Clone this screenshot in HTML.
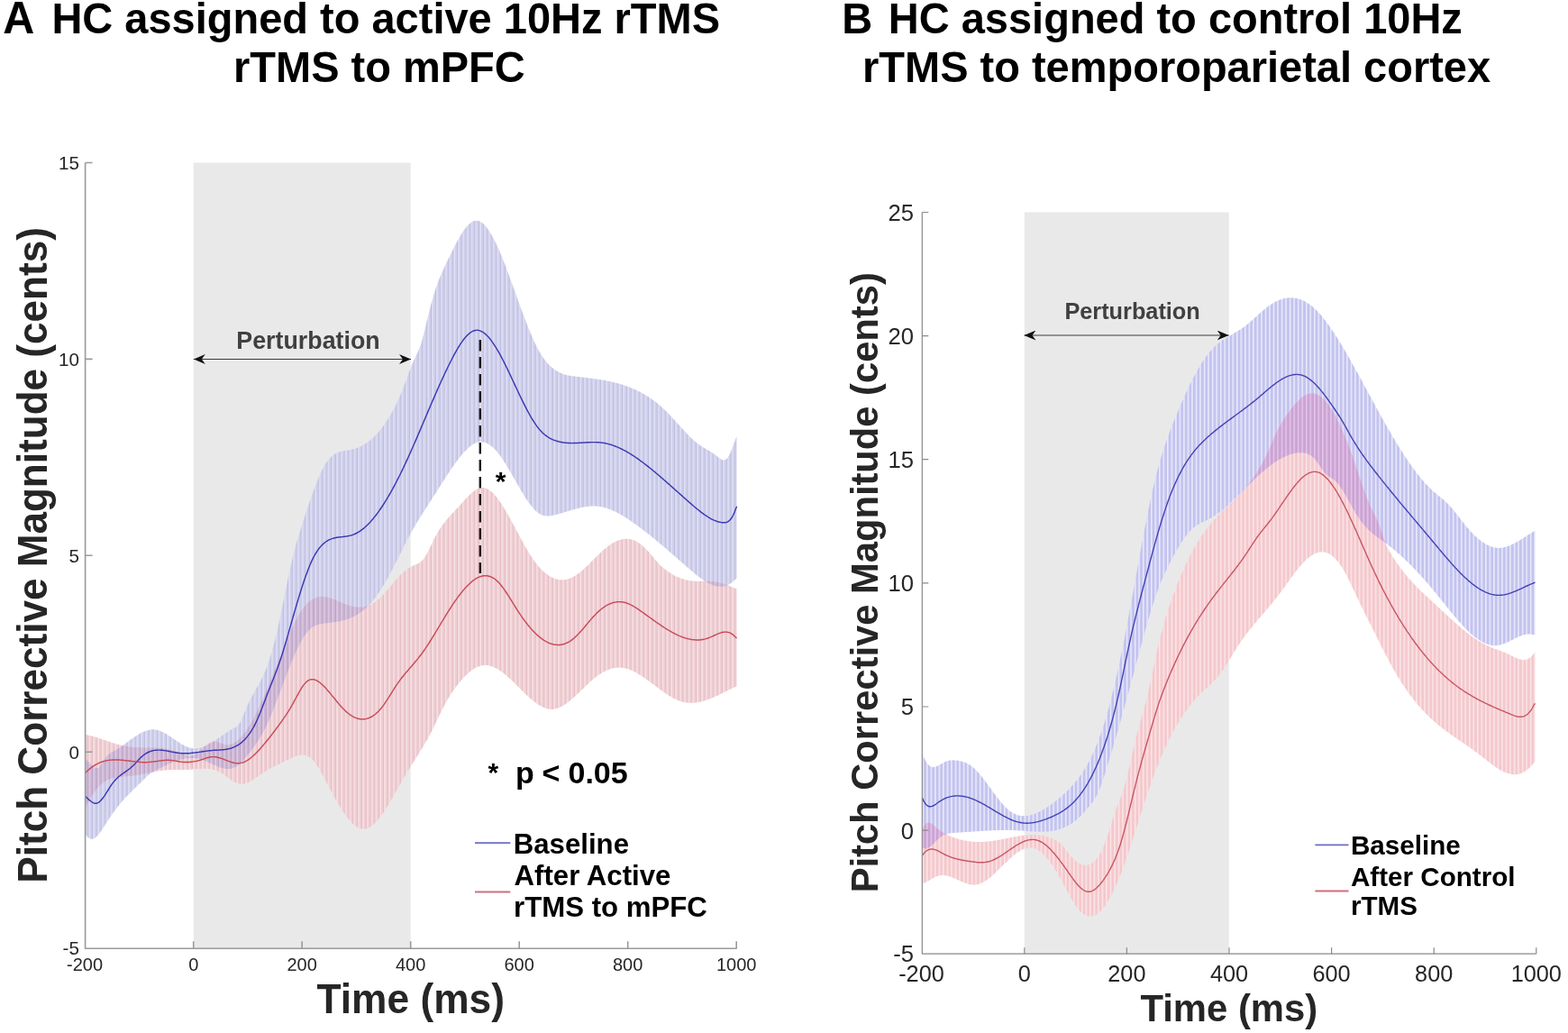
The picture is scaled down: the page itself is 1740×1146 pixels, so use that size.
<!DOCTYPE html>
<html><head><meta charset="utf-8"><style>
html,body{margin:0;padding:0;background:#ffffff;}
svg{display:block;}
text{font-family:"Liberation Sans",Arial,Helvetica,sans-serif;}
.t{font-weight:bold;fill:#000;}
.tk{fill:#262626;}
.lab{font-weight:bold;fill:#262626;}
.leg{font-weight:bold;fill:#000;}
</style></head><body>
<svg width="1740" height="1146" viewBox="0 0 1740 1146">
<rect x="0" y="0" width="1740" height="1146" fill="#ffffff"/>
<defs>
<marker id="ah" viewBox="0 0 13 11" refX="13" refY="5.5" markerWidth="13" markerHeight="11" markerUnits="userSpaceOnUse" orient="auto-start-reverse">
<path d="M0,0 L13,5.5 L0,11 L4,5.5 Z" fill="#111"/>
</marker>
</defs>
<!-- Titles -->
<text class="t" transform="translate(3.2,36.8) scale(1,1.04)" font-size="48.5">A</text>
<text class="t" transform="translate(57.4,36.8) scale(1,1.04)" font-size="47">HC assigned to active 10Hz rTMS</text>
<text class="t" transform="translate(259,90.6) scale(1,1.04)" font-size="47">rTMS to mPFC</text>
<text class="t" transform="translate(934.3,36.9) scale(1,1.04)" font-size="47">B</text>
<text class="t" transform="translate(985.8,36.9) scale(1,1.04)" font-size="47">HC assigned to control 10Hz</text>
<text class="t" transform="translate(957,90.6) scale(1,1.04)" font-size="47">rTMS to temporoparietal cortex</text>

<!-- LEFT PLOT -->
<rect x="214.7" y="180.5" width="241" height="871.7" fill="#e9e9e9"/>
<defs>
<pattern id="pbL" patternUnits="userSpaceOnUse" x="0.9" y="0" width="4.82" height="10"><rect width="4.82" height="10" fill="#cfcfeb"/><rect x="0" width="1.2" height="10" fill="#bdbddd"/><rect x="1.2" width="1.6" height="10" fill="#e0e0f6"/></pattern>
<pattern id="prL" patternUnits="userSpaceOnUse" x="0.9" y="0" width="4.82" height="10"><rect width="4.82" height="10" fill="#eecdd2"/><rect x="0" width="1.2" height="10" fill="#e3bdc3"/><rect x="1.2" width="1.6" height="10" fill="#f8e1e4"/></pattern>
<pattern id="ppL" patternUnits="userSpaceOnUse" x="0.9" y="0" width="4.82" height="10"><rect width="4.82" height="10" fill="#ccb5d4"/><rect x="0" width="1.2" height="10" fill="#bba0c5"/><rect x="1.2" width="1.6" height="10" fill="#dccbe2"/></pattern>
<pattern id="pbR" patternUnits="userSpaceOnUse" x="0.61" y="0" width="4.526" height="10"><rect width="4.526" height="10" fill="#c3c3ef"/><rect x="0" width="1.5" height="10" fill="#ebebfb"/></pattern>
<pattern id="prR" patternUnits="userSpaceOnUse" x="0.61" y="0" width="4.526" height="10"><rect width="4.526" height="10" fill="#f3c9cd"/><rect x="0" width="1.5" height="10" fill="#fde5e8"/></pattern>
<pattern id="ppR" patternUnits="userSpaceOnUse" x="0.61" y="0" width="4.526" height="10"><rect width="4.526" height="10" fill="#caa4d3"/><rect x="0" width="1.5" height="10" fill="#e6c5ea"/></pattern>
</defs>
<clipPath id="clipBL"><path d="M94.6,842.3 L95.6,842.8 L96.6,843.6 L97.6,844.5 L98.6,845.5 L99.6,846.6 L100.6,847.6 L101.6,848.7 L102.6,849.7 L103.6,850.6 L104.6,851.3 L105.6,851.9 L106.6,852.2 L107.6,852.3 L108.6,852.0 L109.6,851.4 L110.6,850.5 L111.6,849.3 L112.6,847.8 L113.6,846.3 L114.6,844.7 L115.6,843.0 L116.6,841.4 L117.6,839.9 L118.6,838.7 L119.6,837.6 L120.6,836.7 L121.6,835.9 L122.6,835.2 L123.6,834.6 L124.6,834.1 L125.6,833.6 L126.6,833.1 L127.6,832.5 L128.6,832.0 L129.6,831.4 L130.6,830.7 L131.6,830.1 L132.6,829.4 L133.6,828.8 L134.6,828.1 L135.6,827.4 L136.6,826.7 L137.6,825.9 L138.6,825.2 L139.6,824.5 L140.6,823.8 L141.6,823.0 L142.6,822.3 L143.6,821.6 L144.6,820.8 L145.6,820.1 L146.6,819.4 L147.6,818.7 L148.6,818.0 L149.6,817.3 L150.6,816.7 L151.6,816.0 L152.6,815.4 L153.6,814.8 L154.6,814.2 L155.6,813.6 L156.6,813.1 L157.6,812.6 L158.6,812.1 L159.6,811.7 L160.6,811.3 L161.6,810.9 L162.6,810.5 L163.6,810.2 L164.6,810.0 L165.6,809.7 L166.6,809.6 L167.6,809.4 L168.6,809.3 L169.6,809.3 L170.6,809.3 L171.6,809.4 L172.6,809.5 L173.6,809.7 L174.6,809.9 L175.6,810.2 L176.6,810.5 L177.6,810.9 L178.6,811.3 L179.6,811.7 L180.6,812.2 L181.6,812.7 L182.6,813.2 L183.6,813.8 L184.6,814.3 L185.6,815.0 L186.6,815.6 L187.6,816.2 L188.6,816.9 L189.6,817.5 L190.6,818.2 L191.6,818.9 L192.6,819.6 L193.6,820.3 L194.6,821.0 L195.6,821.6 L196.6,822.3 L197.6,823.0 L198.6,823.6 L199.6,824.3 L200.6,824.9 L201.6,825.5 L202.6,826.1 L203.6,826.6 L204.6,827.2 L205.6,827.6 L206.6,828.1 L207.6,828.5 L208.6,828.9 L209.6,829.3 L210.6,829.6 L211.6,829.8 L212.6,830.0 L213.6,830.2 L214.6,830.3 L215.6,830.4 L216.6,830.4 L217.6,830.3 L218.6,830.2 L219.6,830.1 L220.6,829.9 L221.6,829.7 L222.6,829.5 L223.6,829.2 L224.6,828.9 L225.6,828.5 L226.6,828.1 L227.6,827.7 L228.6,827.2 L229.6,826.7 L230.6,826.2 L231.6,825.7 L232.6,825.1 L233.6,824.6 L234.6,824.0 L235.6,823.3 L236.6,822.7 L237.6,822.1 L238.6,821.4 L239.6,820.8 L240.6,820.1 L241.6,819.4 L242.6,818.7 L243.6,818.0 L244.6,817.3 L245.6,816.6 L246.6,815.9 L247.6,815.2 L248.6,814.6 L249.6,813.9 L250.6,813.2 L251.6,812.5 L252.6,811.9 L253.6,811.3 L254.6,810.6 L255.6,810.0 L256.6,809.4 L257.6,808.9 L258.6,808.3 L259.6,807.8 L260.6,807.2 L261.6,806.7 L262.6,806.0 L263.6,805.1 L264.6,804.0 L265.6,802.7 L266.6,801.1 L267.6,799.2 L268.6,797.0 L269.6,794.6 L270.6,792.1 L271.6,789.6 L272.6,787.1 L273.6,784.8 L274.6,782.5 L275.6,780.4 L276.6,778.3 L277.6,776.3 L278.6,774.4 L279.6,772.6 L280.6,770.7 L281.6,768.9 L282.6,767.2 L283.6,765.4 L284.6,763.6 L285.6,761.9 L286.6,760.1 L287.6,758.2 L288.6,756.4 L289.6,754.4 L290.6,752.4 L291.6,750.3 L292.6,748.2 L293.6,745.9 L294.6,743.5 L295.6,741.0 L296.6,738.4 L297.6,735.6 L298.6,732.7 L299.6,729.6 L300.6,726.4 L301.6,723.0 L302.6,719.4 L303.6,715.7 L304.6,711.8 L305.6,707.8 L306.6,703.7 L307.6,699.4 L308.6,695.0 L309.6,690.5 L310.6,685.8 L311.6,681.1 L312.6,676.2 L313.6,671.4 L314.6,666.4 L315.6,661.5 L316.6,656.5 L317.6,651.6 L318.6,646.7 L319.6,641.8 L320.6,637.1 L321.6,632.4 L322.6,627.9 L323.6,623.5 L324.6,619.3 L325.6,615.2 L326.6,611.3 L327.6,607.5 L328.6,603.8 L329.6,600.3 L330.6,596.9 L331.6,593.5 L332.6,590.3 L333.6,587.1 L334.6,583.9 L335.6,580.8 L336.6,577.7 L337.6,574.6 L338.6,571.5 L339.6,568.5 L340.6,565.5 L341.6,562.4 L342.6,559.5 L343.6,556.5 L344.6,553.6 L345.6,550.7 L346.6,547.9 L347.6,545.1 L348.6,542.4 L349.6,539.8 L350.6,537.2 L351.6,534.6 L352.6,532.2 L353.6,529.8 L354.6,527.5 L355.6,525.3 L356.6,523.2 L357.6,521.2 L358.6,519.2 L359.6,517.4 L360.6,515.7 L361.6,514.1 L362.6,512.6 L363.6,511.2 L364.6,510.0 L365.6,508.8 L366.6,507.7 L367.6,506.8 L368.6,505.9 L369.6,505.1 L370.6,504.4 L371.6,503.7 L372.6,503.2 L373.6,502.7 L374.6,502.2 L375.6,501.8 L376.6,501.4 L377.6,501.1 L378.6,500.8 L379.6,500.6 L380.6,500.4 L381.6,500.2 L382.6,500.0 L383.6,499.8 L384.6,499.7 L385.6,499.5 L386.6,499.4 L387.6,499.2 L388.6,499.0 L389.6,498.8 L390.6,498.5 L391.6,498.3 L392.6,498.0 L393.6,497.7 L394.6,497.4 L395.6,497.0 L396.6,496.7 L397.6,496.3 L398.6,495.8 L399.6,495.4 L400.6,494.9 L401.6,494.4 L402.6,493.8 L403.6,493.3 L404.6,492.7 L405.6,492.0 L406.6,491.4 L407.6,490.7 L408.6,489.9 L409.6,489.2 L410.6,488.4 L411.6,487.6 L412.6,486.7 L413.6,485.8 L414.6,484.9 L415.6,483.9 L416.6,482.9 L417.6,481.9 L418.6,480.8 L419.6,479.7 L420.6,478.5 L421.6,477.3 L422.6,476.1 L423.6,474.8 L424.6,473.5 L425.6,472.2 L426.6,470.8 L427.6,469.3 L428.6,467.8 L429.6,466.3 L430.6,464.7 L431.6,463.1 L432.6,461.5 L433.6,459.7 L434.6,458.0 L435.6,456.2 L436.6,454.3 L437.6,452.4 L438.6,450.4 L439.6,448.4 L440.6,446.3 L441.6,444.1 L442.6,441.9 L443.6,439.7 L444.6,437.3 L445.6,434.9 L446.6,432.5 L447.6,430.0 L448.6,427.4 L449.6,424.7 L450.6,422.0 L451.6,419.2 L452.6,416.4 L453.6,413.6 L454.6,410.9 L455.6,408.2 L456.6,405.7 L457.6,403.2 L458.6,400.9 L459.6,398.8 L460.6,396.8 L461.6,394.8 L462.6,392.7 L463.6,390.6 L464.6,388.3 L465.6,385.8 L466.6,383.0 L467.6,379.9 L468.6,376.4 L469.6,372.8 L470.6,368.9 L471.6,364.9 L472.6,360.7 L473.6,356.5 L474.6,352.3 L475.6,348.2 L476.6,344.1 L477.6,340.2 L478.6,336.4 L479.6,332.8 L480.6,329.4 L481.6,326.1 L482.6,322.9 L483.6,319.9 L484.6,317.0 L485.6,314.3 L486.6,311.6 L487.6,309.1 L488.6,306.6 L489.6,304.2 L490.6,301.9 L491.6,299.7 L492.6,297.5 L493.6,295.3 L494.6,293.2 L495.6,291.1 L496.6,289.1 L497.6,287.0 L498.6,285.0 L499.6,282.9 L500.6,280.9 L501.6,278.9 L502.6,276.9 L503.6,274.9 L504.6,272.9 L505.6,271.0 L506.6,269.1 L507.6,267.3 L508.6,265.4 L509.6,263.7 L510.6,261.9 L511.6,260.3 L512.6,258.7 L513.6,257.1 L514.6,255.7 L515.6,254.3 L516.6,253.0 L517.6,251.7 L518.6,250.6 L519.6,249.5 L520.6,248.5 L521.6,247.7 L522.6,246.9 L523.6,246.2 L524.6,245.7 L525.6,245.2 L526.6,244.9 L527.6,244.7 L528.6,244.7 L529.6,244.7 L530.6,244.9 L531.6,245.2 L532.6,245.6 L533.6,246.2 L534.6,246.9 L535.6,247.6 L536.6,248.5 L537.6,249.5 L538.6,250.6 L539.6,251.7 L540.6,253.0 L541.6,254.4 L542.6,255.9 L543.6,257.4 L544.6,259.0 L545.6,260.7 L546.6,262.5 L547.6,264.4 L548.6,266.3 L549.6,268.3 L550.6,270.4 L551.6,272.6 L552.6,274.8 L553.6,277.0 L554.6,279.3 L555.6,281.7 L556.6,284.1 L557.6,286.5 L558.6,289.0 L559.6,291.6 L560.6,294.1 L561.6,296.8 L562.6,299.4 L563.6,302.1 L564.6,304.7 L565.6,307.5 L566.6,310.2 L567.6,312.9 L568.6,315.7 L569.6,318.5 L570.6,321.3 L571.6,324.0 L572.6,326.8 L573.6,329.6 L574.6,332.4 L575.6,335.2 L576.6,337.9 L577.6,340.7 L578.6,343.4 L579.6,346.1 L580.6,348.8 L581.6,351.5 L582.6,354.1 L583.6,356.7 L584.6,359.3 L585.6,361.8 L586.6,364.3 L587.6,366.8 L588.6,369.2 L589.6,371.5 L590.6,373.8 L591.6,376.1 L592.6,378.3 L593.6,380.4 L594.6,382.5 L595.6,384.5 L596.6,386.4 L597.6,388.3 L598.6,390.1 L599.6,391.8 L600.6,393.4 L601.6,395.0 L602.6,396.5 L603.6,397.9 L604.6,399.2 L605.6,400.5 L606.6,401.7 L607.6,402.9 L608.6,404.0 L609.6,405.0 L610.6,406.0 L611.6,406.9 L612.6,407.8 L613.6,408.6 L614.6,409.4 L615.6,410.1 L616.6,410.8 L617.6,411.4 L618.6,412.0 L619.6,412.5 L620.6,413.0 L621.6,413.5 L622.6,414.0 L623.6,414.4 L624.6,414.7 L625.6,415.1 L626.6,415.4 L627.6,415.7 L628.6,415.9 L629.6,416.2 L630.6,416.4 L631.6,416.6 L632.6,416.8 L633.6,416.9 L634.6,417.1 L635.6,417.3 L636.6,417.4 L637.6,417.5 L638.6,417.6 L639.6,417.8 L640.6,417.9 L641.6,418.0 L642.6,418.1 L643.6,418.2 L644.6,418.4 L645.6,418.5 L646.6,418.6 L647.6,418.7 L648.6,418.8 L649.6,419.0 L650.6,419.1 L651.6,419.2 L652.6,419.3 L653.6,419.4 L654.6,419.6 L655.6,419.7 L656.6,419.8 L657.6,420.0 L658.6,420.1 L659.6,420.2 L660.6,420.4 L661.6,420.5 L662.6,420.6 L663.6,420.8 L664.6,420.9 L665.6,421.1 L666.6,421.3 L667.6,421.4 L668.6,421.6 L669.6,421.8 L670.6,421.9 L671.6,422.1 L672.6,422.3 L673.6,422.5 L674.6,422.7 L675.6,422.9 L676.6,423.1 L677.6,423.3 L678.6,423.5 L679.6,423.8 L680.6,424.0 L681.6,424.2 L682.6,424.5 L683.6,424.7 L684.6,425.0 L685.6,425.3 L686.6,425.6 L687.6,425.8 L688.6,426.1 L689.6,426.4 L690.6,426.7 L691.6,427.1 L692.6,427.4 L693.6,427.7 L694.6,428.1 L695.6,428.4 L696.6,428.8 L697.6,429.2 L698.6,429.6 L699.6,429.9 L700.6,430.4 L701.6,430.8 L702.6,431.2 L703.6,431.6 L704.6,432.1 L705.6,432.5 L706.6,433.0 L707.6,433.5 L708.6,434.0 L709.6,434.5 L710.6,435.0 L711.6,435.6 L712.6,436.1 L713.6,436.7 L714.6,437.3 L715.6,437.9 L716.6,438.5 L717.6,439.1 L718.6,439.7 L719.6,440.3 L720.6,441.0 L721.6,441.7 L722.6,442.4 L723.6,443.1 L724.6,443.8 L725.6,444.5 L726.6,445.3 L727.6,446.1 L728.6,446.8 L729.6,447.6 L730.6,448.5 L731.6,449.3 L732.6,450.1 L733.6,451.0 L734.6,451.9 L735.6,452.8 L736.6,453.7 L737.6,454.7 L738.6,455.6 L739.6,456.6 L740.6,457.6 L741.6,458.6 L742.6,459.6 L743.6,460.7 L744.6,461.7 L745.6,462.8 L746.6,463.9 L747.6,465.0 L748.6,466.1 L749.6,467.2 L750.6,468.3 L751.6,469.4 L752.6,470.5 L753.6,471.6 L754.6,472.7 L755.6,473.8 L756.6,474.9 L757.6,476.0 L758.6,477.1 L759.6,478.2 L760.6,479.3 L761.6,480.3 L762.6,481.4 L763.6,482.4 L764.6,483.4 L765.6,484.4 L766.6,485.4 L767.6,486.4 L768.6,487.3 L769.6,488.2 L770.6,489.1 L771.6,489.9 L772.6,490.8 L773.6,491.6 L774.6,492.4 L775.6,493.1 L776.6,493.8 L777.6,494.5 L778.6,495.1 L779.6,495.8 L780.6,496.4 L781.6,497.0 L782.6,497.6 L783.6,498.2 L784.6,498.8 L785.6,499.3 L786.6,499.9 L787.6,500.5 L788.6,501.1 L789.6,501.8 L790.6,502.4 L791.6,503.1 L792.6,503.8 L793.6,504.5 L794.6,505.3 L795.6,506.1 L796.6,506.9 L797.6,507.7 L798.6,508.5 L799.6,509.1 L800.6,509.7 L801.6,510.1 L802.6,510.4 L803.6,510.4 L804.6,510.1 L805.6,509.6 L806.6,508.8 L807.6,507.6 L808.6,506.1 L809.6,504.2 L810.6,502.0 L811.6,499.5 L812.6,496.9 L813.6,494.3 L814.6,491.5 L815.6,488.9 L816.6,486.3 L817.6,483.9 L817.7,483.7 L817.7,641.1 L817.6,641.2 L816.6,642.3 L815.6,643.3 L814.6,644.2 L813.6,645.1 L812.6,645.9 L811.6,646.6 L810.6,647.3 L809.6,647.9 L808.6,648.4 L807.6,648.9 L806.6,649.3 L805.6,649.7 L804.6,650.0 L803.6,650.3 L802.6,650.4 L801.6,650.6 L800.6,650.7 L799.6,650.7 L798.6,650.7 L797.6,650.6 L796.6,650.5 L795.6,650.4 L794.6,650.2 L793.6,649.9 L792.6,649.7 L791.6,649.4 L790.6,649.0 L789.6,648.6 L788.6,648.2 L787.6,647.7 L786.6,647.2 L785.6,646.7 L784.6,646.1 L783.6,645.6 L782.6,645.0 L781.6,644.3 L780.6,643.7 L779.6,643.0 L778.6,642.3 L777.6,641.5 L776.6,640.8 L775.6,640.0 L774.6,639.3 L773.6,638.5 L772.6,637.7 L771.6,636.9 L770.6,636.0 L769.6,635.2 L768.6,634.3 L767.6,633.5 L766.6,632.6 L765.6,631.8 L764.6,630.9 L763.6,630.0 L762.6,629.2 L761.6,628.3 L760.6,627.4 L759.6,626.6 L758.6,625.7 L757.6,624.8 L756.6,624.0 L755.6,623.1 L754.6,622.2 L753.6,621.4 L752.6,620.5 L751.6,619.6 L750.6,618.7 L749.6,617.9 L748.6,617.0 L747.6,616.1 L746.6,615.3 L745.6,614.4 L744.6,613.5 L743.6,612.7 L742.6,611.8 L741.6,610.9 L740.6,610.1 L739.6,609.2 L738.6,608.3 L737.6,607.5 L736.6,606.6 L735.6,605.8 L734.6,604.9 L733.6,604.1 L732.6,603.2 L731.6,602.4 L730.6,601.6 L729.6,600.7 L728.6,599.9 L727.6,599.1 L726.6,598.2 L725.6,597.4 L724.6,596.6 L723.6,595.8 L722.6,595.0 L721.6,594.2 L720.6,593.4 L719.6,592.6 L718.6,591.8 L717.6,591.0 L716.6,590.2 L715.6,589.4 L714.6,588.7 L713.6,587.9 L712.6,587.1 L711.6,586.4 L710.6,585.6 L709.6,584.9 L708.6,584.1 L707.6,583.4 L706.6,582.7 L705.6,581.9 L704.6,581.2 L703.6,580.5 L702.6,579.8 L701.6,579.1 L700.6,578.4 L699.6,577.7 L698.6,577.1 L697.6,576.4 L696.6,575.7 L695.6,575.1 L694.6,574.4 L693.6,573.8 L692.6,573.2 L691.6,572.6 L690.6,572.0 L689.6,571.4 L688.6,570.8 L687.6,570.3 L686.6,569.7 L685.6,569.2 L684.6,568.6 L683.6,568.1 L682.6,567.6 L681.6,567.2 L680.6,566.7 L679.6,566.3 L678.6,565.8 L677.6,565.4 L676.6,565.0 L675.6,564.7 L674.6,564.3 L673.6,564.0 L672.6,563.6 L671.6,563.4 L670.6,563.1 L669.6,562.8 L668.6,562.6 L667.6,562.4 L666.6,562.2 L665.6,562.0 L664.6,561.9 L663.6,561.8 L662.6,561.7 L661.6,561.6 L660.6,561.5 L659.6,561.5 L658.6,561.5 L657.6,561.5 L656.6,561.6 L655.6,561.6 L654.6,561.7 L653.6,561.8 L652.6,561.9 L651.6,562.0 L650.6,562.1 L649.6,562.3 L648.6,562.4 L647.6,562.6 L646.6,562.8 L645.6,563.0 L644.6,563.2 L643.6,563.4 L642.6,563.7 L641.6,563.9 L640.6,564.2 L639.6,564.4 L638.6,564.7 L637.6,565.0 L636.6,565.3 L635.6,565.5 L634.6,565.8 L633.6,566.1 L632.6,566.4 L631.6,566.7 L630.6,567.0 L629.6,567.3 L628.6,567.6 L627.6,567.9 L626.6,568.2 L625.6,568.6 L624.6,568.9 L623.6,569.1 L622.6,569.4 L621.6,569.7 L620.6,570.0 L619.6,570.3 L618.6,570.6 L617.6,570.8 L616.6,571.1 L615.6,571.3 L614.6,571.6 L613.6,571.8 L612.6,572.0 L611.6,572.2 L610.6,572.3 L609.6,572.5 L608.6,572.5 L607.6,572.6 L606.6,572.5 L605.6,572.5 L604.6,572.3 L603.6,572.1 L602.6,571.9 L601.6,571.5 L600.6,571.1 L599.6,570.6 L598.6,570.0 L597.6,569.3 L596.6,568.6 L595.6,567.7 L594.6,566.8 L593.6,565.9 L592.6,564.8 L591.6,563.7 L590.6,562.6 L589.6,561.3 L588.6,560.1 L587.6,558.7 L586.6,557.4 L585.6,555.9 L584.6,554.5 L583.6,552.9 L582.6,551.4 L581.6,549.8 L580.6,548.2 L579.6,546.6 L578.6,544.9 L577.6,543.2 L576.6,541.5 L575.6,539.8 L574.6,538.0 L573.6,536.3 L572.6,534.5 L571.6,532.8 L570.6,531.0 L569.6,529.2 L568.6,527.5 L567.6,525.7 L566.6,524.0 L565.6,522.3 L564.6,520.6 L563.6,518.9 L562.6,517.2 L561.6,515.6 L560.6,514.0 L559.6,512.4 L558.6,510.8 L557.6,509.3 L556.6,507.9 L555.6,506.4 L554.6,505.1 L553.6,503.7 L552.6,502.5 L551.6,501.2 L550.6,500.1 L549.6,499.0 L548.6,497.9 L547.6,497.0 L546.6,496.0 L545.6,495.2 L544.6,494.4 L543.6,493.7 L542.6,493.0 L541.6,492.4 L540.6,491.9 L539.6,491.4 L538.6,491.0 L537.6,490.7 L536.6,490.5 L535.6,490.3 L534.6,490.2 L533.6,490.2 L532.6,490.2 L531.6,490.3 L530.6,490.5 L529.6,490.8 L528.6,491.2 L527.6,491.6 L526.6,492.0 L525.6,492.6 L524.6,493.2 L523.6,493.9 L522.6,494.6 L521.6,495.3 L520.6,496.2 L519.6,497.0 L518.6,498.0 L517.6,498.9 L516.6,500.0 L515.6,501.0 L514.6,502.1 L513.6,503.3 L512.6,504.4 L511.6,505.6 L510.6,506.9 L509.6,508.1 L508.6,509.4 L507.6,510.7 L506.6,512.1 L505.6,513.4 L504.6,514.8 L503.6,516.2 L502.6,517.7 L501.6,519.1 L500.6,520.6 L499.6,522.0 L498.6,523.5 L497.6,525.0 L496.6,526.6 L495.6,528.1 L494.6,529.6 L493.6,531.2 L492.6,532.7 L491.6,534.3 L490.6,535.9 L489.6,537.4 L488.6,539.0 L487.6,540.6 L486.6,542.2 L485.6,543.7 L484.6,545.3 L483.6,546.9 L482.6,548.4 L481.6,550.0 L480.6,551.6 L479.6,553.1 L478.6,554.7 L477.6,556.2 L476.6,557.7 L475.6,559.3 L474.6,560.8 L473.6,562.4 L472.6,563.9 L471.6,565.5 L470.6,567.0 L469.6,568.6 L468.6,570.2 L467.6,571.8 L466.6,573.4 L465.6,575.0 L464.6,576.6 L463.6,578.2 L462.6,579.9 L461.6,581.6 L460.6,583.3 L459.6,585.0 L458.6,586.7 L457.6,588.4 L456.6,590.2 L455.6,592.0 L454.6,593.8 L453.6,595.7 L452.6,597.5 L451.6,599.4 L450.6,601.4 L449.6,603.3 L448.6,605.3 L447.6,607.3 L446.6,609.4 L445.6,611.4 L444.6,613.4 L443.6,615.5 L442.6,617.5 L441.6,619.5 L440.6,621.5 L439.6,623.5 L438.6,625.5 L437.6,627.4 L436.6,629.4 L435.6,631.3 L434.6,633.2 L433.6,635.1 L432.6,637.0 L431.6,638.8 L430.6,640.7 L429.6,642.5 L428.6,644.2 L427.6,646.0 L426.6,647.7 L425.6,649.4 L424.6,651.0 L423.6,652.7 L422.6,654.3 L421.6,655.8 L420.6,657.3 L419.6,658.8 L418.6,660.2 L417.6,661.6 L416.6,662.9 L415.6,664.2 L414.6,665.5 L413.6,666.7 L412.6,667.9 L411.6,669.0 L410.6,670.1 L409.6,671.1 L408.6,672.2 L407.6,673.1 L406.6,674.1 L405.6,675.0 L404.6,675.9 L403.6,676.7 L402.6,677.5 L401.6,678.3 L400.6,679.0 L399.6,679.7 L398.6,680.4 L397.6,681.1 L396.6,681.7 L395.6,682.3 L394.6,682.8 L393.6,683.4 L392.6,683.9 L391.6,684.4 L390.6,684.9 L389.6,685.3 L388.6,685.7 L387.6,686.1 L386.6,686.5 L385.6,686.9 L384.6,687.2 L383.6,687.5 L382.6,687.8 L381.6,688.1 L380.6,688.4 L379.6,688.6 L378.6,688.9 L377.6,689.1 L376.6,689.3 L375.6,689.5 L374.6,689.7 L373.6,689.9 L372.6,690.0 L371.6,690.2 L370.6,690.3 L369.6,690.5 L368.6,690.6 L367.6,690.7 L366.6,690.9 L365.6,691.0 L364.6,691.1 L363.6,691.2 L362.6,691.3 L361.6,691.4 L360.6,691.5 L359.6,691.6 L358.6,691.7 L357.6,691.9 L356.6,692.0 L355.6,692.2 L354.6,692.4 L353.6,692.7 L352.6,693.0 L351.6,693.3 L350.6,693.7 L349.6,694.2 L348.6,694.7 L347.6,695.3 L346.6,695.9 L345.6,696.6 L344.6,697.5 L343.6,698.4 L342.6,699.4 L341.6,700.5 L340.6,701.7 L339.6,703.0 L338.6,704.3 L337.6,705.8 L336.6,707.4 L335.6,709.0 L334.6,710.8 L333.6,712.6 L332.6,714.5 L331.6,716.4 L330.6,718.5 L329.6,720.6 L328.6,722.7 L327.6,724.9 L326.6,727.2 L325.6,729.5 L324.6,731.9 L323.6,734.3 L322.6,736.8 L321.6,739.2 L320.6,741.8 L319.6,744.3 L318.6,746.9 L317.6,749.5 L316.6,752.2 L315.6,754.8 L314.6,757.5 L313.6,760.2 L312.6,762.9 L311.6,765.6 L310.6,768.2 L309.6,770.9 L308.6,773.6 L307.6,776.2 L306.6,778.9 L305.6,781.5 L304.6,784.0 L303.6,786.6 L302.6,789.1 L301.6,791.6 L300.6,794.0 L299.6,796.3 L298.6,798.7 L297.6,800.9 L296.6,803.1 L295.6,805.3 L294.6,807.3 L293.6,809.3 L292.6,811.2 L291.6,813.1 L290.6,814.9 L289.6,816.6 L288.6,818.3 L287.6,819.9 L286.6,821.5 L285.6,823.0 L284.6,824.5 L283.6,825.9 L282.6,827.4 L281.6,828.8 L280.6,830.2 L279.6,831.5 L278.6,832.9 L277.6,834.2 L276.6,835.5 L275.6,836.8 L274.6,838.1 L273.6,839.3 L272.6,840.6 L271.6,841.7 L270.6,842.9 L269.6,844.0 L268.6,845.0 L267.6,846.0 L266.6,847.0 L265.6,847.9 L264.6,848.7 L263.6,849.4 L262.6,850.1 L261.6,850.7 L260.6,851.2 L259.6,851.6 L258.6,852.0 L257.6,852.3 L256.6,852.5 L255.6,852.7 L254.6,852.9 L253.6,852.9 L252.6,852.9 L251.6,852.9 L250.6,852.8 L249.6,852.7 L248.6,852.5 L247.6,852.3 L246.6,852.1 L245.6,851.8 L244.6,851.5 L243.6,851.2 L242.6,850.8 L241.6,850.4 L240.6,850.0 L239.6,849.6 L238.6,849.1 L237.6,848.7 L236.6,848.2 L235.6,847.8 L234.6,847.3 L233.6,846.8 L232.6,846.3 L231.6,845.9 L230.6,845.4 L229.6,845.0 L228.6,844.5 L227.6,844.1 L226.6,843.7 L225.6,843.3 L224.6,843.0 L223.6,842.6 L222.6,842.3 L221.6,842.0 L220.6,841.8 L219.6,841.6 L218.6,841.4 L217.6,841.3 L216.6,841.1 L215.6,841.0 L214.6,841.0 L213.6,840.9 L212.6,840.9 L211.6,841.0 L210.6,841.0 L209.6,841.1 L208.6,841.2 L207.6,841.3 L206.6,841.4 L205.6,841.6 L204.6,841.8 L203.6,842.0 L202.6,842.2 L201.6,842.4 L200.6,842.7 L199.6,843.0 L198.6,843.3 L197.6,843.6 L196.6,843.9 L195.6,844.3 L194.6,844.6 L193.6,845.0 L192.6,845.4 L191.6,845.8 L190.6,846.2 L189.6,846.6 L188.6,847.1 L187.6,847.5 L186.6,848.0 L185.6,848.4 L184.6,848.9 L183.6,849.4 L182.6,849.8 L181.6,850.3 L180.6,850.8 L179.6,851.3 L178.6,851.8 L177.6,852.3 L176.6,852.8 L175.6,853.3 L174.6,853.8 L173.6,854.3 L172.6,854.8 L171.6,855.3 L170.6,855.9 L169.6,856.5 L168.6,857.1 L167.6,857.7 L166.6,858.4 L165.6,859.2 L164.6,860.0 L163.6,860.8 L162.6,861.7 L161.6,862.7 L160.6,863.7 L159.6,864.7 L158.6,865.7 L157.6,866.7 L156.6,867.7 L155.6,868.7 L154.6,869.7 L153.6,870.6 L152.6,871.6 L151.6,872.6 L150.6,873.5 L149.6,874.5 L148.6,875.4 L147.6,876.4 L146.6,877.4 L145.6,878.4 L144.6,879.4 L143.6,880.4 L142.6,881.4 L141.6,882.4 L140.6,883.5 L139.6,884.5 L138.6,885.6 L137.6,886.7 L136.6,887.9 L135.6,889.0 L134.6,890.2 L133.6,891.4 L132.6,892.6 L131.6,893.9 L130.6,895.1 L129.6,896.4 L128.6,897.8 L127.6,899.1 L126.6,900.5 L125.6,901.8 L124.6,903.3 L123.6,904.7 L122.6,906.1 L121.6,907.6 L120.6,909.1 L119.6,910.6 L118.6,912.2 L117.6,913.7 L116.6,915.3 L115.6,916.8 L114.6,918.4 L113.6,919.9 L112.6,921.4 L111.6,922.8 L110.6,924.2 L109.6,925.4 L108.6,926.6 L107.6,927.7 L106.6,928.6 L105.6,929.4 L104.6,930.0 L103.6,930.5 L102.6,930.8 L101.6,930.9 L100.6,930.8 L99.6,930.4 L98.6,929.8 L97.6,929.0 L96.6,927.9 L95.6,926.5 L94.6,924.9 Z"/></clipPath>
<path d="M94.6,842.3 L95.6,842.8 L96.6,843.6 L97.6,844.5 L98.6,845.5 L99.6,846.6 L100.6,847.6 L101.6,848.7 L102.6,849.7 L103.6,850.6 L104.6,851.3 L105.6,851.9 L106.6,852.2 L107.6,852.3 L108.6,852.0 L109.6,851.4 L110.6,850.5 L111.6,849.3 L112.6,847.8 L113.6,846.3 L114.6,844.7 L115.6,843.0 L116.6,841.4 L117.6,839.9 L118.6,838.7 L119.6,837.6 L120.6,836.7 L121.6,835.9 L122.6,835.2 L123.6,834.6 L124.6,834.1 L125.6,833.6 L126.6,833.1 L127.6,832.5 L128.6,832.0 L129.6,831.4 L130.6,830.7 L131.6,830.1 L132.6,829.4 L133.6,828.8 L134.6,828.1 L135.6,827.4 L136.6,826.7 L137.6,825.9 L138.6,825.2 L139.6,824.5 L140.6,823.8 L141.6,823.0 L142.6,822.3 L143.6,821.6 L144.6,820.8 L145.6,820.1 L146.6,819.4 L147.6,818.7 L148.6,818.0 L149.6,817.3 L150.6,816.7 L151.6,816.0 L152.6,815.4 L153.6,814.8 L154.6,814.2 L155.6,813.6 L156.6,813.1 L157.6,812.6 L158.6,812.1 L159.6,811.7 L160.6,811.3 L161.6,810.9 L162.6,810.5 L163.6,810.2 L164.6,810.0 L165.6,809.7 L166.6,809.6 L167.6,809.4 L168.6,809.3 L169.6,809.3 L170.6,809.3 L171.6,809.4 L172.6,809.5 L173.6,809.7 L174.6,809.9 L175.6,810.2 L176.6,810.5 L177.6,810.9 L178.6,811.3 L179.6,811.7 L180.6,812.2 L181.6,812.7 L182.6,813.2 L183.6,813.8 L184.6,814.3 L185.6,815.0 L186.6,815.6 L187.6,816.2 L188.6,816.9 L189.6,817.5 L190.6,818.2 L191.6,818.9 L192.6,819.6 L193.6,820.3 L194.6,821.0 L195.6,821.6 L196.6,822.3 L197.6,823.0 L198.6,823.6 L199.6,824.3 L200.6,824.9 L201.6,825.5 L202.6,826.1 L203.6,826.6 L204.6,827.2 L205.6,827.6 L206.6,828.1 L207.6,828.5 L208.6,828.9 L209.6,829.3 L210.6,829.6 L211.6,829.8 L212.6,830.0 L213.6,830.2 L214.6,830.3 L215.6,830.4 L216.6,830.4 L217.6,830.3 L218.6,830.2 L219.6,830.1 L220.6,829.9 L221.6,829.7 L222.6,829.5 L223.6,829.2 L224.6,828.9 L225.6,828.5 L226.6,828.1 L227.6,827.7 L228.6,827.2 L229.6,826.7 L230.6,826.2 L231.6,825.7 L232.6,825.1 L233.6,824.6 L234.6,824.0 L235.6,823.3 L236.6,822.7 L237.6,822.1 L238.6,821.4 L239.6,820.8 L240.6,820.1 L241.6,819.4 L242.6,818.7 L243.6,818.0 L244.6,817.3 L245.6,816.6 L246.6,815.9 L247.6,815.2 L248.6,814.6 L249.6,813.9 L250.6,813.2 L251.6,812.5 L252.6,811.9 L253.6,811.3 L254.6,810.6 L255.6,810.0 L256.6,809.4 L257.6,808.9 L258.6,808.3 L259.6,807.8 L260.6,807.2 L261.6,806.7 L262.6,806.0 L263.6,805.1 L264.6,804.0 L265.6,802.7 L266.6,801.1 L267.6,799.2 L268.6,797.0 L269.6,794.6 L270.6,792.1 L271.6,789.6 L272.6,787.1 L273.6,784.8 L274.6,782.5 L275.6,780.4 L276.6,778.3 L277.6,776.3 L278.6,774.4 L279.6,772.6 L280.6,770.7 L281.6,768.9 L282.6,767.2 L283.6,765.4 L284.6,763.6 L285.6,761.9 L286.6,760.1 L287.6,758.2 L288.6,756.4 L289.6,754.4 L290.6,752.4 L291.6,750.3 L292.6,748.2 L293.6,745.9 L294.6,743.5 L295.6,741.0 L296.6,738.4 L297.6,735.6 L298.6,732.7 L299.6,729.6 L300.6,726.4 L301.6,723.0 L302.6,719.4 L303.6,715.7 L304.6,711.8 L305.6,707.8 L306.6,703.7 L307.6,699.4 L308.6,695.0 L309.6,690.5 L310.6,685.8 L311.6,681.1 L312.6,676.2 L313.6,671.4 L314.6,666.4 L315.6,661.5 L316.6,656.5 L317.6,651.6 L318.6,646.7 L319.6,641.8 L320.6,637.1 L321.6,632.4 L322.6,627.9 L323.6,623.5 L324.6,619.3 L325.6,615.2 L326.6,611.3 L327.6,607.5 L328.6,603.8 L329.6,600.3 L330.6,596.9 L331.6,593.5 L332.6,590.3 L333.6,587.1 L334.6,583.9 L335.6,580.8 L336.6,577.7 L337.6,574.6 L338.6,571.5 L339.6,568.5 L340.6,565.5 L341.6,562.4 L342.6,559.5 L343.6,556.5 L344.6,553.6 L345.6,550.7 L346.6,547.9 L347.6,545.1 L348.6,542.4 L349.6,539.8 L350.6,537.2 L351.6,534.6 L352.6,532.2 L353.6,529.8 L354.6,527.5 L355.6,525.3 L356.6,523.2 L357.6,521.2 L358.6,519.2 L359.6,517.4 L360.6,515.7 L361.6,514.1 L362.6,512.6 L363.6,511.2 L364.6,510.0 L365.6,508.8 L366.6,507.7 L367.6,506.8 L368.6,505.9 L369.6,505.1 L370.6,504.4 L371.6,503.7 L372.6,503.2 L373.6,502.7 L374.6,502.2 L375.6,501.8 L376.6,501.4 L377.6,501.1 L378.6,500.8 L379.6,500.6 L380.6,500.4 L381.6,500.2 L382.6,500.0 L383.6,499.8 L384.6,499.7 L385.6,499.5 L386.6,499.4 L387.6,499.2 L388.6,499.0 L389.6,498.8 L390.6,498.5 L391.6,498.3 L392.6,498.0 L393.6,497.7 L394.6,497.4 L395.6,497.0 L396.6,496.7 L397.6,496.3 L398.6,495.8 L399.6,495.4 L400.6,494.9 L401.6,494.4 L402.6,493.8 L403.6,493.3 L404.6,492.7 L405.6,492.0 L406.6,491.4 L407.6,490.7 L408.6,489.9 L409.6,489.2 L410.6,488.4 L411.6,487.6 L412.6,486.7 L413.6,485.8 L414.6,484.9 L415.6,483.9 L416.6,482.9 L417.6,481.9 L418.6,480.8 L419.6,479.7 L420.6,478.5 L421.6,477.3 L422.6,476.1 L423.6,474.8 L424.6,473.5 L425.6,472.2 L426.6,470.8 L427.6,469.3 L428.6,467.8 L429.6,466.3 L430.6,464.7 L431.6,463.1 L432.6,461.5 L433.6,459.7 L434.6,458.0 L435.6,456.2 L436.6,454.3 L437.6,452.4 L438.6,450.4 L439.6,448.4 L440.6,446.3 L441.6,444.1 L442.6,441.9 L443.6,439.7 L444.6,437.3 L445.6,434.9 L446.6,432.5 L447.6,430.0 L448.6,427.4 L449.6,424.7 L450.6,422.0 L451.6,419.2 L452.6,416.4 L453.6,413.6 L454.6,410.9 L455.6,408.2 L456.6,405.7 L457.6,403.2 L458.6,400.9 L459.6,398.8 L460.6,396.8 L461.6,394.8 L462.6,392.7 L463.6,390.6 L464.6,388.3 L465.6,385.8 L466.6,383.0 L467.6,379.9 L468.6,376.4 L469.6,372.8 L470.6,368.9 L471.6,364.9 L472.6,360.7 L473.6,356.5 L474.6,352.3 L475.6,348.2 L476.6,344.1 L477.6,340.2 L478.6,336.4 L479.6,332.8 L480.6,329.4 L481.6,326.1 L482.6,322.9 L483.6,319.9 L484.6,317.0 L485.6,314.3 L486.6,311.6 L487.6,309.1 L488.6,306.6 L489.6,304.2 L490.6,301.9 L491.6,299.7 L492.6,297.5 L493.6,295.3 L494.6,293.2 L495.6,291.1 L496.6,289.1 L497.6,287.0 L498.6,285.0 L499.6,282.9 L500.6,280.9 L501.6,278.9 L502.6,276.9 L503.6,274.9 L504.6,272.9 L505.6,271.0 L506.6,269.1 L507.6,267.3 L508.6,265.4 L509.6,263.7 L510.6,261.9 L511.6,260.3 L512.6,258.7 L513.6,257.1 L514.6,255.7 L515.6,254.3 L516.6,253.0 L517.6,251.7 L518.6,250.6 L519.6,249.5 L520.6,248.5 L521.6,247.7 L522.6,246.9 L523.6,246.2 L524.6,245.7 L525.6,245.2 L526.6,244.9 L527.6,244.7 L528.6,244.7 L529.6,244.7 L530.6,244.9 L531.6,245.2 L532.6,245.6 L533.6,246.2 L534.6,246.9 L535.6,247.6 L536.6,248.5 L537.6,249.5 L538.6,250.6 L539.6,251.7 L540.6,253.0 L541.6,254.4 L542.6,255.9 L543.6,257.4 L544.6,259.0 L545.6,260.7 L546.6,262.5 L547.6,264.4 L548.6,266.3 L549.6,268.3 L550.6,270.4 L551.6,272.6 L552.6,274.8 L553.6,277.0 L554.6,279.3 L555.6,281.7 L556.6,284.1 L557.6,286.5 L558.6,289.0 L559.6,291.6 L560.6,294.1 L561.6,296.8 L562.6,299.4 L563.6,302.1 L564.6,304.7 L565.6,307.5 L566.6,310.2 L567.6,312.9 L568.6,315.7 L569.6,318.5 L570.6,321.3 L571.6,324.0 L572.6,326.8 L573.6,329.6 L574.6,332.4 L575.6,335.2 L576.6,337.9 L577.6,340.7 L578.6,343.4 L579.6,346.1 L580.6,348.8 L581.6,351.5 L582.6,354.1 L583.6,356.7 L584.6,359.3 L585.6,361.8 L586.6,364.3 L587.6,366.8 L588.6,369.2 L589.6,371.5 L590.6,373.8 L591.6,376.1 L592.6,378.3 L593.6,380.4 L594.6,382.5 L595.6,384.5 L596.6,386.4 L597.6,388.3 L598.6,390.1 L599.6,391.8 L600.6,393.4 L601.6,395.0 L602.6,396.5 L603.6,397.9 L604.6,399.2 L605.6,400.5 L606.6,401.7 L607.6,402.9 L608.6,404.0 L609.6,405.0 L610.6,406.0 L611.6,406.9 L612.6,407.8 L613.6,408.6 L614.6,409.4 L615.6,410.1 L616.6,410.8 L617.6,411.4 L618.6,412.0 L619.6,412.5 L620.6,413.0 L621.6,413.5 L622.6,414.0 L623.6,414.4 L624.6,414.7 L625.6,415.1 L626.6,415.4 L627.6,415.7 L628.6,415.9 L629.6,416.2 L630.6,416.4 L631.6,416.6 L632.6,416.8 L633.6,416.9 L634.6,417.1 L635.6,417.3 L636.6,417.4 L637.6,417.5 L638.6,417.6 L639.6,417.8 L640.6,417.9 L641.6,418.0 L642.6,418.1 L643.6,418.2 L644.6,418.4 L645.6,418.5 L646.6,418.6 L647.6,418.7 L648.6,418.8 L649.6,419.0 L650.6,419.1 L651.6,419.2 L652.6,419.3 L653.6,419.4 L654.6,419.6 L655.6,419.7 L656.6,419.8 L657.6,420.0 L658.6,420.1 L659.6,420.2 L660.6,420.4 L661.6,420.5 L662.6,420.6 L663.6,420.8 L664.6,420.9 L665.6,421.1 L666.6,421.3 L667.6,421.4 L668.6,421.6 L669.6,421.8 L670.6,421.9 L671.6,422.1 L672.6,422.3 L673.6,422.5 L674.6,422.7 L675.6,422.9 L676.6,423.1 L677.6,423.3 L678.6,423.5 L679.6,423.8 L680.6,424.0 L681.6,424.2 L682.6,424.5 L683.6,424.7 L684.6,425.0 L685.6,425.3 L686.6,425.6 L687.6,425.8 L688.6,426.1 L689.6,426.4 L690.6,426.7 L691.6,427.1 L692.6,427.4 L693.6,427.7 L694.6,428.1 L695.6,428.4 L696.6,428.8 L697.6,429.2 L698.6,429.6 L699.6,429.9 L700.6,430.4 L701.6,430.8 L702.6,431.2 L703.6,431.6 L704.6,432.1 L705.6,432.5 L706.6,433.0 L707.6,433.5 L708.6,434.0 L709.6,434.5 L710.6,435.0 L711.6,435.6 L712.6,436.1 L713.6,436.7 L714.6,437.3 L715.6,437.9 L716.6,438.5 L717.6,439.1 L718.6,439.7 L719.6,440.3 L720.6,441.0 L721.6,441.7 L722.6,442.4 L723.6,443.1 L724.6,443.8 L725.6,444.5 L726.6,445.3 L727.6,446.1 L728.6,446.8 L729.6,447.6 L730.6,448.5 L731.6,449.3 L732.6,450.1 L733.6,451.0 L734.6,451.9 L735.6,452.8 L736.6,453.7 L737.6,454.7 L738.6,455.6 L739.6,456.6 L740.6,457.6 L741.6,458.6 L742.6,459.6 L743.6,460.7 L744.6,461.7 L745.6,462.8 L746.6,463.9 L747.6,465.0 L748.6,466.1 L749.6,467.2 L750.6,468.3 L751.6,469.4 L752.6,470.5 L753.6,471.6 L754.6,472.7 L755.6,473.8 L756.6,474.9 L757.6,476.0 L758.6,477.1 L759.6,478.2 L760.6,479.3 L761.6,480.3 L762.6,481.4 L763.6,482.4 L764.6,483.4 L765.6,484.4 L766.6,485.4 L767.6,486.4 L768.6,487.3 L769.6,488.2 L770.6,489.1 L771.6,489.9 L772.6,490.8 L773.6,491.6 L774.6,492.4 L775.6,493.1 L776.6,493.8 L777.6,494.5 L778.6,495.1 L779.6,495.8 L780.6,496.4 L781.6,497.0 L782.6,497.6 L783.6,498.2 L784.6,498.8 L785.6,499.3 L786.6,499.9 L787.6,500.5 L788.6,501.1 L789.6,501.8 L790.6,502.4 L791.6,503.1 L792.6,503.8 L793.6,504.5 L794.6,505.3 L795.6,506.1 L796.6,506.9 L797.6,507.7 L798.6,508.5 L799.6,509.1 L800.6,509.7 L801.6,510.1 L802.6,510.4 L803.6,510.4 L804.6,510.1 L805.6,509.6 L806.6,508.8 L807.6,507.6 L808.6,506.1 L809.6,504.2 L810.6,502.0 L811.6,499.5 L812.6,496.9 L813.6,494.3 L814.6,491.5 L815.6,488.9 L816.6,486.3 L817.6,483.9 L817.7,483.7 L817.7,641.1 L817.6,641.2 L816.6,642.3 L815.6,643.3 L814.6,644.2 L813.6,645.1 L812.6,645.9 L811.6,646.6 L810.6,647.3 L809.6,647.9 L808.6,648.4 L807.6,648.9 L806.6,649.3 L805.6,649.7 L804.6,650.0 L803.6,650.3 L802.6,650.4 L801.6,650.6 L800.6,650.7 L799.6,650.7 L798.6,650.7 L797.6,650.6 L796.6,650.5 L795.6,650.4 L794.6,650.2 L793.6,649.9 L792.6,649.7 L791.6,649.4 L790.6,649.0 L789.6,648.6 L788.6,648.2 L787.6,647.7 L786.6,647.2 L785.6,646.7 L784.6,646.1 L783.6,645.6 L782.6,645.0 L781.6,644.3 L780.6,643.7 L779.6,643.0 L778.6,642.3 L777.6,641.5 L776.6,640.8 L775.6,640.0 L774.6,639.3 L773.6,638.5 L772.6,637.7 L771.6,636.9 L770.6,636.0 L769.6,635.2 L768.6,634.3 L767.6,633.5 L766.6,632.6 L765.6,631.8 L764.6,630.9 L763.6,630.0 L762.6,629.2 L761.6,628.3 L760.6,627.4 L759.6,626.6 L758.6,625.7 L757.6,624.8 L756.6,624.0 L755.6,623.1 L754.6,622.2 L753.6,621.4 L752.6,620.5 L751.6,619.6 L750.6,618.7 L749.6,617.9 L748.6,617.0 L747.6,616.1 L746.6,615.3 L745.6,614.4 L744.6,613.5 L743.6,612.7 L742.6,611.8 L741.6,610.9 L740.6,610.1 L739.6,609.2 L738.6,608.3 L737.6,607.5 L736.6,606.6 L735.6,605.8 L734.6,604.9 L733.6,604.1 L732.6,603.2 L731.6,602.4 L730.6,601.6 L729.6,600.7 L728.6,599.9 L727.6,599.1 L726.6,598.2 L725.6,597.4 L724.6,596.6 L723.6,595.8 L722.6,595.0 L721.6,594.2 L720.6,593.4 L719.6,592.6 L718.6,591.8 L717.6,591.0 L716.6,590.2 L715.6,589.4 L714.6,588.7 L713.6,587.9 L712.6,587.1 L711.6,586.4 L710.6,585.6 L709.6,584.9 L708.6,584.1 L707.6,583.4 L706.6,582.7 L705.6,581.9 L704.6,581.2 L703.6,580.5 L702.6,579.8 L701.6,579.1 L700.6,578.4 L699.6,577.7 L698.6,577.1 L697.6,576.4 L696.6,575.7 L695.6,575.1 L694.6,574.4 L693.6,573.8 L692.6,573.2 L691.6,572.6 L690.6,572.0 L689.6,571.4 L688.6,570.8 L687.6,570.3 L686.6,569.7 L685.6,569.2 L684.6,568.6 L683.6,568.1 L682.6,567.6 L681.6,567.2 L680.6,566.7 L679.6,566.3 L678.6,565.8 L677.6,565.4 L676.6,565.0 L675.6,564.7 L674.6,564.3 L673.6,564.0 L672.6,563.6 L671.6,563.4 L670.6,563.1 L669.6,562.8 L668.6,562.6 L667.6,562.4 L666.6,562.2 L665.6,562.0 L664.6,561.9 L663.6,561.8 L662.6,561.7 L661.6,561.6 L660.6,561.5 L659.6,561.5 L658.6,561.5 L657.6,561.5 L656.6,561.6 L655.6,561.6 L654.6,561.7 L653.6,561.8 L652.6,561.9 L651.6,562.0 L650.6,562.1 L649.6,562.3 L648.6,562.4 L647.6,562.6 L646.6,562.8 L645.6,563.0 L644.6,563.2 L643.6,563.4 L642.6,563.7 L641.6,563.9 L640.6,564.2 L639.6,564.4 L638.6,564.7 L637.6,565.0 L636.6,565.3 L635.6,565.5 L634.6,565.8 L633.6,566.1 L632.6,566.4 L631.6,566.7 L630.6,567.0 L629.6,567.3 L628.6,567.6 L627.6,567.9 L626.6,568.2 L625.6,568.6 L624.6,568.9 L623.6,569.1 L622.6,569.4 L621.6,569.7 L620.6,570.0 L619.6,570.3 L618.6,570.6 L617.6,570.8 L616.6,571.1 L615.6,571.3 L614.6,571.6 L613.6,571.8 L612.6,572.0 L611.6,572.2 L610.6,572.3 L609.6,572.5 L608.6,572.5 L607.6,572.6 L606.6,572.5 L605.6,572.5 L604.6,572.3 L603.6,572.1 L602.6,571.9 L601.6,571.5 L600.6,571.1 L599.6,570.6 L598.6,570.0 L597.6,569.3 L596.6,568.6 L595.6,567.7 L594.6,566.8 L593.6,565.9 L592.6,564.8 L591.6,563.7 L590.6,562.6 L589.6,561.3 L588.6,560.1 L587.6,558.7 L586.6,557.4 L585.6,555.9 L584.6,554.5 L583.6,552.9 L582.6,551.4 L581.6,549.8 L580.6,548.2 L579.6,546.6 L578.6,544.9 L577.6,543.2 L576.6,541.5 L575.6,539.8 L574.6,538.0 L573.6,536.3 L572.6,534.5 L571.6,532.8 L570.6,531.0 L569.6,529.2 L568.6,527.5 L567.6,525.7 L566.6,524.0 L565.6,522.3 L564.6,520.6 L563.6,518.9 L562.6,517.2 L561.6,515.6 L560.6,514.0 L559.6,512.4 L558.6,510.8 L557.6,509.3 L556.6,507.9 L555.6,506.4 L554.6,505.1 L553.6,503.7 L552.6,502.5 L551.6,501.2 L550.6,500.1 L549.6,499.0 L548.6,497.9 L547.6,497.0 L546.6,496.0 L545.6,495.2 L544.6,494.4 L543.6,493.7 L542.6,493.0 L541.6,492.4 L540.6,491.9 L539.6,491.4 L538.6,491.0 L537.6,490.7 L536.6,490.5 L535.6,490.3 L534.6,490.2 L533.6,490.2 L532.6,490.2 L531.6,490.3 L530.6,490.5 L529.6,490.8 L528.6,491.2 L527.6,491.6 L526.6,492.0 L525.6,492.6 L524.6,493.2 L523.6,493.9 L522.6,494.6 L521.6,495.3 L520.6,496.2 L519.6,497.0 L518.6,498.0 L517.6,498.9 L516.6,500.0 L515.6,501.0 L514.6,502.1 L513.6,503.3 L512.6,504.4 L511.6,505.6 L510.6,506.9 L509.6,508.1 L508.6,509.4 L507.6,510.7 L506.6,512.1 L505.6,513.4 L504.6,514.8 L503.6,516.2 L502.6,517.7 L501.6,519.1 L500.6,520.6 L499.6,522.0 L498.6,523.5 L497.6,525.0 L496.6,526.6 L495.6,528.1 L494.6,529.6 L493.6,531.2 L492.6,532.7 L491.6,534.3 L490.6,535.9 L489.6,537.4 L488.6,539.0 L487.6,540.6 L486.6,542.2 L485.6,543.7 L484.6,545.3 L483.6,546.9 L482.6,548.4 L481.6,550.0 L480.6,551.6 L479.6,553.1 L478.6,554.7 L477.6,556.2 L476.6,557.7 L475.6,559.3 L474.6,560.8 L473.6,562.4 L472.6,563.9 L471.6,565.5 L470.6,567.0 L469.6,568.6 L468.6,570.2 L467.6,571.8 L466.6,573.4 L465.6,575.0 L464.6,576.6 L463.6,578.2 L462.6,579.9 L461.6,581.6 L460.6,583.3 L459.6,585.0 L458.6,586.7 L457.6,588.4 L456.6,590.2 L455.6,592.0 L454.6,593.8 L453.6,595.7 L452.6,597.5 L451.6,599.4 L450.6,601.4 L449.6,603.3 L448.6,605.3 L447.6,607.3 L446.6,609.4 L445.6,611.4 L444.6,613.4 L443.6,615.5 L442.6,617.5 L441.6,619.5 L440.6,621.5 L439.6,623.5 L438.6,625.5 L437.6,627.4 L436.6,629.4 L435.6,631.3 L434.6,633.2 L433.6,635.1 L432.6,637.0 L431.6,638.8 L430.6,640.7 L429.6,642.5 L428.6,644.2 L427.6,646.0 L426.6,647.7 L425.6,649.4 L424.6,651.0 L423.6,652.7 L422.6,654.3 L421.6,655.8 L420.6,657.3 L419.6,658.8 L418.6,660.2 L417.6,661.6 L416.6,662.9 L415.6,664.2 L414.6,665.5 L413.6,666.7 L412.6,667.9 L411.6,669.0 L410.6,670.1 L409.6,671.1 L408.6,672.2 L407.6,673.1 L406.6,674.1 L405.6,675.0 L404.6,675.9 L403.6,676.7 L402.6,677.5 L401.6,678.3 L400.6,679.0 L399.6,679.7 L398.6,680.4 L397.6,681.1 L396.6,681.7 L395.6,682.3 L394.6,682.8 L393.6,683.4 L392.6,683.9 L391.6,684.4 L390.6,684.9 L389.6,685.3 L388.6,685.7 L387.6,686.1 L386.6,686.5 L385.6,686.9 L384.6,687.2 L383.6,687.5 L382.6,687.8 L381.6,688.1 L380.6,688.4 L379.6,688.6 L378.6,688.9 L377.6,689.1 L376.6,689.3 L375.6,689.5 L374.6,689.7 L373.6,689.9 L372.6,690.0 L371.6,690.2 L370.6,690.3 L369.6,690.5 L368.6,690.6 L367.6,690.7 L366.6,690.9 L365.6,691.0 L364.6,691.1 L363.6,691.2 L362.6,691.3 L361.6,691.4 L360.6,691.5 L359.6,691.6 L358.6,691.7 L357.6,691.9 L356.6,692.0 L355.6,692.2 L354.6,692.4 L353.6,692.7 L352.6,693.0 L351.6,693.3 L350.6,693.7 L349.6,694.2 L348.6,694.7 L347.6,695.3 L346.6,695.9 L345.6,696.6 L344.6,697.5 L343.6,698.4 L342.6,699.4 L341.6,700.5 L340.6,701.7 L339.6,703.0 L338.6,704.3 L337.6,705.8 L336.6,707.4 L335.6,709.0 L334.6,710.8 L333.6,712.6 L332.6,714.5 L331.6,716.4 L330.6,718.5 L329.6,720.6 L328.6,722.7 L327.6,724.9 L326.6,727.2 L325.6,729.5 L324.6,731.9 L323.6,734.3 L322.6,736.8 L321.6,739.2 L320.6,741.8 L319.6,744.3 L318.6,746.9 L317.6,749.5 L316.6,752.2 L315.6,754.8 L314.6,757.5 L313.6,760.2 L312.6,762.9 L311.6,765.6 L310.6,768.2 L309.6,770.9 L308.6,773.6 L307.6,776.2 L306.6,778.9 L305.6,781.5 L304.6,784.0 L303.6,786.6 L302.6,789.1 L301.6,791.6 L300.6,794.0 L299.6,796.3 L298.6,798.7 L297.6,800.9 L296.6,803.1 L295.6,805.3 L294.6,807.3 L293.6,809.3 L292.6,811.2 L291.6,813.1 L290.6,814.9 L289.6,816.6 L288.6,818.3 L287.6,819.9 L286.6,821.5 L285.6,823.0 L284.6,824.5 L283.6,825.9 L282.6,827.4 L281.6,828.8 L280.6,830.2 L279.6,831.5 L278.6,832.9 L277.6,834.2 L276.6,835.5 L275.6,836.8 L274.6,838.1 L273.6,839.3 L272.6,840.6 L271.6,841.7 L270.6,842.9 L269.6,844.0 L268.6,845.0 L267.6,846.0 L266.6,847.0 L265.6,847.9 L264.6,848.7 L263.6,849.4 L262.6,850.1 L261.6,850.7 L260.6,851.2 L259.6,851.6 L258.6,852.0 L257.6,852.3 L256.6,852.5 L255.6,852.7 L254.6,852.9 L253.6,852.9 L252.6,852.9 L251.6,852.9 L250.6,852.8 L249.6,852.7 L248.6,852.5 L247.6,852.3 L246.6,852.1 L245.6,851.8 L244.6,851.5 L243.6,851.2 L242.6,850.8 L241.6,850.4 L240.6,850.0 L239.6,849.6 L238.6,849.1 L237.6,848.7 L236.6,848.2 L235.6,847.8 L234.6,847.3 L233.6,846.8 L232.6,846.3 L231.6,845.9 L230.6,845.4 L229.6,845.0 L228.6,844.5 L227.6,844.1 L226.6,843.7 L225.6,843.3 L224.6,843.0 L223.6,842.6 L222.6,842.3 L221.6,842.0 L220.6,841.8 L219.6,841.6 L218.6,841.4 L217.6,841.3 L216.6,841.1 L215.6,841.0 L214.6,841.0 L213.6,840.9 L212.6,840.9 L211.6,841.0 L210.6,841.0 L209.6,841.1 L208.6,841.2 L207.6,841.3 L206.6,841.4 L205.6,841.6 L204.6,841.8 L203.6,842.0 L202.6,842.2 L201.6,842.4 L200.6,842.7 L199.6,843.0 L198.6,843.3 L197.6,843.6 L196.6,843.9 L195.6,844.3 L194.6,844.6 L193.6,845.0 L192.6,845.4 L191.6,845.8 L190.6,846.2 L189.6,846.6 L188.6,847.1 L187.6,847.5 L186.6,848.0 L185.6,848.4 L184.6,848.9 L183.6,849.4 L182.6,849.8 L181.6,850.3 L180.6,850.8 L179.6,851.3 L178.6,851.8 L177.6,852.3 L176.6,852.8 L175.6,853.3 L174.6,853.8 L173.6,854.3 L172.6,854.8 L171.6,855.3 L170.6,855.9 L169.6,856.5 L168.6,857.1 L167.6,857.7 L166.6,858.4 L165.6,859.2 L164.6,860.0 L163.6,860.8 L162.6,861.7 L161.6,862.7 L160.6,863.7 L159.6,864.7 L158.6,865.7 L157.6,866.7 L156.6,867.7 L155.6,868.7 L154.6,869.7 L153.6,870.6 L152.6,871.6 L151.6,872.6 L150.6,873.5 L149.6,874.5 L148.6,875.4 L147.6,876.4 L146.6,877.4 L145.6,878.4 L144.6,879.4 L143.6,880.4 L142.6,881.4 L141.6,882.4 L140.6,883.5 L139.6,884.5 L138.6,885.6 L137.6,886.7 L136.6,887.9 L135.6,889.0 L134.6,890.2 L133.6,891.4 L132.6,892.6 L131.6,893.9 L130.6,895.1 L129.6,896.4 L128.6,897.8 L127.6,899.1 L126.6,900.5 L125.6,901.8 L124.6,903.3 L123.6,904.7 L122.6,906.1 L121.6,907.6 L120.6,909.1 L119.6,910.6 L118.6,912.2 L117.6,913.7 L116.6,915.3 L115.6,916.8 L114.6,918.4 L113.6,919.9 L112.6,921.4 L111.6,922.8 L110.6,924.2 L109.6,925.4 L108.6,926.6 L107.6,927.7 L106.6,928.6 L105.6,929.4 L104.6,930.0 L103.6,930.5 L102.6,930.8 L101.6,930.9 L100.6,930.8 L99.6,930.4 L98.6,929.8 L97.6,929.0 L96.6,927.9 L95.6,926.5 L94.6,924.9 Z" fill="url(#pbL)"/>
<path d="M94.6,814.9 L95.6,815.1 L96.6,815.3 L97.6,815.5 L98.6,815.7 L99.6,816.0 L100.6,816.2 L101.6,816.5 L102.6,816.8 L103.6,817.0 L104.6,817.3 L105.6,817.6 L106.6,817.9 L107.6,818.2 L108.6,818.6 L109.6,818.9 L110.6,819.2 L111.6,819.5 L112.6,819.9 L113.6,820.2 L114.6,820.5 L115.6,820.9 L116.6,821.2 L117.6,821.6 L118.6,821.9 L119.6,822.2 L120.6,822.6 L121.6,822.9 L122.6,823.2 L123.6,823.6 L124.6,823.9 L125.6,824.2 L126.6,824.5 L127.6,824.8 L128.6,825.1 L129.6,825.4 L130.6,825.7 L131.6,826.0 L132.6,826.2 L133.6,826.5 L134.6,826.7 L135.6,827.0 L136.6,827.2 L137.6,827.4 L138.6,827.6 L139.6,827.8 L140.6,828.0 L141.6,828.1 L142.6,828.3 L143.6,828.4 L144.6,828.5 L145.6,828.6 L146.6,828.7 L147.6,828.8 L148.6,828.9 L149.6,828.9 L150.6,829.0 L151.6,829.0 L152.6,829.1 L153.6,829.1 L154.6,829.1 L155.6,829.2 L156.6,829.2 L157.6,829.2 L158.6,829.2 L159.6,829.2 L160.6,829.2 L161.6,829.2 L162.6,829.3 L163.6,829.3 L164.6,829.3 L165.6,829.3 L166.6,829.3 L167.6,829.3 L168.6,829.3 L169.6,829.4 L170.6,829.4 L171.6,829.4 L172.6,829.5 L173.6,829.5 L174.6,829.6 L175.6,829.6 L176.6,829.7 L177.6,829.8 L178.6,829.8 L179.6,829.9 L180.6,830.1 L181.6,830.2 L182.6,830.3 L183.6,830.5 L184.6,830.6 L185.6,830.8 L186.6,831.0 L187.6,831.2 L188.6,831.4 L189.6,831.7 L190.6,831.9 L191.6,832.2 L192.6,832.5 L193.6,832.8 L194.6,833.1 L195.6,833.5 L196.6,833.9 L197.6,834.3 L198.6,834.7 L199.6,835.1 L200.6,835.6 L201.6,836.1 L202.6,836.6 L203.6,837.1 L204.6,837.5 L205.6,838.0 L206.6,838.3 L207.6,838.7 L208.6,838.9 L209.6,839.1 L210.6,839.2 L211.6,839.1 L212.6,839.0 L213.6,838.7 L214.6,838.3 L215.6,837.8 L216.6,837.1 L217.6,836.4 L218.6,835.6 L219.6,834.7 L220.6,833.8 L221.6,832.9 L222.6,831.9 L223.6,831.0 L224.6,830.0 L225.6,829.0 L226.6,828.1 L227.6,827.2 L228.6,826.4 L229.6,825.6 L230.6,824.9 L231.6,824.2 L232.6,823.7 L233.6,823.2 L234.6,822.8 L235.6,822.6 L236.6,822.4 L237.6,822.4 L238.6,822.5 L239.6,822.6 L240.6,822.9 L241.6,823.2 L242.6,823.6 L243.6,823.9 L244.6,824.3 L245.6,824.7 L246.6,825.1 L247.6,825.5 L248.6,825.8 L249.6,826.0 L250.6,826.2 L251.6,826.3 L252.6,826.3 L253.6,826.2 L254.6,826.0 L255.6,825.8 L256.6,825.5 L257.6,825.1 L258.6,824.7 L259.6,824.2 L260.6,823.6 L261.6,822.9 L262.6,822.2 L263.6,821.4 L264.6,820.5 L265.6,819.5 L266.6,818.5 L267.6,817.5 L268.6,816.3 L269.6,815.2 L270.6,813.9 L271.6,812.6 L272.6,811.2 L273.6,809.8 L274.6,808.3 L275.6,806.8 L276.6,805.2 L277.6,803.5 L278.6,801.8 L279.6,800.1 L280.6,798.3 L281.6,796.4 L282.6,794.5 L283.6,792.6 L284.6,790.6 L285.6,788.5 L286.6,786.4 L287.6,784.3 L288.6,782.1 L289.6,779.9 L290.6,777.7 L291.6,775.4 L292.6,773.1 L293.6,770.7 L294.6,768.3 L295.6,765.9 L296.6,763.5 L297.6,761.0 L298.6,758.6 L299.6,756.1 L300.6,753.6 L301.6,751.0 L302.6,748.5 L303.6,746.0 L304.6,743.4 L305.6,740.9 L306.6,738.3 L307.6,735.8 L308.6,733.2 L309.6,730.7 L310.6,728.2 L311.6,725.7 L312.6,723.2 L313.6,720.7 L314.6,718.2 L315.6,715.8 L316.6,713.4 L317.6,711.0 L318.6,708.7 L319.6,706.3 L320.6,704.1 L321.6,701.8 L322.6,699.6 L323.6,697.4 L324.6,695.3 L325.6,693.3 L326.6,691.2 L327.6,689.3 L328.6,687.4 L329.6,685.5 L330.6,683.7 L331.6,682.0 L332.6,680.3 L333.6,678.7 L334.6,677.2 L335.6,675.8 L336.6,674.4 L337.6,673.1 L338.6,671.9 L339.6,670.7 L340.6,669.7 L341.6,668.7 L342.6,667.8 L343.6,667.0 L344.6,666.2 L345.6,665.5 L346.6,664.9 L347.6,664.3 L348.6,663.8 L349.6,663.4 L350.6,663.0 L351.6,662.7 L352.6,662.4 L353.6,662.2 L354.6,662.1 L355.6,662.0 L356.6,661.9 L357.6,661.9 L358.6,661.9 L359.6,662.0 L360.6,662.1 L361.6,662.2 L362.6,662.4 L363.6,662.6 L364.6,662.9 L365.6,663.1 L366.6,663.4 L367.6,663.7 L368.6,664.1 L369.6,664.4 L370.6,664.8 L371.6,665.2 L372.6,665.6 L373.6,666.1 L374.6,666.5 L375.6,666.9 L376.6,667.4 L377.6,667.8 L378.6,668.2 L379.6,668.7 L380.6,669.1 L381.6,669.5 L382.6,669.9 L383.6,670.3 L384.6,670.7 L385.6,671.0 L386.6,671.4 L387.6,671.7 L388.6,672.0 L389.6,672.3 L390.6,672.5 L391.6,672.7 L392.6,672.9 L393.6,673.1 L394.6,673.3 L395.6,673.4 L396.6,673.5 L397.6,673.6 L398.6,673.6 L399.6,673.6 L400.6,673.6 L401.6,673.5 L402.6,673.4 L403.6,673.2 L404.6,673.1 L405.6,672.9 L406.6,672.6 L407.6,672.3 L408.6,672.0 L409.6,671.6 L410.6,671.2 L411.6,670.7 L412.6,670.2 L413.6,669.7 L414.6,669.0 L415.6,668.4 L416.6,667.7 L417.6,666.9 L418.6,666.1 L419.6,665.3 L420.6,664.4 L421.6,663.4 L422.6,662.5 L423.6,661.4 L424.6,660.4 L425.6,659.3 L426.6,658.2 L427.6,657.1 L428.6,655.9 L429.6,654.8 L430.6,653.6 L431.6,652.4 L432.6,651.2 L433.6,650.0 L434.6,648.8 L435.6,647.6 L436.6,646.4 L437.6,645.3 L438.6,644.1 L439.6,643.0 L440.6,641.8 L441.6,640.8 L442.6,639.7 L443.6,638.6 L444.6,637.6 L445.6,636.7 L446.6,635.8 L447.6,634.9 L448.6,634.0 L449.6,633.2 L450.6,632.5 L451.6,631.7 L452.6,631.0 L453.6,630.4 L454.6,629.7 L455.6,629.2 L456.6,628.6 L457.6,628.1 L458.6,627.6 L459.6,627.1 L460.6,626.7 L461.6,626.2 L462.6,625.8 L463.6,625.3 L464.6,624.8 L465.6,624.2 L466.6,623.5 L467.6,622.7 L468.6,621.7 L469.6,620.6 L470.6,619.3 L471.6,617.8 L472.6,616.2 L473.6,614.4 L474.6,612.5 L475.6,610.6 L476.6,608.5 L477.6,606.5 L478.6,604.4 L479.6,602.3 L480.6,600.2 L481.6,598.2 L482.6,596.3 L483.6,594.4 L484.6,592.6 L485.6,590.9 L486.6,589.2 L487.6,587.6 L488.6,586.1 L489.6,584.6 L490.6,583.1 L491.6,581.8 L492.6,580.4 L493.6,579.1 L494.6,577.9 L495.6,576.6 L496.6,575.4 L497.6,574.3 L498.6,573.1 L499.6,572.0 L500.6,570.9 L501.6,569.8 L502.6,568.8 L503.6,567.7 L504.6,566.7 L505.6,565.6 L506.6,564.5 L507.6,563.5 L508.6,562.4 L509.6,561.3 L510.6,560.2 L511.6,559.1 L512.6,558.0 L513.6,556.9 L514.6,555.8 L515.6,554.7 L516.6,553.6 L517.6,552.5 L518.6,551.4 L519.6,550.4 L520.6,549.4 L521.6,548.4 L522.6,547.5 L523.6,546.6 L524.6,545.7 L525.6,544.9 L526.6,544.2 L527.6,543.5 L528.6,542.9 L529.6,542.4 L530.6,541.9 L531.6,541.5 L532.6,541.2 L533.6,541.0 L534.6,540.9 L535.6,540.9 L536.6,541.0 L537.6,541.2 L538.6,541.4 L539.6,541.8 L540.6,542.2 L541.6,542.8 L542.6,543.4 L543.6,544.1 L544.6,544.9 L545.6,545.7 L546.6,546.6 L547.6,547.6 L548.6,548.7 L549.6,549.8 L550.6,551.0 L551.6,552.2 L552.6,553.5 L553.6,554.9 L554.6,556.3 L555.6,557.7 L556.6,559.2 L557.6,560.8 L558.6,562.4 L559.6,564.0 L560.6,565.7 L561.6,567.3 L562.6,569.1 L563.6,570.8 L564.6,572.6 L565.6,574.4 L566.6,576.2 L567.6,578.0 L568.6,579.9 L569.6,581.7 L570.6,583.6 L571.6,585.5 L572.6,587.3 L573.6,589.2 L574.6,591.1 L575.6,593.0 L576.6,594.9 L577.6,596.7 L578.6,598.6 L579.6,600.4 L580.6,602.2 L581.6,604.0 L582.6,605.8 L583.6,607.5 L584.6,609.3 L585.6,611.0 L586.6,612.6 L587.6,614.3 L588.6,615.8 L589.6,617.4 L590.6,618.9 L591.6,620.4 L592.6,621.8 L593.6,623.1 L594.6,624.5 L595.6,625.8 L596.6,627.0 L597.6,628.2 L598.6,629.3 L599.6,630.4 L600.6,631.5 L601.6,632.5 L602.6,633.4 L603.6,634.4 L604.6,635.2 L605.6,636.1 L606.6,636.8 L607.6,637.6 L608.6,638.3 L609.6,638.9 L610.6,639.5 L611.6,640.1 L612.6,640.6 L613.6,641.1 L614.6,641.5 L615.6,641.9 L616.6,642.2 L617.6,642.5 L618.6,642.7 L619.6,642.9 L620.6,643.1 L621.6,643.2 L622.6,643.3 L623.6,643.3 L624.6,643.3 L625.6,643.2 L626.6,643.1 L627.6,643.0 L628.6,642.8 L629.6,642.6 L630.6,642.3 L631.6,642.0 L632.6,641.6 L633.6,641.2 L634.6,640.7 L635.6,640.2 L636.6,639.7 L637.6,639.1 L638.6,638.5 L639.6,637.8 L640.6,637.1 L641.6,636.4 L642.6,635.7 L643.6,634.9 L644.6,634.1 L645.6,633.2 L646.6,632.4 L647.6,631.5 L648.6,630.6 L649.6,629.6 L650.6,628.7 L651.6,627.7 L652.6,626.8 L653.6,625.8 L654.6,624.8 L655.6,623.8 L656.6,622.8 L657.6,621.8 L658.6,620.8 L659.6,619.8 L660.6,618.8 L661.6,617.8 L662.6,616.8 L663.6,615.8 L664.6,614.9 L665.6,613.9 L666.6,613.0 L667.6,612.0 L668.6,611.1 L669.6,610.2 L670.6,609.3 L671.6,608.5 L672.6,607.7 L673.6,606.9 L674.6,606.1 L675.6,605.4 L676.6,604.7 L677.6,604.0 L678.6,603.3 L679.6,602.7 L680.6,602.1 L681.6,601.6 L682.6,601.1 L683.6,600.6 L684.6,600.1 L685.6,599.7 L686.6,599.3 L687.6,599.0 L688.6,598.7 L689.6,598.4 L690.6,598.2 L691.6,598.0 L692.6,597.9 L693.6,597.8 L694.6,597.8 L695.6,597.8 L696.6,597.8 L697.6,597.9 L698.6,598.0 L699.6,598.2 L700.6,598.4 L701.6,598.7 L702.6,599.0 L703.6,599.4 L704.6,599.8 L705.6,600.3 L706.6,600.8 L707.6,601.4 L708.6,602.0 L709.6,602.7 L710.6,603.5 L711.6,604.3 L712.6,605.1 L713.6,606.0 L714.6,606.9 L715.6,607.9 L716.6,608.9 L717.6,609.9 L718.6,610.9 L719.6,612.0 L720.6,613.1 L721.6,614.3 L722.6,615.4 L723.6,616.6 L724.6,617.8 L725.6,619.0 L726.6,620.2 L727.6,621.4 L728.6,622.6 L729.6,623.8 L730.6,624.9 L731.6,625.9 L732.6,626.9 L733.6,627.9 L734.6,628.8 L735.6,629.6 L736.6,630.4 L737.6,631.2 L738.6,632.0 L739.6,632.7 L740.6,633.4 L741.6,634.1 L742.6,634.8 L743.6,635.5 L744.6,636.1 L745.6,636.7 L746.6,637.3 L747.6,637.9 L748.6,638.4 L749.6,638.9 L750.6,639.4 L751.6,639.9 L752.6,640.3 L753.6,640.8 L754.6,641.2 L755.6,641.6 L756.6,641.9 L757.6,642.3 L758.6,642.6 L759.6,642.9 L760.6,643.2 L761.6,643.4 L762.6,643.6 L763.6,643.8 L764.6,644.0 L765.6,644.2 L766.6,644.3 L767.6,644.4 L768.6,644.5 L769.6,644.6 L770.6,644.6 L771.6,644.7 L772.6,644.7 L773.6,644.7 L774.6,644.7 L775.6,644.7 L776.6,644.7 L777.6,644.7 L778.6,644.7 L779.6,644.7 L780.6,644.7 L781.6,644.7 L782.6,644.7 L783.6,644.7 L784.6,644.7 L785.6,644.8 L786.6,644.8 L787.6,644.8 L788.6,644.9 L789.6,645.0 L790.6,645.0 L791.6,645.2 L792.6,645.3 L793.6,645.4 L794.6,645.6 L795.6,645.8 L796.6,646.0 L797.6,646.2 L798.6,646.4 L799.6,646.7 L800.6,646.9 L801.6,647.2 L802.6,647.5 L803.6,647.8 L804.6,648.2 L805.6,648.5 L806.6,648.9 L807.6,649.2 L808.6,649.6 L809.6,650.0 L810.6,650.4 L811.6,650.9 L812.6,651.3 L813.6,651.8 L814.6,652.2 L815.6,652.7 L816.6,653.1 L817.6,653.1 L817.7,653.1 L817.7,761.3 L817.6,761.3 L816.6,761.8 L815.6,762.2 L814.6,762.7 L813.6,763.2 L812.6,763.7 L811.6,764.1 L810.6,764.6 L809.6,765.1 L808.6,765.6 L807.6,766.1 L806.6,766.6 L805.6,767.1 L804.6,767.6 L803.6,768.0 L802.6,768.5 L801.6,769.0 L800.6,769.5 L799.6,770.0 L798.6,770.5 L797.6,771.0 L796.6,771.4 L795.6,771.9 L794.6,772.3 L793.6,772.8 L792.6,773.2 L791.6,773.7 L790.6,774.1 L789.6,774.5 L788.6,774.9 L787.6,775.3 L786.6,775.7 L785.6,776.1 L784.6,776.4 L783.6,776.8 L782.6,777.1 L781.6,777.4 L780.6,777.7 L779.6,778.0 L778.6,778.2 L777.6,778.5 L776.6,778.7 L775.6,778.9 L774.6,779.1 L773.6,779.3 L772.6,779.4 L771.6,779.6 L770.6,779.7 L769.6,779.8 L768.6,779.8 L767.6,779.8 L766.6,779.9 L765.6,779.8 L764.6,779.8 L763.6,779.7 L762.6,779.6 L761.6,779.5 L760.6,779.4 L759.6,779.2 L758.6,779.0 L757.6,778.7 L756.6,778.5 L755.6,778.2 L754.6,777.8 L753.6,777.5 L752.6,777.1 L751.6,776.7 L750.6,776.2 L749.6,775.8 L748.6,775.3 L747.6,774.8 L746.6,774.2 L745.6,773.7 L744.6,773.1 L743.6,772.5 L742.6,771.9 L741.6,771.3 L740.6,770.6 L739.6,770.0 L738.6,769.3 L737.6,768.6 L736.6,767.9 L735.6,767.2 L734.6,766.5 L733.6,765.8 L732.6,765.1 L731.6,764.3 L730.6,763.6 L729.6,762.8 L728.6,762.1 L727.6,761.3 L726.6,760.6 L725.6,759.8 L724.6,759.1 L723.6,758.3 L722.6,757.6 L721.6,756.8 L720.6,756.1 L719.6,755.3 L718.6,754.6 L717.6,753.9 L716.6,753.2 L715.6,752.5 L714.6,751.8 L713.6,751.1 L712.6,750.4 L711.6,749.7 L710.6,749.1 L709.6,748.5 L708.6,747.9 L707.6,747.3 L706.6,746.7 L705.6,746.1 L704.6,745.6 L703.6,745.1 L702.6,744.6 L701.6,744.1 L700.6,743.7 L699.6,743.3 L698.6,742.9 L697.6,742.5 L696.6,742.2 L695.6,741.9 L694.6,741.6 L693.6,741.4 L692.6,741.2 L691.6,741.0 L690.6,740.9 L689.6,740.8 L688.6,740.7 L687.6,740.6 L686.6,740.6 L685.6,740.7 L684.6,740.7 L683.6,740.8 L682.6,741.0 L681.6,741.1 L680.6,741.3 L679.6,741.6 L678.6,741.8 L677.6,742.1 L676.6,742.4 L675.6,742.8 L674.6,743.2 L673.6,743.6 L672.6,744.0 L671.6,744.5 L670.6,745.0 L669.6,745.5 L668.6,746.1 L667.6,746.7 L666.6,747.3 L665.6,747.9 L664.6,748.6 L663.6,749.3 L662.6,750.1 L661.6,750.8 L660.6,751.6 L659.6,752.4 L658.6,753.2 L657.6,754.1 L656.6,754.9 L655.6,755.8 L654.6,756.7 L653.6,757.7 L652.6,758.6 L651.6,759.5 L650.6,760.5 L649.6,761.4 L648.6,762.4 L647.6,763.4 L646.6,764.4 L645.6,765.3 L644.6,766.3 L643.6,767.3 L642.6,768.2 L641.6,769.2 L640.6,770.1 L639.6,771.1 L638.6,772.0 L637.6,772.9 L636.6,773.8 L635.6,774.7 L634.6,775.6 L633.6,776.5 L632.6,777.3 L631.6,778.1 L630.6,778.9 L629.6,779.6 L628.6,780.4 L627.6,781.1 L626.6,781.7 L625.6,782.4 L624.6,783.0 L623.6,783.5 L622.6,784.1 L621.6,784.5 L620.6,785.0 L619.6,785.4 L618.6,785.8 L617.6,786.1 L616.6,786.3 L615.6,786.5 L614.6,786.7 L613.6,786.8 L612.6,786.9 L611.6,786.9 L610.6,786.8 L609.6,786.7 L608.6,786.5 L607.6,786.3 L606.6,786.1 L605.6,785.8 L604.6,785.4 L603.6,785.0 L602.6,784.6 L601.6,784.1 L600.6,783.6 L599.6,783.1 L598.6,782.5 L597.6,781.9 L596.6,781.2 L595.6,780.5 L594.6,779.8 L593.6,779.1 L592.6,778.3 L591.6,777.5 L590.6,776.7 L589.6,775.8 L588.6,775.0 L587.6,774.1 L586.6,773.2 L585.6,772.3 L584.6,771.4 L583.6,770.4 L582.6,769.5 L581.6,768.5 L580.6,767.5 L579.6,766.5 L578.6,765.5 L577.6,764.5 L576.6,763.5 L575.6,762.5 L574.6,761.5 L573.6,760.6 L572.6,759.6 L571.6,758.6 L570.6,757.6 L569.6,756.6 L568.6,755.6 L567.6,754.7 L566.6,753.7 L565.6,752.8 L564.6,751.9 L563.6,751.0 L562.6,750.1 L561.6,749.2 L560.6,748.4 L559.6,747.6 L558.6,746.8 L557.6,746.0 L556.6,745.3 L555.6,744.5 L554.6,743.9 L553.6,743.2 L552.6,742.6 L551.6,742.0 L550.6,741.4 L549.6,740.9 L548.6,740.5 L547.6,740.0 L546.6,739.6 L545.6,739.3 L544.6,738.9 L543.6,738.7 L542.6,738.5 L541.6,738.3 L540.6,738.1 L539.6,738.1 L538.6,738.0 L537.6,738.0 L536.6,738.1 L535.6,738.2 L534.6,738.4 L533.6,738.6 L532.6,738.9 L531.6,739.2 L530.6,739.6 L529.6,740.0 L528.6,740.5 L527.6,741.0 L526.6,741.6 L525.6,742.2 L524.6,742.9 L523.6,743.6 L522.6,744.3 L521.6,745.1 L520.6,745.9 L519.6,746.8 L518.6,747.7 L517.6,748.7 L516.6,749.6 L515.6,750.7 L514.6,751.7 L513.6,752.8 L512.6,753.9 L511.6,755.1 L510.6,756.2 L509.6,757.4 L508.6,758.7 L507.6,759.9 L506.6,761.2 L505.6,762.6 L504.6,763.9 L503.6,765.3 L502.6,766.8 L501.6,768.2 L500.6,769.7 L499.6,771.3 L498.6,772.9 L497.6,774.5 L496.6,776.2 L495.6,778.0 L494.6,779.7 L493.6,781.6 L492.6,783.5 L491.6,785.4 L490.6,787.4 L489.6,789.4 L488.6,791.5 L487.6,793.5 L486.6,795.6 L485.6,797.7 L484.6,799.8 L483.6,801.9 L482.6,804.0 L481.6,806.0 L480.6,808.1 L479.6,810.1 L478.6,812.1 L477.6,814.0 L476.6,815.9 L475.6,817.7 L474.6,819.5 L473.6,821.3 L472.6,823.1 L471.6,824.8 L470.6,826.5 L469.6,828.2 L468.6,829.9 L467.6,831.5 L466.6,833.1 L465.6,834.7 L464.6,836.3 L463.6,837.9 L462.6,839.5 L461.6,841.1 L460.6,842.7 L459.6,844.2 L458.6,845.8 L457.6,847.4 L456.6,849.0 L455.6,850.5 L454.6,852.1 L453.6,853.7 L452.6,855.4 L451.6,857.0 L450.6,858.6 L449.6,860.3 L448.6,862.0 L447.6,863.7 L446.6,865.4 L445.6,867.2 L444.6,868.9 L443.6,870.7 L442.6,872.5 L441.6,874.3 L440.6,876.0 L439.6,877.8 L438.6,879.6 L437.6,881.3 L436.6,883.1 L435.6,884.9 L434.6,886.6 L433.6,888.3 L432.6,890.0 L431.6,891.7 L430.6,893.3 L429.6,895.0 L428.6,896.6 L427.6,898.1 L426.6,899.7 L425.6,901.2 L424.6,902.6 L423.6,904.0 L422.6,905.4 L421.6,906.7 L420.6,908.0 L419.6,909.2 L418.6,910.4 L417.6,911.5 L416.6,912.6 L415.6,913.6 L414.6,914.5 L413.6,915.4 L412.6,916.2 L411.6,916.9 L410.6,917.5 L409.6,918.1 L408.6,918.6 L407.6,919.0 L406.6,919.3 L405.6,919.5 L404.6,919.7 L403.6,919.7 L402.6,919.7 L401.6,919.6 L400.6,919.3 L399.6,919.0 L398.6,918.7 L397.6,918.2 L396.6,917.7 L395.6,917.0 L394.6,916.4 L393.6,915.6 L392.6,914.8 L391.6,913.9 L390.6,912.9 L389.6,911.9 L388.6,910.8 L387.6,909.7 L386.6,908.5 L385.6,907.2 L384.6,905.9 L383.6,904.6 L382.6,903.2 L381.6,901.7 L380.6,900.3 L379.6,898.7 L378.6,897.2 L377.6,895.6 L376.6,893.9 L375.6,892.3 L374.6,890.6 L373.6,888.9 L372.6,887.1 L371.6,885.3 L370.6,883.5 L369.6,881.7 L368.6,879.9 L367.6,878.0 L366.6,876.2 L365.6,874.3 L364.6,872.4 L363.6,870.5 L362.6,868.7 L361.6,866.8 L360.6,864.9 L359.6,863.0 L358.6,861.1 L357.6,859.2 L356.6,857.4 L355.6,855.6 L354.6,853.8 L353.6,852.1 L352.6,850.5 L351.6,848.9 L350.6,847.5 L349.6,846.1 L348.6,844.8 L347.6,843.6 L346.6,842.5 L345.6,841.6 L344.6,840.8 L343.6,840.0 L342.6,839.4 L341.6,838.9 L340.6,838.5 L339.6,838.1 L338.6,837.8 L337.6,837.7 L336.6,837.6 L335.6,837.5 L334.6,837.5 L333.6,837.6 L332.6,837.8 L331.6,838.0 L330.6,838.2 L329.6,838.5 L328.6,838.8 L327.6,839.2 L326.6,839.6 L325.6,840.0 L324.6,840.5 L323.6,840.9 L322.6,841.4 L321.6,841.9 L320.6,842.4 L319.6,842.9 L318.6,843.3 L317.6,843.8 L316.6,844.3 L315.6,844.8 L314.6,845.3 L313.6,845.7 L312.6,846.2 L311.6,846.7 L310.6,847.2 L309.6,847.7 L308.6,848.2 L307.6,848.6 L306.6,849.1 L305.6,849.6 L304.6,850.2 L303.6,850.7 L302.6,851.2 L301.6,851.7 L300.6,852.3 L299.6,852.8 L298.6,853.4 L297.6,853.9 L296.6,854.5 L295.6,855.1 L294.6,855.7 L293.6,856.4 L292.6,857.0 L291.6,857.6 L290.6,858.3 L289.6,859.0 L288.6,859.7 L287.6,860.4 L286.6,861.1 L285.6,861.8 L284.6,862.5 L283.6,863.2 L282.6,863.9 L281.6,864.5 L280.6,865.2 L279.6,865.8 L278.6,866.4 L277.6,867.0 L276.6,867.5 L275.6,868.0 L274.6,868.4 L273.6,868.8 L272.6,869.1 L271.6,869.4 L270.6,869.6 L269.6,869.7 L268.6,869.8 L267.6,869.8 L266.6,869.7 L265.6,869.6 L264.6,869.3 L263.6,869.0 L262.6,868.6 L261.6,868.2 L260.6,867.7 L259.6,867.2 L258.6,866.6 L257.6,866.0 L256.6,865.3 L255.6,864.7 L254.6,864.0 L253.6,863.2 L252.6,862.5 L251.6,861.8 L250.6,861.1 L249.6,860.3 L248.6,859.6 L247.6,859.0 L246.6,858.3 L245.6,857.6 L244.6,857.0 L243.6,856.5 L242.6,856.0 L241.6,855.5 L240.6,855.1 L239.6,854.7 L238.6,854.3 L237.6,854.0 L236.6,853.7 L235.6,853.5 L234.6,853.3 L233.6,853.1 L232.6,853.0 L231.6,852.9 L230.6,852.8 L229.6,852.7 L228.6,852.7 L227.6,852.7 L226.6,852.7 L225.6,852.7 L224.6,852.7 L223.6,852.8 L222.6,852.9 L221.6,852.9 L220.6,853.0 L219.6,853.1 L218.6,853.2 L217.6,853.3 L216.6,853.3 L215.6,853.4 L214.6,853.5 L213.6,853.6 L212.6,853.7 L211.6,853.7 L210.6,853.8 L209.6,853.8 L208.6,853.9 L207.6,853.9 L206.6,853.9 L205.6,853.9 L204.6,853.9 L203.6,854.0 L202.6,854.0 L201.6,854.0 L200.6,854.0 L199.6,854.0 L198.6,853.9 L197.6,853.9 L196.6,853.9 L195.6,853.9 L194.6,853.9 L193.6,854.0 L192.6,854.0 L191.6,854.0 L190.6,854.0 L189.6,854.0 L188.6,854.1 L187.6,854.1 L186.6,854.2 L185.6,854.2 L184.6,854.3 L183.6,854.4 L182.6,854.5 L181.6,854.6 L180.6,854.7 L179.6,854.8 L178.6,855.0 L177.6,855.1 L176.6,855.3 L175.6,855.4 L174.6,855.6 L173.6,855.8 L172.6,856.0 L171.6,856.2 L170.6,856.4 L169.6,856.6 L168.6,856.8 L167.6,857.0 L166.6,857.2 L165.6,857.4 L164.6,857.6 L163.6,857.8 L162.6,858.0 L161.6,858.2 L160.6,858.4 L159.6,858.6 L158.6,858.8 L157.6,859.0 L156.6,859.2 L155.6,859.4 L154.6,859.6 L153.6,859.8 L152.6,860.0 L151.6,860.1 L150.6,860.3 L149.6,860.4 L148.6,860.6 L147.6,860.7 L146.6,860.8 L145.6,860.9 L144.6,861.0 L143.6,861.1 L142.6,861.2 L141.6,861.3 L140.6,861.3 L139.6,861.4 L138.6,861.5 L137.6,861.5 L136.6,861.6 L135.6,861.7 L134.6,861.7 L133.6,861.8 L132.6,861.9 L131.6,862.0 L130.6,862.2 L129.6,862.3 L128.6,862.5 L127.6,862.7 L126.6,862.9 L125.6,863.1 L124.6,863.4 L123.6,863.7 L122.6,864.1 L121.6,864.4 L120.6,864.9 L119.6,865.3 L118.6,865.8 L117.6,866.4 L116.6,867.0 L115.6,867.7 L114.6,868.4 L113.6,869.1 L112.6,869.9 L111.6,870.8 L110.6,871.8 L109.6,872.8 L108.6,873.9 L107.6,875.0 L106.6,876.2 L105.6,877.5 L104.6,878.9 L103.6,880.3 L102.6,881.8 L101.6,883.4 L100.6,885.1 L99.6,886.9 L98.6,888.8 L97.6,890.7 L96.6,892.8 L95.6,894.9 L94.6,897.2 Z" fill="url(#prL)"/>
<path d="M94.6,814.9 L95.6,815.1 L96.6,815.3 L97.6,815.5 L98.6,815.7 L99.6,816.0 L100.6,816.2 L101.6,816.5 L102.6,816.8 L103.6,817.0 L104.6,817.3 L105.6,817.6 L106.6,817.9 L107.6,818.2 L108.6,818.6 L109.6,818.9 L110.6,819.2 L111.6,819.5 L112.6,819.9 L113.6,820.2 L114.6,820.5 L115.6,820.9 L116.6,821.2 L117.6,821.6 L118.6,821.9 L119.6,822.2 L120.6,822.6 L121.6,822.9 L122.6,823.2 L123.6,823.6 L124.6,823.9 L125.6,824.2 L126.6,824.5 L127.6,824.8 L128.6,825.1 L129.6,825.4 L130.6,825.7 L131.6,826.0 L132.6,826.2 L133.6,826.5 L134.6,826.7 L135.6,827.0 L136.6,827.2 L137.6,827.4 L138.6,827.6 L139.6,827.8 L140.6,828.0 L141.6,828.1 L142.6,828.3 L143.6,828.4 L144.6,828.5 L145.6,828.6 L146.6,828.7 L147.6,828.8 L148.6,828.9 L149.6,828.9 L150.6,829.0 L151.6,829.0 L152.6,829.1 L153.6,829.1 L154.6,829.1 L155.6,829.2 L156.6,829.2 L157.6,829.2 L158.6,829.2 L159.6,829.2 L160.6,829.2 L161.6,829.2 L162.6,829.3 L163.6,829.3 L164.6,829.3 L165.6,829.3 L166.6,829.3 L167.6,829.3 L168.6,829.3 L169.6,829.4 L170.6,829.4 L171.6,829.4 L172.6,829.5 L173.6,829.5 L174.6,829.6 L175.6,829.6 L176.6,829.7 L177.6,829.8 L178.6,829.8 L179.6,829.9 L180.6,830.1 L181.6,830.2 L182.6,830.3 L183.6,830.5 L184.6,830.6 L185.6,830.8 L186.6,831.0 L187.6,831.2 L188.6,831.4 L189.6,831.7 L190.6,831.9 L191.6,832.2 L192.6,832.5 L193.6,832.8 L194.6,833.1 L195.6,833.5 L196.6,833.9 L197.6,834.3 L198.6,834.7 L199.6,835.1 L200.6,835.6 L201.6,836.1 L202.6,836.6 L203.6,837.1 L204.6,837.5 L205.6,838.0 L206.6,838.3 L207.6,838.7 L208.6,838.9 L209.6,839.1 L210.6,839.2 L211.6,839.1 L212.6,839.0 L213.6,838.7 L214.6,838.3 L215.6,837.8 L216.6,837.1 L217.6,836.4 L218.6,835.6 L219.6,834.7 L220.6,833.8 L221.6,832.9 L222.6,831.9 L223.6,831.0 L224.6,830.0 L225.6,829.0 L226.6,828.1 L227.6,827.2 L228.6,826.4 L229.6,825.6 L230.6,824.9 L231.6,824.2 L232.6,823.7 L233.6,823.2 L234.6,822.8 L235.6,822.6 L236.6,822.4 L237.6,822.4 L238.6,822.5 L239.6,822.6 L240.6,822.9 L241.6,823.2 L242.6,823.6 L243.6,823.9 L244.6,824.3 L245.6,824.7 L246.6,825.1 L247.6,825.5 L248.6,825.8 L249.6,826.0 L250.6,826.2 L251.6,826.3 L252.6,826.3 L253.6,826.2 L254.6,826.0 L255.6,825.8 L256.6,825.5 L257.6,825.1 L258.6,824.7 L259.6,824.2 L260.6,823.6 L261.6,822.9 L262.6,822.2 L263.6,821.4 L264.6,820.5 L265.6,819.5 L266.6,818.5 L267.6,817.5 L268.6,816.3 L269.6,815.2 L270.6,813.9 L271.6,812.6 L272.6,811.2 L273.6,809.8 L274.6,808.3 L275.6,806.8 L276.6,805.2 L277.6,803.5 L278.6,801.8 L279.6,800.1 L280.6,798.3 L281.6,796.4 L282.6,794.5 L283.6,792.6 L284.6,790.6 L285.6,788.5 L286.6,786.4 L287.6,784.3 L288.6,782.1 L289.6,779.9 L290.6,777.7 L291.6,775.4 L292.6,773.1 L293.6,770.7 L294.6,768.3 L295.6,765.9 L296.6,763.5 L297.6,761.0 L298.6,758.6 L299.6,756.1 L300.6,753.6 L301.6,751.0 L302.6,748.5 L303.6,746.0 L304.6,743.4 L305.6,740.9 L306.6,738.3 L307.6,735.8 L308.6,733.2 L309.6,730.7 L310.6,728.2 L311.6,725.7 L312.6,723.2 L313.6,720.7 L314.6,718.2 L315.6,715.8 L316.6,713.4 L317.6,711.0 L318.6,708.7 L319.6,706.3 L320.6,704.1 L321.6,701.8 L322.6,699.6 L323.6,697.4 L324.6,695.3 L325.6,693.3 L326.6,691.2 L327.6,689.3 L328.6,687.4 L329.6,685.5 L330.6,683.7 L331.6,682.0 L332.6,680.3 L333.6,678.7 L334.6,677.2 L335.6,675.8 L336.6,674.4 L337.6,673.1 L338.6,671.9 L339.6,670.7 L340.6,669.7 L341.6,668.7 L342.6,667.8 L343.6,667.0 L344.6,666.2 L345.6,665.5 L346.6,664.9 L347.6,664.3 L348.6,663.8 L349.6,663.4 L350.6,663.0 L351.6,662.7 L352.6,662.4 L353.6,662.2 L354.6,662.1 L355.6,662.0 L356.6,661.9 L357.6,661.9 L358.6,661.9 L359.6,662.0 L360.6,662.1 L361.6,662.2 L362.6,662.4 L363.6,662.6 L364.6,662.9 L365.6,663.1 L366.6,663.4 L367.6,663.7 L368.6,664.1 L369.6,664.4 L370.6,664.8 L371.6,665.2 L372.6,665.6 L373.6,666.1 L374.6,666.5 L375.6,666.9 L376.6,667.4 L377.6,667.8 L378.6,668.2 L379.6,668.7 L380.6,669.1 L381.6,669.5 L382.6,669.9 L383.6,670.3 L384.6,670.7 L385.6,671.0 L386.6,671.4 L387.6,671.7 L388.6,672.0 L389.6,672.3 L390.6,672.5 L391.6,672.7 L392.6,672.9 L393.6,673.1 L394.6,673.3 L395.6,673.4 L396.6,673.5 L397.6,673.6 L398.6,673.6 L399.6,673.6 L400.6,673.6 L401.6,673.5 L402.6,673.4 L403.6,673.2 L404.6,673.1 L405.6,672.9 L406.6,672.6 L407.6,672.3 L408.6,672.0 L409.6,671.6 L410.6,671.2 L411.6,670.7 L412.6,670.2 L413.6,669.7 L414.6,669.0 L415.6,668.4 L416.6,667.7 L417.6,666.9 L418.6,666.1 L419.6,665.3 L420.6,664.4 L421.6,663.4 L422.6,662.5 L423.6,661.4 L424.6,660.4 L425.6,659.3 L426.6,658.2 L427.6,657.1 L428.6,655.9 L429.6,654.8 L430.6,653.6 L431.6,652.4 L432.6,651.2 L433.6,650.0 L434.6,648.8 L435.6,647.6 L436.6,646.4 L437.6,645.3 L438.6,644.1 L439.6,643.0 L440.6,641.8 L441.6,640.8 L442.6,639.7 L443.6,638.6 L444.6,637.6 L445.6,636.7 L446.6,635.8 L447.6,634.9 L448.6,634.0 L449.6,633.2 L450.6,632.5 L451.6,631.7 L452.6,631.0 L453.6,630.4 L454.6,629.7 L455.6,629.2 L456.6,628.6 L457.6,628.1 L458.6,627.6 L459.6,627.1 L460.6,626.7 L461.6,626.2 L462.6,625.8 L463.6,625.3 L464.6,624.8 L465.6,624.2 L466.6,623.5 L467.6,622.7 L468.6,621.7 L469.6,620.6 L470.6,619.3 L471.6,617.8 L472.6,616.2 L473.6,614.4 L474.6,612.5 L475.6,610.6 L476.6,608.5 L477.6,606.5 L478.6,604.4 L479.6,602.3 L480.6,600.2 L481.6,598.2 L482.6,596.3 L483.6,594.4 L484.6,592.6 L485.6,590.9 L486.6,589.2 L487.6,587.6 L488.6,586.1 L489.6,584.6 L490.6,583.1 L491.6,581.8 L492.6,580.4 L493.6,579.1 L494.6,577.9 L495.6,576.6 L496.6,575.4 L497.6,574.3 L498.6,573.1 L499.6,572.0 L500.6,570.9 L501.6,569.8 L502.6,568.8 L503.6,567.7 L504.6,566.7 L505.6,565.6 L506.6,564.5 L507.6,563.5 L508.6,562.4 L509.6,561.3 L510.6,560.2 L511.6,559.1 L512.6,558.0 L513.6,556.9 L514.6,555.8 L515.6,554.7 L516.6,553.6 L517.6,552.5 L518.6,551.4 L519.6,550.4 L520.6,549.4 L521.6,548.4 L522.6,547.5 L523.6,546.6 L524.6,545.7 L525.6,544.9 L526.6,544.2 L527.6,543.5 L528.6,542.9 L529.6,542.4 L530.6,541.9 L531.6,541.5 L532.6,541.2 L533.6,541.0 L534.6,540.9 L535.6,540.9 L536.6,541.0 L537.6,541.2 L538.6,541.4 L539.6,541.8 L540.6,542.2 L541.6,542.8 L542.6,543.4 L543.6,544.1 L544.6,544.9 L545.6,545.7 L546.6,546.6 L547.6,547.6 L548.6,548.7 L549.6,549.8 L550.6,551.0 L551.6,552.2 L552.6,553.5 L553.6,554.9 L554.6,556.3 L555.6,557.7 L556.6,559.2 L557.6,560.8 L558.6,562.4 L559.6,564.0 L560.6,565.7 L561.6,567.3 L562.6,569.1 L563.6,570.8 L564.6,572.6 L565.6,574.4 L566.6,576.2 L567.6,578.0 L568.6,579.9 L569.6,581.7 L570.6,583.6 L571.6,585.5 L572.6,587.3 L573.6,589.2 L574.6,591.1 L575.6,593.0 L576.6,594.9 L577.6,596.7 L578.6,598.6 L579.6,600.4 L580.6,602.2 L581.6,604.0 L582.6,605.8 L583.6,607.5 L584.6,609.3 L585.6,611.0 L586.6,612.6 L587.6,614.3 L588.6,615.8 L589.6,617.4 L590.6,618.9 L591.6,620.4 L592.6,621.8 L593.6,623.1 L594.6,624.5 L595.6,625.8 L596.6,627.0 L597.6,628.2 L598.6,629.3 L599.6,630.4 L600.6,631.5 L601.6,632.5 L602.6,633.4 L603.6,634.4 L604.6,635.2 L605.6,636.1 L606.6,636.8 L607.6,637.6 L608.6,638.3 L609.6,638.9 L610.6,639.5 L611.6,640.1 L612.6,640.6 L613.6,641.1 L614.6,641.5 L615.6,641.9 L616.6,642.2 L617.6,642.5 L618.6,642.7 L619.6,642.9 L620.6,643.1 L621.6,643.2 L622.6,643.3 L623.6,643.3 L624.6,643.3 L625.6,643.2 L626.6,643.1 L627.6,643.0 L628.6,642.8 L629.6,642.6 L630.6,642.3 L631.6,642.0 L632.6,641.6 L633.6,641.2 L634.6,640.7 L635.6,640.2 L636.6,639.7 L637.6,639.1 L638.6,638.5 L639.6,637.8 L640.6,637.1 L641.6,636.4 L642.6,635.7 L643.6,634.9 L644.6,634.1 L645.6,633.2 L646.6,632.4 L647.6,631.5 L648.6,630.6 L649.6,629.6 L650.6,628.7 L651.6,627.7 L652.6,626.8 L653.6,625.8 L654.6,624.8 L655.6,623.8 L656.6,622.8 L657.6,621.8 L658.6,620.8 L659.6,619.8 L660.6,618.8 L661.6,617.8 L662.6,616.8 L663.6,615.8 L664.6,614.9 L665.6,613.9 L666.6,613.0 L667.6,612.0 L668.6,611.1 L669.6,610.2 L670.6,609.3 L671.6,608.5 L672.6,607.7 L673.6,606.9 L674.6,606.1 L675.6,605.4 L676.6,604.7 L677.6,604.0 L678.6,603.3 L679.6,602.7 L680.6,602.1 L681.6,601.6 L682.6,601.1 L683.6,600.6 L684.6,600.1 L685.6,599.7 L686.6,599.3 L687.6,599.0 L688.6,598.7 L689.6,598.4 L690.6,598.2 L691.6,598.0 L692.6,597.9 L693.6,597.8 L694.6,597.8 L695.6,597.8 L696.6,597.8 L697.6,597.9 L698.6,598.0 L699.6,598.2 L700.6,598.4 L701.6,598.7 L702.6,599.0 L703.6,599.4 L704.6,599.8 L705.6,600.3 L706.6,600.8 L707.6,601.4 L708.6,602.0 L709.6,602.7 L710.6,603.5 L711.6,604.3 L712.6,605.1 L713.6,606.0 L714.6,606.9 L715.6,607.9 L716.6,608.9 L717.6,609.9 L718.6,610.9 L719.6,612.0 L720.6,613.1 L721.6,614.3 L722.6,615.4 L723.6,616.6 L724.6,617.8 L725.6,619.0 L726.6,620.2 L727.6,621.4 L728.6,622.6 L729.6,623.8 L730.6,624.9 L731.6,625.9 L732.6,626.9 L733.6,627.9 L734.6,628.8 L735.6,629.6 L736.6,630.4 L737.6,631.2 L738.6,632.0 L739.6,632.7 L740.6,633.4 L741.6,634.1 L742.6,634.8 L743.6,635.5 L744.6,636.1 L745.6,636.7 L746.6,637.3 L747.6,637.9 L748.6,638.4 L749.6,638.9 L750.6,639.4 L751.6,639.9 L752.6,640.3 L753.6,640.8 L754.6,641.2 L755.6,641.6 L756.6,641.9 L757.6,642.3 L758.6,642.6 L759.6,642.9 L760.6,643.2 L761.6,643.4 L762.6,643.6 L763.6,643.8 L764.6,644.0 L765.6,644.2 L766.6,644.3 L767.6,644.4 L768.6,644.5 L769.6,644.6 L770.6,644.6 L771.6,644.7 L772.6,644.7 L773.6,644.7 L774.6,644.7 L775.6,644.7 L776.6,644.7 L777.6,644.7 L778.6,644.7 L779.6,644.7 L780.6,644.7 L781.6,644.7 L782.6,644.7 L783.6,644.7 L784.6,644.7 L785.6,644.8 L786.6,644.8 L787.6,644.8 L788.6,644.9 L789.6,645.0 L790.6,645.0 L791.6,645.2 L792.6,645.3 L793.6,645.4 L794.6,645.6 L795.6,645.8 L796.6,646.0 L797.6,646.2 L798.6,646.4 L799.6,646.7 L800.6,646.9 L801.6,647.2 L802.6,647.5 L803.6,647.8 L804.6,648.2 L805.6,648.5 L806.6,648.9 L807.6,649.2 L808.6,649.6 L809.6,650.0 L810.6,650.4 L811.6,650.9 L812.6,651.3 L813.6,651.8 L814.6,652.2 L815.6,652.7 L816.6,653.1 L817.6,653.1 L817.7,653.1 L817.7,761.3 L817.6,761.3 L816.6,761.8 L815.6,762.2 L814.6,762.7 L813.6,763.2 L812.6,763.7 L811.6,764.1 L810.6,764.6 L809.6,765.1 L808.6,765.6 L807.6,766.1 L806.6,766.6 L805.6,767.1 L804.6,767.6 L803.6,768.0 L802.6,768.5 L801.6,769.0 L800.6,769.5 L799.6,770.0 L798.6,770.5 L797.6,771.0 L796.6,771.4 L795.6,771.9 L794.6,772.3 L793.6,772.8 L792.6,773.2 L791.6,773.7 L790.6,774.1 L789.6,774.5 L788.6,774.9 L787.6,775.3 L786.6,775.7 L785.6,776.1 L784.6,776.4 L783.6,776.8 L782.6,777.1 L781.6,777.4 L780.6,777.7 L779.6,778.0 L778.6,778.2 L777.6,778.5 L776.6,778.7 L775.6,778.9 L774.6,779.1 L773.6,779.3 L772.6,779.4 L771.6,779.6 L770.6,779.7 L769.6,779.8 L768.6,779.8 L767.6,779.8 L766.6,779.9 L765.6,779.8 L764.6,779.8 L763.6,779.7 L762.6,779.6 L761.6,779.5 L760.6,779.4 L759.6,779.2 L758.6,779.0 L757.6,778.7 L756.6,778.5 L755.6,778.2 L754.6,777.8 L753.6,777.5 L752.6,777.1 L751.6,776.7 L750.6,776.2 L749.6,775.8 L748.6,775.3 L747.6,774.8 L746.6,774.2 L745.6,773.7 L744.6,773.1 L743.6,772.5 L742.6,771.9 L741.6,771.3 L740.6,770.6 L739.6,770.0 L738.6,769.3 L737.6,768.6 L736.6,767.9 L735.6,767.2 L734.6,766.5 L733.6,765.8 L732.6,765.1 L731.6,764.3 L730.6,763.6 L729.6,762.8 L728.6,762.1 L727.6,761.3 L726.6,760.6 L725.6,759.8 L724.6,759.1 L723.6,758.3 L722.6,757.6 L721.6,756.8 L720.6,756.1 L719.6,755.3 L718.6,754.6 L717.6,753.9 L716.6,753.2 L715.6,752.5 L714.6,751.8 L713.6,751.1 L712.6,750.4 L711.6,749.7 L710.6,749.1 L709.6,748.5 L708.6,747.9 L707.6,747.3 L706.6,746.7 L705.6,746.1 L704.6,745.6 L703.6,745.1 L702.6,744.6 L701.6,744.1 L700.6,743.7 L699.6,743.3 L698.6,742.9 L697.6,742.5 L696.6,742.2 L695.6,741.9 L694.6,741.6 L693.6,741.4 L692.6,741.2 L691.6,741.0 L690.6,740.9 L689.6,740.8 L688.6,740.7 L687.6,740.6 L686.6,740.6 L685.6,740.7 L684.6,740.7 L683.6,740.8 L682.6,741.0 L681.6,741.1 L680.6,741.3 L679.6,741.6 L678.6,741.8 L677.6,742.1 L676.6,742.4 L675.6,742.8 L674.6,743.2 L673.6,743.6 L672.6,744.0 L671.6,744.5 L670.6,745.0 L669.6,745.5 L668.6,746.1 L667.6,746.7 L666.6,747.3 L665.6,747.9 L664.6,748.6 L663.6,749.3 L662.6,750.1 L661.6,750.8 L660.6,751.6 L659.6,752.4 L658.6,753.2 L657.6,754.1 L656.6,754.9 L655.6,755.8 L654.6,756.7 L653.6,757.7 L652.6,758.6 L651.6,759.5 L650.6,760.5 L649.6,761.4 L648.6,762.4 L647.6,763.4 L646.6,764.4 L645.6,765.3 L644.6,766.3 L643.6,767.3 L642.6,768.2 L641.6,769.2 L640.6,770.1 L639.6,771.1 L638.6,772.0 L637.6,772.9 L636.6,773.8 L635.6,774.7 L634.6,775.6 L633.6,776.5 L632.6,777.3 L631.6,778.1 L630.6,778.9 L629.6,779.6 L628.6,780.4 L627.6,781.1 L626.6,781.7 L625.6,782.4 L624.6,783.0 L623.6,783.5 L622.6,784.1 L621.6,784.5 L620.6,785.0 L619.6,785.4 L618.6,785.8 L617.6,786.1 L616.6,786.3 L615.6,786.5 L614.6,786.7 L613.6,786.8 L612.6,786.9 L611.6,786.9 L610.6,786.8 L609.6,786.7 L608.6,786.5 L607.6,786.3 L606.6,786.1 L605.6,785.8 L604.6,785.4 L603.6,785.0 L602.6,784.6 L601.6,784.1 L600.6,783.6 L599.6,783.1 L598.6,782.5 L597.6,781.9 L596.6,781.2 L595.6,780.5 L594.6,779.8 L593.6,779.1 L592.6,778.3 L591.6,777.5 L590.6,776.7 L589.6,775.8 L588.6,775.0 L587.6,774.1 L586.6,773.2 L585.6,772.3 L584.6,771.4 L583.6,770.4 L582.6,769.5 L581.6,768.5 L580.6,767.5 L579.6,766.5 L578.6,765.5 L577.6,764.5 L576.6,763.5 L575.6,762.5 L574.6,761.5 L573.6,760.6 L572.6,759.6 L571.6,758.6 L570.6,757.6 L569.6,756.6 L568.6,755.6 L567.6,754.7 L566.6,753.7 L565.6,752.8 L564.6,751.9 L563.6,751.0 L562.6,750.1 L561.6,749.2 L560.6,748.4 L559.6,747.6 L558.6,746.8 L557.6,746.0 L556.6,745.3 L555.6,744.5 L554.6,743.9 L553.6,743.2 L552.6,742.6 L551.6,742.0 L550.6,741.4 L549.6,740.9 L548.6,740.5 L547.6,740.0 L546.6,739.6 L545.6,739.3 L544.6,738.9 L543.6,738.7 L542.6,738.5 L541.6,738.3 L540.6,738.1 L539.6,738.1 L538.6,738.0 L537.6,738.0 L536.6,738.1 L535.6,738.2 L534.6,738.4 L533.6,738.6 L532.6,738.9 L531.6,739.2 L530.6,739.6 L529.6,740.0 L528.6,740.5 L527.6,741.0 L526.6,741.6 L525.6,742.2 L524.6,742.9 L523.6,743.6 L522.6,744.3 L521.6,745.1 L520.6,745.9 L519.6,746.8 L518.6,747.7 L517.6,748.7 L516.6,749.6 L515.6,750.7 L514.6,751.7 L513.6,752.8 L512.6,753.9 L511.6,755.1 L510.6,756.2 L509.6,757.4 L508.6,758.7 L507.6,759.9 L506.6,761.2 L505.6,762.6 L504.6,763.9 L503.6,765.3 L502.6,766.8 L501.6,768.2 L500.6,769.7 L499.6,771.3 L498.6,772.9 L497.6,774.5 L496.6,776.2 L495.6,778.0 L494.6,779.7 L493.6,781.6 L492.6,783.5 L491.6,785.4 L490.6,787.4 L489.6,789.4 L488.6,791.5 L487.6,793.5 L486.6,795.6 L485.6,797.7 L484.6,799.8 L483.6,801.9 L482.6,804.0 L481.6,806.0 L480.6,808.1 L479.6,810.1 L478.6,812.1 L477.6,814.0 L476.6,815.9 L475.6,817.7 L474.6,819.5 L473.6,821.3 L472.6,823.1 L471.6,824.8 L470.6,826.5 L469.6,828.2 L468.6,829.9 L467.6,831.5 L466.6,833.1 L465.6,834.7 L464.6,836.3 L463.6,837.9 L462.6,839.5 L461.6,841.1 L460.6,842.7 L459.6,844.2 L458.6,845.8 L457.6,847.4 L456.6,849.0 L455.6,850.5 L454.6,852.1 L453.6,853.7 L452.6,855.4 L451.6,857.0 L450.6,858.6 L449.6,860.3 L448.6,862.0 L447.6,863.7 L446.6,865.4 L445.6,867.2 L444.6,868.9 L443.6,870.7 L442.6,872.5 L441.6,874.3 L440.6,876.0 L439.6,877.8 L438.6,879.6 L437.6,881.3 L436.6,883.1 L435.6,884.9 L434.6,886.6 L433.6,888.3 L432.6,890.0 L431.6,891.7 L430.6,893.3 L429.6,895.0 L428.6,896.6 L427.6,898.1 L426.6,899.7 L425.6,901.2 L424.6,902.6 L423.6,904.0 L422.6,905.4 L421.6,906.7 L420.6,908.0 L419.6,909.2 L418.6,910.4 L417.6,911.5 L416.6,912.6 L415.6,913.6 L414.6,914.5 L413.6,915.4 L412.6,916.2 L411.6,916.9 L410.6,917.5 L409.6,918.1 L408.6,918.6 L407.6,919.0 L406.6,919.3 L405.6,919.5 L404.6,919.7 L403.6,919.7 L402.6,919.7 L401.6,919.6 L400.6,919.3 L399.6,919.0 L398.6,918.7 L397.6,918.2 L396.6,917.7 L395.6,917.0 L394.6,916.4 L393.6,915.6 L392.6,914.8 L391.6,913.9 L390.6,912.9 L389.6,911.9 L388.6,910.8 L387.6,909.7 L386.6,908.5 L385.6,907.2 L384.6,905.9 L383.6,904.6 L382.6,903.2 L381.6,901.7 L380.6,900.3 L379.6,898.7 L378.6,897.2 L377.6,895.6 L376.6,893.9 L375.6,892.3 L374.6,890.6 L373.6,888.9 L372.6,887.1 L371.6,885.3 L370.6,883.5 L369.6,881.7 L368.6,879.9 L367.6,878.0 L366.6,876.2 L365.6,874.3 L364.6,872.4 L363.6,870.5 L362.6,868.7 L361.6,866.8 L360.6,864.9 L359.6,863.0 L358.6,861.1 L357.6,859.2 L356.6,857.4 L355.6,855.6 L354.6,853.8 L353.6,852.1 L352.6,850.5 L351.6,848.9 L350.6,847.5 L349.6,846.1 L348.6,844.8 L347.6,843.6 L346.6,842.5 L345.6,841.6 L344.6,840.8 L343.6,840.0 L342.6,839.4 L341.6,838.9 L340.6,838.5 L339.6,838.1 L338.6,837.8 L337.6,837.7 L336.6,837.6 L335.6,837.5 L334.6,837.5 L333.6,837.6 L332.6,837.8 L331.6,838.0 L330.6,838.2 L329.6,838.5 L328.6,838.8 L327.6,839.2 L326.6,839.6 L325.6,840.0 L324.6,840.5 L323.6,840.9 L322.6,841.4 L321.6,841.9 L320.6,842.4 L319.6,842.9 L318.6,843.3 L317.6,843.8 L316.6,844.3 L315.6,844.8 L314.6,845.3 L313.6,845.7 L312.6,846.2 L311.6,846.7 L310.6,847.2 L309.6,847.7 L308.6,848.2 L307.6,848.6 L306.6,849.1 L305.6,849.6 L304.6,850.2 L303.6,850.7 L302.6,851.2 L301.6,851.7 L300.6,852.3 L299.6,852.8 L298.6,853.4 L297.6,853.9 L296.6,854.5 L295.6,855.1 L294.6,855.7 L293.6,856.4 L292.6,857.0 L291.6,857.6 L290.6,858.3 L289.6,859.0 L288.6,859.7 L287.6,860.4 L286.6,861.1 L285.6,861.8 L284.6,862.5 L283.6,863.2 L282.6,863.9 L281.6,864.5 L280.6,865.2 L279.6,865.8 L278.6,866.4 L277.6,867.0 L276.6,867.5 L275.6,868.0 L274.6,868.4 L273.6,868.8 L272.6,869.1 L271.6,869.4 L270.6,869.6 L269.6,869.7 L268.6,869.8 L267.6,869.8 L266.6,869.7 L265.6,869.6 L264.6,869.3 L263.6,869.0 L262.6,868.6 L261.6,868.2 L260.6,867.7 L259.6,867.2 L258.6,866.6 L257.6,866.0 L256.6,865.3 L255.6,864.7 L254.6,864.0 L253.6,863.2 L252.6,862.5 L251.6,861.8 L250.6,861.1 L249.6,860.3 L248.6,859.6 L247.6,859.0 L246.6,858.3 L245.6,857.6 L244.6,857.0 L243.6,856.5 L242.6,856.0 L241.6,855.5 L240.6,855.1 L239.6,854.7 L238.6,854.3 L237.6,854.0 L236.6,853.7 L235.6,853.5 L234.6,853.3 L233.6,853.1 L232.6,853.0 L231.6,852.9 L230.6,852.8 L229.6,852.7 L228.6,852.7 L227.6,852.7 L226.6,852.7 L225.6,852.7 L224.6,852.7 L223.6,852.8 L222.6,852.9 L221.6,852.9 L220.6,853.0 L219.6,853.1 L218.6,853.2 L217.6,853.3 L216.6,853.3 L215.6,853.4 L214.6,853.5 L213.6,853.6 L212.6,853.7 L211.6,853.7 L210.6,853.8 L209.6,853.8 L208.6,853.9 L207.6,853.9 L206.6,853.9 L205.6,853.9 L204.6,853.9 L203.6,854.0 L202.6,854.0 L201.6,854.0 L200.6,854.0 L199.6,854.0 L198.6,853.9 L197.6,853.9 L196.6,853.9 L195.6,853.9 L194.6,853.9 L193.6,854.0 L192.6,854.0 L191.6,854.0 L190.6,854.0 L189.6,854.0 L188.6,854.1 L187.6,854.1 L186.6,854.2 L185.6,854.2 L184.6,854.3 L183.6,854.4 L182.6,854.5 L181.6,854.6 L180.6,854.7 L179.6,854.8 L178.6,855.0 L177.6,855.1 L176.6,855.3 L175.6,855.4 L174.6,855.6 L173.6,855.8 L172.6,856.0 L171.6,856.2 L170.6,856.4 L169.6,856.6 L168.6,856.8 L167.6,857.0 L166.6,857.2 L165.6,857.4 L164.6,857.6 L163.6,857.8 L162.6,858.0 L161.6,858.2 L160.6,858.4 L159.6,858.6 L158.6,858.8 L157.6,859.0 L156.6,859.2 L155.6,859.4 L154.6,859.6 L153.6,859.8 L152.6,860.0 L151.6,860.1 L150.6,860.3 L149.6,860.4 L148.6,860.6 L147.6,860.7 L146.6,860.8 L145.6,860.9 L144.6,861.0 L143.6,861.1 L142.6,861.2 L141.6,861.3 L140.6,861.3 L139.6,861.4 L138.6,861.5 L137.6,861.5 L136.6,861.6 L135.6,861.7 L134.6,861.7 L133.6,861.8 L132.6,861.9 L131.6,862.0 L130.6,862.2 L129.6,862.3 L128.6,862.5 L127.6,862.7 L126.6,862.9 L125.6,863.1 L124.6,863.4 L123.6,863.7 L122.6,864.1 L121.6,864.4 L120.6,864.9 L119.6,865.3 L118.6,865.8 L117.6,866.4 L116.6,867.0 L115.6,867.7 L114.6,868.4 L113.6,869.1 L112.6,869.9 L111.6,870.8 L110.6,871.8 L109.6,872.8 L108.6,873.9 L107.6,875.0 L106.6,876.2 L105.6,877.5 L104.6,878.9 L103.6,880.3 L102.6,881.8 L101.6,883.4 L100.6,885.1 L99.6,886.9 L98.6,888.8 L97.6,890.7 L96.6,892.8 L95.6,894.9 L94.6,897.2 Z" fill="url(#ppL)" clip-path="url(#clipBL)"/>
<path d="M94.6,883.5 L95.6,884.4 L96.6,885.3 L97.6,886.2 L98.6,887.1 L99.6,887.9 L100.6,888.7 L101.6,889.5 L102.6,890.1 L103.6,890.6 L104.6,891.0 L105.6,891.2 L106.6,891.2 L107.6,891.0 L108.6,890.6 L109.6,890.1 L110.6,889.3 L111.6,888.3 L112.6,887.3 L113.6,886.0 L114.6,884.7 L115.6,883.3 L116.6,881.8 L117.6,880.2 L118.6,878.7 L119.6,877.1 L120.6,875.5 L121.6,873.9 L122.6,872.3 L123.6,870.8 L124.6,869.4 L125.6,868.1 L126.6,866.9 L127.6,865.7 L128.6,864.6 L129.6,863.6 L130.6,862.7 L131.6,861.8 L132.6,861.0 L133.6,860.2 L134.6,859.4 L135.6,858.7 L136.6,858.0 L137.6,857.3 L138.6,856.6 L139.6,855.9 L140.6,855.2 L141.6,854.5 L142.6,853.7 L143.6,853.0 L144.6,852.2 L145.6,851.3 L146.6,850.4 L147.6,849.5 L148.6,848.5 L149.6,847.4 L150.6,846.4 L151.6,845.3 L152.6,844.2 L153.6,843.1 L154.6,842.1 L155.6,841.1 L156.6,840.1 L157.6,839.2 L158.6,838.3 L159.6,837.5 L160.6,836.8 L161.6,836.1 L162.6,835.5 L163.6,835.0 L164.6,834.5 L165.6,834.0 L166.6,833.7 L167.6,833.3 L168.6,833.0 L169.6,832.8 L170.6,832.6 L171.6,832.4 L172.6,832.3 L173.6,832.2 L174.6,832.1 L175.6,832.1 L176.6,832.1 L177.6,832.1 L178.6,832.2 L179.6,832.2 L180.6,832.3 L181.6,832.5 L182.6,832.6 L183.6,832.7 L184.6,832.9 L185.6,833.1 L186.6,833.3 L187.6,833.5 L188.6,833.7 L189.6,833.9 L190.6,834.1 L191.6,834.3 L192.6,834.5 L193.6,834.6 L194.6,834.8 L195.6,835.0 L196.6,835.2 L197.6,835.3 L198.6,835.4 L199.6,835.5 L200.6,835.6 L201.6,835.7 L202.6,835.8 L203.6,835.8 L204.6,835.8 L205.6,835.8 L206.6,835.8 L207.6,835.8 L208.6,835.7 L209.6,835.7 L210.6,835.6 L211.6,835.5 L212.6,835.4 L213.6,835.3 L214.6,835.2 L215.6,835.1 L216.6,835.0 L217.6,834.8 L218.6,834.7 L219.6,834.6 L220.6,834.4 L221.6,834.3 L222.6,834.1 L223.6,834.0 L224.6,833.8 L225.6,833.7 L226.6,833.5 L227.6,833.4 L228.6,833.3 L229.6,833.1 L230.6,833.0 L231.6,832.9 L232.6,832.8 L233.6,832.7 L234.6,832.6 L235.6,832.5 L236.6,832.4 L237.6,832.3 L238.6,832.3 L239.6,832.2 L240.6,832.2 L241.6,832.1 L242.6,832.1 L243.6,832.0 L244.6,832.0 L245.6,831.9 L246.6,831.8 L247.6,831.7 L248.6,831.6 L249.6,831.5 L250.6,831.3 L251.6,831.2 L252.6,831.0 L253.6,830.8 L254.6,830.5 L255.6,830.3 L256.6,830.0 L257.6,829.6 L258.6,829.3 L259.6,828.9 L260.6,828.4 L261.6,827.9 L262.6,827.4 L263.6,826.8 L264.6,826.2 L265.6,825.6 L266.6,824.8 L267.6,824.1 L268.6,823.2 L269.6,822.3 L270.6,821.4 L271.6,820.4 L272.6,819.3 L273.6,818.1 L274.6,816.9 L275.6,815.6 L276.6,814.3 L277.6,812.9 L278.6,811.3 L279.6,809.7 L280.6,808.0 L281.6,806.3 L282.6,804.4 L283.6,802.4 L284.6,800.3 L285.6,798.1 L286.6,795.8 L287.6,793.4 L288.6,791.0 L289.6,788.5 L290.6,785.9 L291.6,783.3 L292.6,780.7 L293.6,778.0 L294.6,775.4 L295.6,772.7 L296.6,770.1 L297.6,767.5 L298.6,765.0 L299.6,762.4 L300.6,759.9 L301.6,757.5 L302.6,755.0 L303.6,752.4 L304.6,749.9 L305.6,747.3 L306.6,744.7 L307.6,742.1 L308.6,739.3 L309.6,736.5 L310.6,733.6 L311.6,730.7 L312.6,727.6 L313.6,724.4 L314.6,721.2 L315.6,717.9 L316.6,714.5 L317.6,711.1 L318.6,707.6 L319.6,704.1 L320.6,700.6 L321.6,697.1 L322.6,693.6 L323.6,690.0 L324.6,686.5 L325.6,683.0 L326.6,679.6 L327.6,676.1 L328.6,672.7 L329.6,669.3 L330.6,665.9 L331.6,662.6 L332.6,659.3 L333.6,656.1 L334.6,653.0 L335.6,649.9 L336.6,646.8 L337.6,643.8 L338.6,640.9 L339.6,638.1 L340.6,635.4 L341.6,632.7 L342.6,630.2 L343.6,627.7 L344.6,625.3 L345.6,623.1 L346.6,620.9 L347.6,618.9 L348.6,617.0 L349.6,615.2 L350.6,613.5 L351.6,611.9 L352.6,610.4 L353.6,609.0 L354.6,607.8 L355.6,606.6 L356.6,605.4 L357.6,604.4 L358.6,603.5 L359.6,602.6 L360.6,601.8 L361.6,601.0 L362.6,600.4 L363.6,599.8 L364.6,599.2 L365.6,598.7 L366.6,598.3 L367.6,597.9 L368.6,597.6 L369.6,597.2 L370.6,597.0 L371.6,596.7 L372.6,596.5 L373.6,596.3 L374.6,596.2 L375.6,596.0 L376.6,595.9 L377.6,595.8 L378.6,595.7 L379.6,595.6 L380.6,595.5 L381.6,595.3 L382.6,595.2 L383.6,595.1 L384.6,595.0 L385.6,594.8 L386.6,594.6 L387.6,594.4 L388.6,594.2 L389.6,593.9 L390.6,593.6 L391.6,593.3 L392.6,592.9 L393.6,592.5 L394.6,592.0 L395.6,591.5 L396.6,591.0 L397.6,590.4 L398.6,589.8 L399.6,589.1 L400.6,588.4 L401.6,587.7 L402.6,586.9 L403.6,586.1 L404.6,585.2 L405.6,584.3 L406.6,583.4 L407.6,582.5 L408.6,581.5 L409.6,580.4 L410.6,579.4 L411.6,578.3 L412.6,577.1 L413.6,576.0 L414.6,574.8 L415.6,573.5 L416.6,572.3 L417.6,571.0 L418.6,569.7 L419.6,568.3 L420.6,566.9 L421.6,565.5 L422.6,564.0 L423.6,562.5 L424.6,561.0 L425.6,559.5 L426.6,557.9 L427.6,556.3 L428.6,554.7 L429.6,553.0 L430.6,551.4 L431.6,549.7 L432.6,547.9 L433.6,546.2 L434.6,544.4 L435.6,542.6 L436.6,540.7 L437.6,538.9 L438.6,537.0 L439.6,535.1 L440.6,533.1 L441.6,531.2 L442.6,529.2 L443.6,527.2 L444.6,525.2 L445.6,523.1 L446.6,521.1 L447.6,519.0 L448.6,516.9 L449.6,514.7 L450.6,512.6 L451.6,510.4 L452.6,508.2 L453.6,506.0 L454.6,503.8 L455.6,501.6 L456.6,499.3 L457.6,497.0 L458.6,494.8 L459.6,492.5 L460.6,490.2 L461.6,487.9 L462.6,485.6 L463.6,483.2 L464.6,480.9 L465.6,478.6 L466.6,476.2 L467.6,473.9 L468.6,471.5 L469.6,469.2 L470.6,466.8 L471.6,464.5 L472.6,462.1 L473.6,459.7 L474.6,457.4 L475.6,455.0 L476.6,452.7 L477.6,450.4 L478.6,448.0 L479.6,445.7 L480.6,443.4 L481.6,441.1 L482.6,438.8 L483.6,436.5 L484.6,434.2 L485.6,431.9 L486.6,429.7 L487.6,427.4 L488.6,425.2 L489.6,423.0 L490.6,420.8 L491.6,418.6 L492.6,416.5 L493.6,414.3 L494.6,412.2 L495.6,410.1 L496.6,408.0 L497.6,406.0 L498.6,404.0 L499.6,402.0 L500.6,400.0 L501.6,398.0 L502.6,396.1 L503.6,394.2 L504.6,392.4 L505.6,390.6 L506.6,388.8 L507.6,387.1 L508.6,385.4 L509.6,383.8 L510.6,382.2 L511.6,380.7 L512.6,379.3 L513.6,377.9 L514.6,376.5 L515.6,375.3 L516.6,374.1 L517.6,373.0 L518.6,371.9 L519.6,371.0 L520.6,370.1 L521.6,369.3 L522.6,368.6 L523.6,368.0 L524.6,367.4 L525.6,367.0 L526.6,366.7 L527.6,366.5 L528.6,366.4 L529.6,366.3 L530.6,366.4 L531.6,366.6 L532.6,366.9 L533.6,367.3 L534.6,367.8 L535.6,368.3 L536.6,369.0 L537.6,369.7 L538.6,370.6 L539.6,371.5 L540.6,372.4 L541.6,373.5 L542.6,374.6 L543.6,375.8 L544.6,377.1 L545.6,378.4 L546.6,379.8 L547.6,381.3 L548.6,382.8 L549.6,384.3 L550.6,385.9 L551.6,387.6 L552.6,389.3 L553.6,391.1 L554.6,392.9 L555.6,394.7 L556.6,396.6 L557.6,398.5 L558.6,400.5 L559.6,402.4 L560.6,404.4 L561.6,406.5 L562.6,408.5 L563.6,410.6 L564.6,412.7 L565.6,414.8 L566.6,416.9 L567.6,419.0 L568.6,421.2 L569.6,423.3 L570.6,425.4 L571.6,427.6 L572.6,429.7 L573.6,431.8 L574.6,434.0 L575.6,436.1 L576.6,438.2 L577.6,440.3 L578.6,442.4 L579.6,444.4 L580.6,446.4 L581.6,448.4 L582.6,450.4 L583.6,452.4 L584.6,454.3 L585.6,456.2 L586.6,458.0 L587.6,459.8 L588.6,461.6 L589.6,463.3 L590.6,465.0 L591.6,466.6 L592.6,468.2 L593.6,469.7 L594.6,471.2 L595.6,472.6 L596.6,473.9 L597.6,475.2 L598.6,476.4 L599.6,477.6 L600.6,478.6 L601.6,479.7 L602.6,480.6 L603.6,481.5 L604.6,482.3 L605.6,483.1 L606.6,483.9 L607.6,484.5 L608.6,485.2 L609.6,485.8 L610.6,486.3 L611.6,486.8 L612.6,487.3 L613.6,487.8 L614.6,488.2 L615.6,488.5 L616.6,488.9 L617.6,489.2 L618.6,489.5 L619.6,489.8 L620.6,490.0 L621.6,490.3 L622.6,490.5 L623.6,490.7 L624.6,490.8 L625.6,491.0 L626.6,491.1 L627.6,491.2 L628.6,491.3 L629.6,491.4 L630.6,491.4 L631.6,491.5 L632.6,491.5 L633.6,491.5 L634.6,491.6 L635.6,491.6 L636.6,491.5 L637.6,491.5 L638.6,491.5 L639.6,491.5 L640.6,491.4 L641.6,491.4 L642.6,491.3 L643.6,491.3 L644.6,491.2 L645.6,491.2 L646.6,491.1 L647.6,491.0 L648.6,491.0 L649.6,490.9 L650.6,490.9 L651.6,490.8 L652.6,490.8 L653.6,490.7 L654.6,490.7 L655.6,490.6 L656.6,490.6 L657.6,490.6 L658.6,490.6 L659.6,490.6 L660.6,490.6 L661.6,490.6 L662.6,490.7 L663.6,490.7 L664.6,490.8 L665.6,490.9 L666.6,491.0 L667.6,491.1 L668.6,491.2 L669.6,491.4 L670.6,491.5 L671.6,491.7 L672.6,491.9 L673.6,492.2 L674.6,492.4 L675.6,492.7 L676.6,492.9 L677.6,493.2 L678.6,493.5 L679.6,493.9 L680.6,494.2 L681.6,494.6 L682.6,495.0 L683.6,495.4 L684.6,495.8 L685.6,496.2 L686.6,496.6 L687.6,497.1 L688.6,497.6 L689.6,498.0 L690.6,498.5 L691.6,499.1 L692.6,499.6 L693.6,500.1 L694.6,500.7 L695.6,501.2 L696.6,501.8 L697.6,502.4 L698.6,503.0 L699.6,503.6 L700.6,504.2 L701.6,504.9 L702.6,505.5 L703.6,506.2 L704.6,506.8 L705.6,507.5 L706.6,508.2 L707.6,508.9 L708.6,509.6 L709.6,510.3 L710.6,511.1 L711.6,511.8 L712.6,512.5 L713.6,513.3 L714.6,514.0 L715.6,514.8 L716.6,515.6 L717.6,516.3 L718.6,517.1 L719.6,517.9 L720.6,518.7 L721.6,519.5 L722.6,520.3 L723.6,521.1 L724.6,522.0 L725.6,522.8 L726.6,523.6 L727.6,524.5 L728.6,525.3 L729.6,526.1 L730.6,527.0 L731.6,527.8 L732.6,528.7 L733.6,529.6 L734.6,530.4 L735.6,531.3 L736.6,532.2 L737.6,533.0 L738.6,533.9 L739.6,534.8 L740.6,535.7 L741.6,536.6 L742.6,537.4 L743.6,538.3 L744.6,539.2 L745.6,540.1 L746.6,541.0 L747.6,541.9 L748.6,542.8 L749.6,543.7 L750.6,544.6 L751.6,545.5 L752.6,546.3 L753.6,547.2 L754.6,548.1 L755.6,549.0 L756.6,549.9 L757.6,550.8 L758.6,551.7 L759.6,552.6 L760.6,553.5 L761.6,554.4 L762.6,555.2 L763.6,556.1 L764.6,557.0 L765.6,557.9 L766.6,558.7 L767.6,559.6 L768.6,560.5 L769.6,561.3 L770.6,562.2 L771.6,563.0 L772.6,563.9 L773.6,564.7 L774.6,565.5 L775.6,566.3 L776.6,567.1 L777.6,567.9 L778.6,568.7 L779.6,569.4 L780.6,570.1 L781.6,570.9 L782.6,571.5 L783.6,572.2 L784.6,572.9 L785.6,573.5 L786.6,574.1 L787.6,574.7 L788.6,575.3 L789.6,575.8 L790.6,576.3 L791.6,576.8 L792.6,577.2 L793.6,577.6 L794.6,578.0 L795.6,578.4 L796.6,578.7 L797.6,579.0 L798.6,579.2 L799.6,579.4 L800.6,579.6 L801.6,579.7 L802.6,579.8 L803.6,579.8 L804.6,579.8 L805.6,579.6 L806.6,579.3 L807.6,578.8 L808.6,578.2 L809.6,577.3 L810.6,576.3 L811.6,575.0 L812.6,573.4 L813.6,571.5 L814.6,569.4 L815.6,566.8 L816.6,564.0 L817.6,562.1 L817.7,562.1" fill="none" stroke="#3838b4" stroke-width="1.45" stroke-linejoin="round"/>
<path d="M94.6,857.7 L95.6,856.6 L96.6,855.6 L97.6,854.7 L98.6,853.8 L99.6,852.9 L100.6,852.1 L101.6,851.3 L102.6,850.6 L103.6,849.9 L104.6,849.3 L105.6,848.7 L106.6,848.1 L107.6,847.6 L108.6,847.0 L109.6,846.6 L110.6,846.1 L111.6,845.7 L112.6,845.4 L113.6,845.0 L114.6,844.7 L115.6,844.4 L116.6,844.2 L117.6,843.9 L118.6,843.7 L119.6,843.6 L120.6,843.4 L121.6,843.3 L122.6,843.2 L123.6,843.1 L124.6,843.0 L125.6,842.9 L126.6,842.9 L127.6,842.9 L128.6,842.9 L129.6,842.9 L130.6,842.9 L131.6,843.0 L132.6,843.0 L133.6,843.1 L134.6,843.2 L135.6,843.3 L136.6,843.3 L137.6,843.5 L138.6,843.6 L139.6,843.7 L140.6,843.8 L141.6,843.9 L142.6,844.0 L143.6,844.2 L144.6,844.3 L145.6,844.4 L146.6,844.6 L147.6,844.7 L148.6,844.8 L149.6,844.9 L150.6,845.0 L151.6,845.1 L152.6,845.2 L153.6,845.3 L154.6,845.4 L155.6,845.5 L156.6,845.6 L157.6,845.6 L158.6,845.7 L159.6,845.7 L160.6,845.7 L161.6,845.7 L162.6,845.7 L163.6,845.6 L164.6,845.6 L165.6,845.5 L166.6,845.4 L167.6,845.3 L168.6,845.2 L169.6,845.1 L170.6,845.0 L171.6,844.8 L172.6,844.7 L173.6,844.6 L174.6,844.4 L175.6,844.3 L176.6,844.1 L177.6,844.0 L178.6,843.9 L179.6,843.7 L180.6,843.6 L181.6,843.5 L182.6,843.5 L183.6,843.4 L184.6,843.3 L185.6,843.3 L186.6,843.3 L187.6,843.3 L188.6,843.4 L189.6,843.4 L190.6,843.5 L191.6,843.6 L192.6,843.8 L193.6,843.9 L194.6,844.1 L195.6,844.3 L196.6,844.5 L197.6,844.7 L198.6,844.8 L199.6,845.0 L200.6,845.1 L201.6,845.3 L202.6,845.4 L203.6,845.4 L204.6,845.5 L205.6,845.5 L206.6,845.5 L207.6,845.5 L208.6,845.5 L209.6,845.5 L210.6,845.4 L211.6,845.3 L212.6,845.2 L213.6,845.1 L214.6,844.9 L215.6,844.8 L216.6,844.6 L217.6,844.4 L218.6,844.2 L219.6,843.9 L220.6,843.7 L221.6,843.4 L222.6,843.1 L223.6,842.8 L224.6,842.5 L225.6,842.1 L226.6,841.8 L227.6,841.4 L228.6,841.1 L229.6,840.8 L230.6,840.5 L231.6,840.2 L232.6,840.0 L233.6,839.8 L234.6,839.7 L235.6,839.6 L236.6,839.6 L237.6,839.6 L238.6,839.7 L239.6,839.8 L240.6,840.0 L241.6,840.2 L242.6,840.5 L243.6,840.7 L244.6,841.0 L245.6,841.4 L246.6,841.7 L247.6,842.1 L248.6,842.5 L249.6,842.9 L250.6,843.3 L251.6,843.7 L252.6,844.1 L253.6,844.4 L254.6,844.8 L255.6,845.1 L256.6,845.5 L257.6,845.8 L258.6,846.0 L259.6,846.3 L260.6,846.5 L261.6,846.6 L262.6,846.7 L263.6,846.8 L264.6,846.8 L265.6,846.7 L266.6,846.6 L267.6,846.4 L268.6,846.2 L269.6,845.9 L270.6,845.5 L271.6,845.0 L272.6,844.6 L273.6,844.0 L274.6,843.4 L275.6,842.8 L276.6,842.1 L277.6,841.3 L278.6,840.5 L279.6,839.7 L280.6,838.8 L281.6,837.9 L282.6,837.0 L283.6,836.0 L284.6,835.0 L285.6,834.0 L286.6,832.9 L287.6,831.8 L288.6,830.7 L289.6,829.6 L290.6,828.4 L291.6,827.3 L292.6,826.1 L293.6,824.9 L294.6,823.7 L295.6,822.5 L296.6,821.3 L297.6,820.0 L298.6,818.8 L299.6,817.5 L300.6,816.2 L301.6,814.9 L302.6,813.6 L303.6,812.3 L304.6,811.0 L305.6,809.7 L306.6,808.3 L307.6,807.0 L308.6,805.6 L309.6,804.2 L310.6,802.9 L311.6,801.5 L312.6,800.1 L313.6,798.7 L314.6,797.3 L315.6,795.8 L316.6,794.4 L317.6,792.9 L318.6,791.4 L319.6,789.8 L320.6,788.2 L321.6,786.6 L322.6,784.9 L323.6,783.2 L324.6,781.4 L325.6,779.6 L326.6,777.7 L327.6,775.9 L328.6,774.0 L329.6,772.1 L330.6,770.3 L331.6,768.5 L332.6,766.7 L333.6,765.0 L334.6,763.4 L335.6,761.9 L336.6,760.4 L337.6,759.1 L338.6,757.9 L339.6,756.9 L340.6,756.0 L341.6,755.2 L342.6,754.6 L343.6,754.2 L344.6,753.9 L345.6,753.7 L346.6,753.7 L347.6,753.7 L348.6,753.9 L349.6,754.2 L350.6,754.6 L351.6,755.1 L352.6,755.6 L353.6,756.3 L354.6,757.0 L355.6,757.8 L356.6,758.7 L357.6,759.6 L358.6,760.5 L359.6,761.5 L360.6,762.6 L361.6,763.6 L362.6,764.8 L363.6,765.9 L364.6,767.0 L365.6,768.2 L366.6,769.4 L367.6,770.6 L368.6,771.9 L369.6,773.1 L370.6,774.3 L371.6,775.5 L372.6,776.8 L373.6,778.0 L374.6,779.2 L375.6,780.4 L376.6,781.6 L377.6,782.7 L378.6,783.8 L379.6,784.9 L380.6,786.0 L381.6,787.0 L382.6,788.0 L383.6,789.0 L384.6,789.9 L385.6,790.7 L386.6,791.5 L387.6,792.3 L388.6,793.0 L389.6,793.7 L390.6,794.3 L391.6,794.9 L392.6,795.4 L393.6,795.9 L394.6,796.3 L395.6,796.7 L396.6,797.0 L397.6,797.3 L398.6,797.5 L399.6,797.7 L400.6,797.8 L401.6,797.9 L402.6,797.9 L403.6,797.8 L404.6,797.7 L405.6,797.6 L406.6,797.4 L407.6,797.1 L408.6,796.8 L409.6,796.4 L410.6,796.0 L411.6,795.5 L412.6,795.0 L413.6,794.4 L414.6,793.7 L415.6,793.0 L416.6,792.2 L417.6,791.3 L418.6,790.4 L419.6,789.4 L420.6,788.4 L421.6,787.3 L422.6,786.2 L423.6,784.9 L424.6,783.7 L425.6,782.3 L426.6,780.9 L427.6,779.4 L428.6,777.9 L429.6,776.4 L430.6,774.8 L431.6,773.3 L432.6,771.7 L433.6,770.1 L434.6,768.5 L435.6,766.8 L436.6,765.3 L437.6,763.7 L438.6,762.1 L439.6,760.6 L440.6,759.1 L441.6,757.7 L442.6,756.3 L443.6,754.9 L444.6,753.6 L445.6,752.3 L446.6,751.0 L447.6,749.8 L448.6,748.5 L449.6,747.3 L450.6,746.1 L451.6,745.0 L452.6,743.8 L453.6,742.6 L454.6,741.5 L455.6,740.3 L456.6,739.2 L457.6,738.0 L458.6,736.8 L459.6,735.7 L460.6,734.5 L461.6,733.3 L462.6,732.1 L463.6,730.9 L464.6,729.6 L465.6,728.3 L466.6,727.0 L467.6,725.7 L468.6,724.4 L469.6,723.0 L470.6,721.5 L471.6,720.1 L472.6,718.6 L473.6,717.1 L474.6,715.6 L475.6,714.1 L476.6,712.5 L477.6,710.9 L478.6,709.3 L479.6,707.7 L480.6,706.1 L481.6,704.5 L482.6,702.8 L483.6,701.2 L484.6,699.5 L485.6,697.8 L486.6,696.2 L487.6,694.5 L488.6,692.8 L489.6,691.2 L490.6,689.5 L491.6,687.8 L492.6,686.2 L493.6,684.6 L494.6,682.9 L495.6,681.3 L496.6,679.7 L497.6,678.1 L498.6,676.5 L499.6,675.0 L500.6,673.4 L501.6,671.9 L502.6,670.4 L503.6,668.9 L504.6,667.4 L505.6,666.0 L506.6,664.6 L507.6,663.2 L508.6,661.8 L509.6,660.5 L510.6,659.2 L511.6,657.9 L512.6,656.7 L513.6,655.4 L514.6,654.3 L515.6,653.1 L516.6,652.0 L517.6,650.9 L518.6,649.9 L519.6,648.9 L520.6,647.9 L521.6,647.0 L522.6,646.1 L523.6,645.2 L524.6,644.4 L525.6,643.7 L526.6,643.0 L527.6,642.3 L528.6,641.7 L529.6,641.2 L530.6,640.7 L531.6,640.2 L532.6,639.8 L533.6,639.5 L534.6,639.2 L535.6,639.0 L536.6,638.8 L537.6,638.7 L538.6,638.7 L539.6,638.7 L540.6,638.8 L541.6,639.0 L542.6,639.2 L543.6,639.5 L544.6,639.8 L545.6,640.3 L546.6,640.8 L547.6,641.4 L548.6,642.0 L549.6,642.8 L550.6,643.6 L551.6,644.5 L552.6,645.4 L553.6,646.5 L554.6,647.6 L555.6,648.8 L556.6,650.0 L557.6,651.3 L558.6,652.7 L559.6,654.1 L560.6,655.5 L561.6,657.0 L562.6,658.5 L563.6,660.1 L564.6,661.6 L565.6,663.2 L566.6,664.8 L567.6,666.4 L568.6,668.1 L569.6,669.7 L570.6,671.3 L571.6,672.9 L572.6,674.5 L573.6,676.1 L574.6,677.6 L575.6,679.2 L576.6,680.7 L577.6,682.2 L578.6,683.6 L579.6,685.1 L580.6,686.5 L581.6,687.8 L582.6,689.2 L583.6,690.5 L584.6,691.8 L585.6,693.1 L586.6,694.3 L587.6,695.5 L588.6,696.7 L589.6,697.8 L590.6,698.9 L591.6,700.0 L592.6,701.0 L593.6,702.1 L594.6,703.0 L595.6,704.0 L596.6,704.9 L597.6,705.8 L598.6,706.6 L599.6,707.4 L600.6,708.2 L601.6,708.9 L602.6,709.6 L603.6,710.3 L604.6,710.9 L605.6,711.5 L606.6,712.1 L607.6,712.6 L608.6,713.0 L609.6,713.5 L610.6,713.9 L611.6,714.2 L612.6,714.5 L613.6,714.8 L614.6,715.0 L615.6,715.2 L616.6,715.3 L617.6,715.4 L618.6,715.5 L619.6,715.5 L620.6,715.4 L621.6,715.4 L622.6,715.2 L623.6,715.0 L624.6,714.8 L625.6,714.5 L626.6,714.2 L627.6,713.9 L628.6,713.4 L629.6,713.0 L630.6,712.5 L631.6,711.9 L632.6,711.3 L633.6,710.6 L634.6,709.9 L635.6,709.1 L636.6,708.3 L637.6,707.4 L638.6,706.5 L639.6,705.6 L640.6,704.6 L641.6,703.6 L642.6,702.5 L643.6,701.4 L644.6,700.3 L645.6,699.2 L646.6,698.0 L647.6,696.9 L648.6,695.7 L649.6,694.5 L650.6,693.3 L651.6,692.1 L652.6,690.9 L653.6,689.7 L654.6,688.6 L655.6,687.4 L656.6,686.2 L657.6,685.1 L658.6,684.0 L659.6,682.9 L660.6,681.9 L661.6,680.8 L662.6,679.8 L663.6,678.9 L664.6,678.0 L665.6,677.1 L666.6,676.3 L667.6,675.5 L668.6,674.7 L669.6,674.0 L670.6,673.3 L671.6,672.6 L672.6,672.0 L673.6,671.4 L674.6,670.9 L675.6,670.4 L676.6,670.0 L677.6,669.5 L678.6,669.2 L679.6,668.8 L680.6,668.5 L681.6,668.3 L682.6,668.1 L683.6,667.9 L684.6,667.8 L685.6,667.7 L686.6,667.6 L687.6,667.6 L688.6,667.7 L689.6,667.7 L690.6,667.9 L691.6,668.0 L692.6,668.2 L693.6,668.5 L694.6,668.8 L695.6,669.1 L696.6,669.5 L697.6,669.9 L698.6,670.3 L699.6,670.8 L700.6,671.3 L701.6,671.8 L702.6,672.4 L703.6,673.0 L704.6,673.6 L705.6,674.2 L706.6,674.8 L707.6,675.5 L708.6,676.2 L709.6,676.9 L710.6,677.6 L711.6,678.3 L712.6,679.0 L713.6,679.7 L714.6,680.4 L715.6,681.1 L716.6,681.9 L717.6,682.6 L718.6,683.3 L719.6,684.0 L720.6,684.7 L721.6,685.5 L722.6,686.2 L723.6,686.9 L724.6,687.6 L725.6,688.3 L726.6,689.0 L727.6,689.8 L728.6,690.5 L729.6,691.2 L730.6,691.8 L731.6,692.5 L732.6,693.2 L733.6,693.9 L734.6,694.6 L735.6,695.2 L736.6,695.9 L737.6,696.5 L738.6,697.1 L739.6,697.8 L740.6,698.4 L741.6,699.0 L742.6,699.6 L743.6,700.2 L744.6,700.7 L745.6,701.3 L746.6,701.8 L747.6,702.4 L748.6,702.9 L749.6,703.4 L750.6,703.9 L751.6,704.4 L752.6,704.8 L753.6,705.3 L754.6,705.7 L755.6,706.1 L756.6,706.5 L757.6,706.9 L758.6,707.2 L759.6,707.5 L760.6,707.9 L761.6,708.2 L762.6,708.4 L763.6,708.7 L764.6,708.9 L765.6,709.1 L766.6,709.3 L767.6,709.5 L768.6,709.6 L769.6,709.7 L770.6,709.8 L771.6,709.9 L772.6,709.9 L773.6,710.0 L774.6,710.0 L775.6,709.9 L776.6,709.9 L777.6,709.8 L778.6,709.7 L779.6,709.5 L780.6,709.3 L781.6,709.1 L782.6,708.9 L783.6,708.6 L784.6,708.3 L785.6,708.0 L786.6,707.6 L787.6,707.2 L788.6,706.8 L789.6,706.4 L790.6,705.9 L791.6,705.5 L792.6,705.0 L793.6,704.5 L794.6,704.1 L795.6,703.6 L796.6,703.2 L797.6,702.8 L798.6,702.4 L799.6,702.1 L800.6,701.8 L801.6,701.5 L802.6,701.3 L803.6,701.2 L804.6,701.1 L805.6,701.1 L806.6,701.2 L807.6,701.4 L808.6,701.6 L809.6,701.9 L810.6,702.4 L811.6,702.9 L812.6,703.6 L813.6,704.3 L814.6,705.2 L815.6,706.2 L816.6,707.4 L817.6,707.4 L817.7,707.4" fill="none" stroke="#c84a58" stroke-width="1.45" stroke-linejoin="round"/>

<line x1="532.8" y1="377" x2="532.8" y2="636" stroke="#1e1414" stroke-width="2.4" stroke-dasharray="12.5 6.5"/>
<g stroke="#9a9a9a" stroke-width="1.6" fill="none">
<path d="M94.6,180.5 V1052.2 H817.7"/>
<path d="M94.6,180.5 h8 M94.6,398.4 h8 M94.6,616.3 h8 M94.6,834.2 h8"/>
<path d="M214.7,1052.2 v-8 M335.2,1052.2 v-8 M455.7,1052.2 v-8 M576.2,1052.2 v-8 M696.7,1052.2 v-8 M817.2,1052.2 v-8"/>
</g>
<g class="tk" font-size="20.6" text-anchor="end">
<text x="87.9" y="188.3">15</text>
<text x="87.9" y="406.2">10</text>
<text x="87.9" y="624.1">5</text>
<text x="87.9" y="842">0</text>
<text x="87.9" y="1059.4">-5</text>
</g>
<g class="tk" font-size="20" text-anchor="middle">
<text x="94" y="1077">-200</text>
<text x="214.7" y="1077">0</text>
<text x="335.2" y="1077">200</text>
<text x="455.7" y="1077">400</text>
<text x="576.2" y="1077">600</text>
<text x="696.7" y="1077">800</text>
<text x="817.2" y="1077">1000</text>
</g>
<text class="lab" transform="translate(455.7,1124) scale(1,1.03)" font-size="44.3" text-anchor="middle">Time (ms)</text>
<text class="lab" transform="translate(51.6,615.9) rotate(-90) scale(1,1.03)" font-size="44.1" text-anchor="middle">Pitch Corrective Magnitude (cents)</text>
<line x1="214.8" y1="398.5" x2="456" y2="398.5" stroke="#3a3a3a" stroke-width="1.2" marker-start="url(#ah)" marker-end="url(#ah)"/>
<text x="342" y="386.6" font-size="26.8" font-weight="bold" fill="#404040" text-anchor="middle">Perturbation</text>
<text x="555.6" y="544" font-size="30" font-weight="bold" fill="#000" text-anchor="middle">*</text>
<text x="547.3" y="866.5" font-size="30" font-weight="bold" fill="#000" text-anchor="middle">*</text>
<text class="leg" x="572" y="868.7" font-size="34">p</text><text class="leg" x="601.5" y="868.7" font-size="34">&lt;</text><text class="leg" x="630.5" y="868.7" font-size="34">0.05</text>
<line x1="527" y1="935.2" x2="566.3" y2="935.2" stroke="#6c6cc8" stroke-width="1.8"/>
<line x1="527" y1="989.5" x2="566.3" y2="989.5" stroke="#c87080" stroke-width="1.8"/>
<text class="leg" x="569.7" y="946.8" font-size="31.2">Baseline</text>
<text class="leg" x="570.5" y="981.7" font-size="31.2">After Active</text>
<text class="leg" x="570" y="1017.4" font-size="31.2">rTMS to mPFC</text>

<!-- RIGHT PLOT -->
<rect x="1136.8" y="235.5" width="226.9" height="822.7" fill="#e9e9e9"/>
<clipPath id="clipBR"><path d="M1023.4,835.0 L1024.4,837.9 L1025.4,840.4 L1026.4,842.6 L1027.4,844.5 L1028.4,846.1 L1029.4,847.5 L1030.4,848.6 L1031.4,849.5 L1032.4,850.1 L1033.4,850.6 L1034.4,850.9 L1035.4,851.0 L1036.4,851.0 L1037.4,850.8 L1038.4,850.5 L1039.4,850.1 L1040.4,849.7 L1041.4,849.2 L1042.4,848.6 L1043.4,848.1 L1044.4,847.5 L1045.4,846.9 L1046.4,846.3 L1047.4,845.8 L1048.4,845.3 L1049.4,844.9 L1050.4,844.6 L1051.4,844.3 L1052.4,844.0 L1053.4,843.8 L1054.4,843.6 L1055.4,843.5 L1056.4,843.4 L1057.4,843.3 L1058.4,843.3 L1059.4,843.4 L1060.4,843.4 L1061.4,843.5 L1062.4,843.7 L1063.4,843.8 L1064.4,844.0 L1065.4,844.2 L1066.4,844.5 L1067.4,844.7 L1068.4,845.0 L1069.4,845.4 L1070.4,845.7 L1071.4,846.1 L1072.4,846.6 L1073.4,847.1 L1074.4,847.6 L1075.4,848.2 L1076.4,848.8 L1077.4,849.5 L1078.4,850.2 L1079.4,851.0 L1080.4,851.8 L1081.4,852.7 L1082.4,853.7 L1083.4,854.7 L1084.4,855.7 L1085.4,856.8 L1086.4,857.9 L1087.4,859.1 L1088.4,860.3 L1089.4,861.5 L1090.4,862.8 L1091.4,864.0 L1092.4,865.3 L1093.4,866.7 L1094.4,868.0 L1095.4,869.3 L1096.4,870.7 L1097.4,872.1 L1098.4,873.5 L1099.4,874.8 L1100.4,876.2 L1101.4,877.6 L1102.4,879.0 L1103.4,880.3 L1104.4,881.7 L1105.4,883.0 L1106.4,884.3 L1107.4,885.6 L1108.4,886.9 L1109.4,888.2 L1110.4,889.4 L1111.4,890.6 L1112.4,891.7 L1113.4,892.9 L1114.4,894.0 L1115.4,895.0 L1116.4,896.0 L1117.4,896.9 L1118.4,897.8 L1119.4,898.7 L1120.4,899.5 L1121.4,900.2 L1122.4,900.9 L1123.4,901.5 L1124.4,902.1 L1125.4,902.6 L1126.4,903.1 L1127.4,903.5 L1128.4,903.9 L1129.4,904.2 L1130.4,904.5 L1131.4,904.7 L1132.4,904.9 L1133.4,905.0 L1134.4,905.1 L1135.4,905.2 L1136.4,905.2 L1137.4,905.2 L1138.4,905.2 L1139.4,905.1 L1140.4,905.0 L1141.4,904.8 L1142.4,904.6 L1143.4,904.4 L1144.4,904.1 L1145.4,903.8 L1146.4,903.5 L1147.4,903.2 L1148.4,902.8 L1149.4,902.4 L1150.4,902.0 L1151.4,901.5 L1152.4,901.1 L1153.4,900.6 L1154.4,900.1 L1155.4,899.5 L1156.4,899.0 L1157.4,898.4 L1158.4,897.8 L1159.4,897.2 L1160.4,896.6 L1161.4,896.0 L1162.4,895.3 L1163.4,894.6 L1164.4,894.0 L1165.4,893.3 L1166.4,892.6 L1167.4,891.8 L1168.4,891.1 L1169.4,890.3 L1170.4,889.6 L1171.4,888.8 L1172.4,888.0 L1173.4,887.2 L1174.4,886.3 L1175.4,885.5 L1176.4,884.6 L1177.4,883.7 L1178.4,882.9 L1179.4,881.9 L1180.4,881.0 L1181.4,880.1 L1182.4,879.1 L1183.4,878.2 L1184.4,877.2 L1185.4,876.2 L1186.4,875.2 L1187.4,874.1 L1188.4,873.1 L1189.4,872.0 L1190.4,870.9 L1191.4,869.8 L1192.4,868.6 L1193.4,867.5 L1194.4,866.3 L1195.4,865.0 L1196.4,863.7 L1197.4,862.4 L1198.4,861.1 L1199.4,859.7 L1200.4,858.2 L1201.4,856.7 L1202.4,855.2 L1203.4,853.6 L1204.4,852.0 L1205.4,850.3 L1206.4,848.5 L1207.4,846.7 L1208.4,844.9 L1209.4,843.0 L1210.4,841.0 L1211.4,838.9 L1212.4,836.8 L1213.4,834.7 L1214.4,832.4 L1215.4,830.1 L1216.4,827.7 L1217.4,825.2 L1218.4,822.7 L1219.4,820.0 L1220.4,817.3 L1221.4,814.5 L1222.4,811.6 L1223.4,808.6 L1224.4,805.6 L1225.4,802.4 L1226.4,799.2 L1227.4,795.8 L1228.4,792.4 L1229.4,788.8 L1230.4,785.2 L1231.4,781.4 L1232.4,777.6 L1233.4,773.7 L1234.4,769.6 L1235.4,765.5 L1236.4,761.3 L1237.4,757.0 L1238.4,752.7 L1239.4,748.2 L1240.4,743.7 L1241.4,739.1 L1242.4,734.4 L1243.4,729.6 L1244.4,724.8 L1245.4,719.9 L1246.4,715.0 L1247.4,710.0 L1248.4,704.9 L1249.4,699.7 L1250.4,694.5 L1251.4,689.3 L1252.4,684.0 L1253.4,678.6 L1254.4,673.2 L1255.4,667.8 L1256.4,662.3 L1257.4,656.8 L1258.4,651.3 L1259.4,645.8 L1260.4,640.2 L1261.4,634.7 L1262.4,629.1 L1263.4,623.6 L1264.4,618.1 L1265.4,612.6 L1266.4,607.1 L1267.4,601.7 L1268.4,596.3 L1269.4,591.0 L1270.4,585.7 L1271.4,580.5 L1272.4,575.4 L1273.4,570.4 L1274.4,565.4 L1275.4,560.5 L1276.4,555.8 L1277.4,551.1 L1278.4,546.5 L1279.4,542.1 L1280.4,537.8 L1281.4,533.6 L1282.4,529.5 L1283.4,525.6 L1284.4,521.8 L1285.4,518.1 L1286.4,514.5 L1287.4,511.0 L1288.4,507.6 L1289.4,504.3 L1290.4,501.1 L1291.4,497.9 L1292.4,494.9 L1293.4,491.9 L1294.4,489.0 L1295.4,486.2 L1296.4,483.4 L1297.4,480.7 L1298.4,478.0 L1299.4,475.4 L1300.4,472.8 L1301.4,470.3 L1302.4,467.8 L1303.4,465.3 L1304.4,462.8 L1305.4,460.4 L1306.4,458.0 L1307.4,455.6 L1308.4,453.2 L1309.4,450.8 L1310.4,448.5 L1311.4,446.2 L1312.4,443.9 L1313.4,441.7 L1314.4,439.4 L1315.4,437.2 L1316.4,435.1 L1317.4,432.9 L1318.4,430.8 L1319.4,428.7 L1320.4,426.7 L1321.4,424.6 L1322.4,422.7 L1323.4,420.7 L1324.4,418.8 L1325.4,416.9 L1326.4,415.0 L1327.4,413.2 L1328.4,411.4 L1329.4,409.6 L1330.4,407.9 L1331.4,406.3 L1332.4,404.6 L1333.4,403.0 L1334.4,401.5 L1335.4,399.9 L1336.4,398.5 L1337.4,397.0 L1338.4,395.6 L1339.4,394.3 L1340.4,393.0 L1341.4,391.7 L1342.4,390.5 L1343.4,389.3 L1344.4,388.2 L1345.4,387.1 L1346.4,386.0 L1347.4,385.0 L1348.4,384.1 L1349.4,383.2 L1350.4,382.3 L1351.4,381.4 L1352.4,380.6 L1353.4,379.8 L1354.4,379.1 L1355.4,378.3 L1356.4,377.6 L1357.4,376.9 L1358.4,376.3 L1359.4,375.6 L1360.4,375.0 L1361.4,374.4 L1362.4,373.8 L1363.4,373.2 L1364.4,372.6 L1365.4,372.0 L1366.4,371.4 L1367.4,370.9 L1368.4,370.3 L1369.4,369.7 L1370.4,369.1 L1371.4,368.5 L1372.4,367.9 L1373.4,367.3 L1374.4,366.7 L1375.4,366.1 L1376.4,365.4 L1377.4,364.8 L1378.4,364.1 L1379.4,363.4 L1380.4,362.7 L1381.4,361.9 L1382.4,361.2 L1383.4,360.4 L1384.4,359.5 L1385.4,358.7 L1386.4,357.9 L1387.4,357.0 L1388.4,356.2 L1389.4,355.3 L1390.4,354.4 L1391.4,353.5 L1392.4,352.6 L1393.4,351.7 L1394.4,350.8 L1395.4,349.9 L1396.4,349.0 L1397.4,348.1 L1398.4,347.2 L1399.4,346.3 L1400.4,345.5 L1401.4,344.6 L1402.4,343.8 L1403.4,342.9 L1404.4,342.1 L1405.4,341.3 L1406.4,340.6 L1407.4,339.8 L1408.4,339.1 L1409.4,338.4 L1410.4,337.7 L1411.4,337.1 L1412.4,336.4 L1413.4,335.8 L1414.4,335.3 L1415.4,334.7 L1416.4,334.2 L1417.4,333.8 L1418.4,333.3 L1419.4,332.9 L1420.4,332.5 L1421.4,332.2 L1422.4,331.8 L1423.4,331.5 L1424.4,331.3 L1425.4,331.0 L1426.4,330.8 L1427.4,330.7 L1428.4,330.5 L1429.4,330.4 L1430.4,330.3 L1431.4,330.3 L1432.4,330.3 L1433.4,330.3 L1434.4,330.4 L1435.4,330.4 L1436.4,330.6 L1437.4,330.7 L1438.4,330.9 L1439.4,331.1 L1440.4,331.4 L1441.4,331.7 L1442.4,332.0 L1443.4,332.3 L1444.4,332.7 L1445.4,333.1 L1446.4,333.6 L1447.4,334.1 L1448.4,334.6 L1449.4,335.2 L1450.4,335.8 L1451.4,336.4 L1452.4,337.1 L1453.4,337.8 L1454.4,338.5 L1455.4,339.3 L1456.4,340.1 L1457.4,341.0 L1458.4,341.9 L1459.4,342.8 L1460.4,343.8 L1461.4,344.8 L1462.4,345.8 L1463.4,346.9 L1464.4,348.0 L1465.4,349.1 L1466.4,350.3 L1467.4,351.5 L1468.4,352.7 L1469.4,353.9 L1470.4,355.2 L1471.4,356.5 L1472.4,357.9 L1473.4,359.2 L1474.4,360.6 L1475.4,362.0 L1476.4,363.4 L1477.4,364.9 L1478.4,366.4 L1479.4,367.9 L1480.4,369.4 L1481.4,370.9 L1482.4,372.5 L1483.4,374.0 L1484.4,375.6 L1485.4,377.2 L1486.4,378.9 L1487.4,380.5 L1488.4,382.2 L1489.4,383.8 L1490.4,385.5 L1491.4,387.2 L1492.4,388.9 L1493.4,390.6 L1494.4,392.4 L1495.4,394.1 L1496.4,395.8 L1497.4,397.6 L1498.4,399.3 L1499.4,401.1 L1500.4,402.9 L1501.4,404.7 L1502.4,406.5 L1503.4,408.3 L1504.4,410.1 L1505.4,411.9 L1506.4,413.7 L1507.4,415.5 L1508.4,417.3 L1509.4,419.2 L1510.4,421.0 L1511.4,422.8 L1512.4,424.7 L1513.4,426.5 L1514.4,428.4 L1515.4,430.2 L1516.4,432.0 L1517.4,433.9 L1518.4,435.7 L1519.4,437.6 L1520.4,439.4 L1521.4,441.3 L1522.4,443.1 L1523.4,445.0 L1524.4,446.8 L1525.4,448.6 L1526.4,450.5 L1527.4,452.3 L1528.4,454.1 L1529.4,455.9 L1530.4,457.8 L1531.4,459.6 L1532.4,461.4 L1533.4,463.2 L1534.4,465.0 L1535.4,466.8 L1536.4,468.6 L1537.4,470.3 L1538.4,472.1 L1539.4,473.9 L1540.4,475.6 L1541.4,477.3 L1542.4,479.1 L1543.4,480.8 L1544.4,482.5 L1545.4,484.2 L1546.4,485.9 L1547.4,487.6 L1548.4,489.2 L1549.4,490.9 L1550.4,492.5 L1551.4,494.2 L1552.4,495.8 L1553.4,497.4 L1554.4,499.0 L1555.4,500.6 L1556.4,502.1 L1557.4,503.7 L1558.4,505.2 L1559.4,506.7 L1560.4,508.2 L1561.4,509.7 L1562.4,511.2 L1563.4,512.6 L1564.4,514.1 L1565.4,515.5 L1566.4,516.9 L1567.4,518.3 L1568.4,519.7 L1569.4,521.0 L1570.4,522.4 L1571.4,523.7 L1572.4,525.0 L1573.4,526.3 L1574.4,527.5 L1575.4,528.8 L1576.4,530.0 L1577.4,531.2 L1578.4,532.4 L1579.4,533.5 L1580.4,534.7 L1581.4,535.8 L1582.4,536.9 L1583.4,537.9 L1584.4,539.0 L1585.4,540.0 L1586.4,541.0 L1587.4,542.0 L1588.4,543.0 L1589.4,543.9 L1590.4,544.8 L1591.4,545.7 L1592.4,546.6 L1593.4,547.4 L1594.4,548.2 L1595.4,549.1 L1596.4,549.9 L1597.4,550.7 L1598.4,551.5 L1599.4,552.4 L1600.4,553.2 L1601.4,554.1 L1602.4,554.9 L1603.4,555.8 L1604.4,556.7 L1605.4,557.7 L1606.4,558.6 L1607.4,559.6 L1608.4,560.7 L1609.4,561.8 L1610.4,562.9 L1611.4,564.0 L1612.4,565.2 L1613.4,566.4 L1614.4,567.7 L1615.4,568.9 L1616.4,570.2 L1617.4,571.5 L1618.4,572.8 L1619.4,574.1 L1620.4,575.4 L1621.4,576.6 L1622.4,577.9 L1623.4,579.2 L1624.4,580.5 L1625.4,581.7 L1626.4,583.0 L1627.4,584.2 L1628.4,585.4 L1629.4,586.6 L1630.4,587.7 L1631.4,588.8 L1632.4,589.9 L1633.4,591.0 L1634.4,592.0 L1635.4,593.0 L1636.4,594.0 L1637.4,594.9 L1638.4,595.9 L1639.4,596.8 L1640.4,597.6 L1641.4,598.4 L1642.4,599.2 L1643.4,600.0 L1644.4,600.8 L1645.4,601.5 L1646.4,602.1 L1647.4,602.8 L1648.4,603.4 L1649.4,603.9 L1650.4,604.5 L1651.4,605.0 L1652.4,605.4 L1653.4,605.8 L1654.4,606.2 L1655.4,606.6 L1656.4,606.9 L1657.4,607.1 L1658.4,607.4 L1659.4,607.5 L1660.4,607.7 L1661.4,607.8 L1662.4,607.9 L1663.4,607.9 L1664.4,607.8 L1665.4,607.8 L1666.4,607.7 L1667.4,607.5 L1668.4,607.4 L1669.4,607.1 L1670.4,606.9 L1671.4,606.6 L1672.4,606.3 L1673.4,605.9 L1674.4,605.6 L1675.4,605.2 L1676.4,604.7 L1677.4,604.3 L1678.4,603.8 L1679.4,603.3 L1680.4,602.8 L1681.4,602.3 L1682.4,601.7 L1683.4,601.1 L1684.4,600.6 L1685.4,600.0 L1686.4,599.4 L1687.4,598.8 L1688.4,598.1 L1689.4,597.5 L1690.4,596.9 L1691.4,596.2 L1692.4,595.6 L1693.4,594.9 L1694.4,594.3 L1695.4,593.6 L1696.4,593.0 L1697.4,592.4 L1698.4,591.7 L1699.4,591.1 L1700.4,590.5 L1701.4,589.9 L1702.4,589.3 L1703.4,588.7 L1703.5,588.6 L1703.5,704.8 L1703.4,704.7 L1702.4,704.4 L1701.4,704.1 L1700.4,703.9 L1699.4,703.7 L1698.4,703.6 L1697.4,703.5 L1696.4,703.6 L1695.4,703.6 L1694.4,703.7 L1693.4,703.9 L1692.4,704.1 L1691.4,704.3 L1690.4,704.6 L1689.4,704.9 L1688.4,705.2 L1687.4,705.6 L1686.4,706.0 L1685.4,706.4 L1684.4,706.8 L1683.4,707.3 L1682.4,707.8 L1681.4,708.2 L1680.4,708.7 L1679.4,709.2 L1678.4,709.7 L1677.4,710.2 L1676.4,710.7 L1675.4,711.2 L1674.4,711.7 L1673.4,712.2 L1672.4,712.7 L1671.4,713.1 L1670.4,713.5 L1669.4,713.9 L1668.4,714.3 L1667.4,714.7 L1666.4,715.0 L1665.4,715.3 L1664.4,715.5 L1663.4,715.8 L1662.4,715.9 L1661.4,716.1 L1660.4,716.1 L1659.4,716.2 L1658.4,716.2 L1657.4,716.1 L1656.4,716.0 L1655.4,715.9 L1654.4,715.7 L1653.4,715.5 L1652.4,715.3 L1651.4,715.0 L1650.4,714.7 L1649.4,714.3 L1648.4,713.9 L1647.4,713.5 L1646.4,713.0 L1645.4,712.5 L1644.4,711.9 L1643.4,711.4 L1642.4,710.8 L1641.4,710.1 L1640.4,709.5 L1639.4,708.8 L1638.4,708.1 L1637.4,707.3 L1636.4,706.5 L1635.4,705.7 L1634.4,704.9 L1633.4,704.0 L1632.4,703.2 L1631.4,702.3 L1630.4,701.3 L1629.4,700.4 L1628.4,699.4 L1627.4,698.4 L1626.4,697.4 L1625.4,696.4 L1624.4,695.4 L1623.4,694.3 L1622.4,693.2 L1621.4,692.1 L1620.4,691.0 L1619.4,689.9 L1618.4,688.8 L1617.4,687.6 L1616.4,686.4 L1615.4,685.3 L1614.4,684.1 L1613.4,682.9 L1612.4,681.7 L1611.4,680.5 L1610.4,679.3 L1609.4,678.1 L1608.4,676.8 L1607.4,675.6 L1606.4,674.4 L1605.4,673.1 L1604.4,671.9 L1603.4,670.6 L1602.4,669.4 L1601.4,668.1 L1600.4,666.9 L1599.4,665.6 L1598.4,664.4 L1597.4,663.1 L1596.4,661.9 L1595.4,660.7 L1594.4,659.4 L1593.4,658.2 L1592.4,657.0 L1591.4,655.8 L1590.4,654.6 L1589.4,653.4 L1588.4,652.2 L1587.4,651.0 L1586.4,649.8 L1585.4,648.6 L1584.4,647.5 L1583.4,646.3 L1582.4,645.2 L1581.4,644.0 L1580.4,642.9 L1579.4,641.8 L1578.4,640.6 L1577.4,639.5 L1576.4,638.4 L1575.4,637.3 L1574.4,636.2 L1573.4,635.2 L1572.4,634.1 L1571.4,633.0 L1570.4,632.0 L1569.4,630.9 L1568.4,629.9 L1567.4,628.9 L1566.4,627.9 L1565.4,626.8 L1564.4,625.8 L1563.4,624.8 L1562.4,623.9 L1561.4,622.9 L1560.4,621.9 L1559.4,621.0 L1558.4,620.0 L1557.4,619.1 L1556.4,618.2 L1555.4,617.2 L1554.4,616.3 L1553.4,615.4 L1552.4,614.5 L1551.4,613.7 L1550.4,612.8 L1549.4,611.9 L1548.4,611.1 L1547.4,610.2 L1546.4,609.4 L1545.4,608.6 L1544.4,607.8 L1543.4,607.0 L1542.4,606.2 L1541.4,605.4 L1540.4,604.6 L1539.4,603.9 L1538.4,603.1 L1537.4,602.4 L1536.4,601.7 L1535.4,601.0 L1534.4,600.2 L1533.4,599.5 L1532.4,598.8 L1531.4,598.1 L1530.4,597.4 L1529.4,596.6 L1528.4,595.9 L1527.4,595.2 L1526.4,594.4 L1525.4,593.6 L1524.4,592.8 L1523.4,592.0 L1522.4,591.1 L1521.4,590.3 L1520.4,589.4 L1519.4,588.4 L1518.4,587.5 L1517.4,586.5 L1516.4,585.5 L1515.4,584.4 L1514.4,583.3 L1513.4,582.1 L1512.4,580.9 L1511.4,579.7 L1510.4,578.4 L1509.4,577.0 L1508.4,575.6 L1507.4,574.1 L1506.4,572.6 L1505.4,571.0 L1504.4,569.4 L1503.4,567.7 L1502.4,565.9 L1501.4,564.2 L1500.4,562.4 L1499.4,560.6 L1498.4,558.8 L1497.4,557.0 L1496.4,555.2 L1495.4,553.4 L1494.4,551.6 L1493.4,549.8 L1492.4,548.1 L1491.4,546.4 L1490.4,544.8 L1489.4,543.2 L1488.4,541.7 L1487.4,540.2 L1486.4,538.9 L1485.4,537.6 L1484.4,536.3 L1483.4,535.2 L1482.4,534.2 L1481.4,533.3 L1480.4,532.5 L1479.4,531.8 L1478.4,531.1 L1477.4,530.5 L1476.4,529.8 L1475.4,529.2 L1474.4,528.5 L1473.4,527.8 L1472.4,527.0 L1471.4,526.1 L1470.4,525.1 L1469.4,523.9 L1468.4,522.6 L1467.4,521.3 L1466.4,519.8 L1465.4,518.3 L1464.4,516.8 L1463.4,515.3 L1462.4,513.8 L1461.4,512.4 L1460.4,511.1 L1459.4,509.9 L1458.4,508.7 L1457.4,507.7 L1456.4,506.8 L1455.4,506.0 L1454.4,505.3 L1453.4,504.7 L1452.4,504.2 L1451.4,503.7 L1450.4,503.3 L1449.4,503.0 L1448.4,502.7 L1447.4,502.5 L1446.4,502.4 L1445.4,502.3 L1444.4,502.2 L1443.4,502.2 L1442.4,502.2 L1441.4,502.3 L1440.4,502.4 L1439.4,502.5 L1438.4,502.6 L1437.4,502.8 L1436.4,503.0 L1435.4,503.2 L1434.4,503.4 L1433.4,503.7 L1432.4,504.0 L1431.4,504.3 L1430.4,504.7 L1429.4,505.0 L1428.4,505.4 L1427.4,505.8 L1426.4,506.3 L1425.4,506.7 L1424.4,507.2 L1423.4,507.7 L1422.4,508.2 L1421.4,508.8 L1420.4,509.3 L1419.4,509.9 L1418.4,510.5 L1417.4,511.1 L1416.4,511.8 L1415.4,512.4 L1414.4,513.1 L1413.4,513.8 L1412.4,514.5 L1411.4,515.2 L1410.4,516.0 L1409.4,516.7 L1408.4,517.5 L1407.4,518.3 L1406.4,519.1 L1405.4,519.9 L1404.4,520.7 L1403.4,521.5 L1402.4,522.4 L1401.4,523.2 L1400.4,524.1 L1399.4,525.0 L1398.4,525.9 L1397.4,526.8 L1396.4,527.7 L1395.4,528.6 L1394.4,529.6 L1393.4,530.5 L1392.4,531.5 L1391.4,532.4 L1390.4,533.4 L1389.4,534.4 L1388.4,535.4 L1387.4,536.4 L1386.4,537.3 L1385.4,538.3 L1384.4,539.3 L1383.4,540.3 L1382.4,541.3 L1381.4,542.4 L1380.4,543.4 L1379.4,544.4 L1378.4,545.4 L1377.4,546.4 L1376.4,547.4 L1375.4,548.4 L1374.4,549.4 L1373.4,550.4 L1372.4,551.4 L1371.4,552.4 L1370.4,553.3 L1369.4,554.3 L1368.4,555.3 L1367.4,556.2 L1366.4,557.2 L1365.4,558.1 L1364.4,559.0 L1363.4,559.9 L1362.4,560.8 L1361.4,561.7 L1360.4,562.6 L1359.4,563.5 L1358.4,564.3 L1357.4,565.2 L1356.4,566.0 L1355.4,566.8 L1354.4,567.6 L1353.4,568.4 L1352.4,569.1 L1351.4,569.8 L1350.4,570.5 L1349.4,571.2 L1348.4,571.9 L1347.4,572.6 L1346.4,573.2 L1345.4,573.8 L1344.4,574.4 L1343.4,574.9 L1342.4,575.5 L1341.4,576.0 L1340.4,576.5 L1339.4,576.9 L1338.4,577.4 L1337.4,577.9 L1336.4,578.4 L1335.4,578.8 L1334.4,579.3 L1333.4,579.8 L1332.4,580.3 L1331.4,580.9 L1330.4,581.4 L1329.4,582.0 L1328.4,582.6 L1327.4,583.3 L1326.4,584.0 L1325.4,584.8 L1324.4,585.6 L1323.4,586.4 L1322.4,587.3 L1321.4,588.3 L1320.4,589.4 L1319.4,590.5 L1318.4,591.6 L1317.4,592.8 L1316.4,594.1 L1315.4,595.4 L1314.4,596.8 L1313.4,598.3 L1312.4,599.7 L1311.4,601.3 L1310.4,602.8 L1309.4,604.4 L1308.4,606.1 L1307.4,607.7 L1306.4,609.5 L1305.4,611.2 L1304.4,613.0 L1303.4,614.8 L1302.4,616.6 L1301.4,618.5 L1300.4,620.3 L1299.4,622.2 L1298.4,624.1 L1297.4,626.1 L1296.4,628.1 L1295.4,630.1 L1294.4,632.1 L1293.4,634.2 L1292.4,636.4 L1291.4,638.6 L1290.4,640.8 L1289.4,643.2 L1288.4,645.6 L1287.4,648.0 L1286.4,650.6 L1285.4,653.2 L1284.4,656.0 L1283.4,658.8 L1282.4,661.7 L1281.4,664.6 L1280.4,667.7 L1279.4,670.8 L1278.4,673.9 L1277.4,677.2 L1276.4,680.5 L1275.4,683.8 L1274.4,687.2 L1273.4,690.6 L1272.4,694.1 L1271.4,697.6 L1270.4,701.2 L1269.4,704.8 L1268.4,708.4 L1267.4,712.0 L1266.4,715.7 L1265.4,719.4 L1264.4,723.1 L1263.4,726.8 L1262.4,730.5 L1261.4,734.2 L1260.4,738.0 L1259.4,741.7 L1258.4,745.4 L1257.4,749.2 L1256.4,752.9 L1255.4,756.6 L1254.4,760.3 L1253.4,764.0 L1252.4,767.7 L1251.4,771.3 L1250.4,775.0 L1249.4,778.6 L1248.4,782.3 L1247.4,785.9 L1246.4,789.5 L1245.4,793.1 L1244.4,796.6 L1243.4,800.2 L1242.4,803.7 L1241.4,807.3 L1240.4,810.8 L1239.4,814.2 L1238.4,817.7 L1237.4,821.2 L1236.4,824.6 L1235.4,828.0 L1234.4,831.4 L1233.4,834.7 L1232.4,838.1 L1231.4,841.4 L1230.4,844.7 L1229.4,848.0 L1228.4,851.2 L1227.4,854.4 L1226.4,857.6 L1225.4,860.8 L1224.4,863.8 L1223.4,866.9 L1222.4,869.7 L1221.4,872.5 L1220.4,875.1 L1219.4,877.5 L1218.4,879.8 L1217.4,881.8 L1216.4,883.7 L1215.4,885.4 L1214.4,887.0 L1213.4,888.5 L1212.4,889.9 L1211.4,891.2 L1210.4,892.5 L1209.4,893.7 L1208.4,894.9 L1207.4,896.1 L1206.4,897.3 L1205.4,898.5 L1204.4,899.7 L1203.4,900.9 L1202.4,902.0 L1201.4,903.1 L1200.4,904.1 L1199.4,905.1 L1198.4,906.1 L1197.4,907.0 L1196.4,907.9 L1195.4,908.8 L1194.4,909.7 L1193.4,910.5 L1192.4,911.2 L1191.4,912.0 L1190.4,912.7 L1189.4,913.4 L1188.4,914.0 L1187.4,914.7 L1186.4,915.3 L1185.4,915.8 L1184.4,916.4 L1183.4,916.9 L1182.4,917.4 L1181.4,917.8 L1180.4,918.3 L1179.4,918.7 L1178.4,919.1 L1177.4,919.4 L1176.4,919.8 L1175.4,920.1 L1174.4,920.4 L1173.4,920.7 L1172.4,920.9 L1171.4,921.2 L1170.4,921.4 L1169.4,921.6 L1168.4,921.8 L1167.4,922.0 L1166.4,922.1 L1165.4,922.2 L1164.4,922.4 L1163.4,922.5 L1162.4,922.6 L1161.4,922.6 L1160.4,922.7 L1159.4,922.7 L1158.4,922.8 L1157.4,922.8 L1156.4,922.8 L1155.4,922.8 L1154.4,922.8 L1153.4,922.8 L1152.4,922.8 L1151.4,922.8 L1150.4,922.7 L1149.4,922.7 L1148.4,922.6 L1147.4,922.6 L1146.4,922.5 L1145.4,922.5 L1144.4,922.4 L1143.4,922.3 L1142.4,922.2 L1141.4,922.2 L1140.4,922.1 L1139.4,922.0 L1138.4,921.9 L1137.4,921.8 L1136.4,921.8 L1135.4,921.7 L1134.4,921.6 L1133.4,921.6 L1132.4,921.5 L1131.4,921.4 L1130.4,921.4 L1129.4,921.3 L1128.4,921.3 L1127.4,921.2 L1126.4,921.2 L1125.4,921.1 L1124.4,921.1 L1123.4,921.1 L1122.4,921.0 L1121.4,921.0 L1120.4,921.0 L1119.4,921.0 L1118.4,921.0 L1117.4,921.0 L1116.4,921.0 L1115.4,921.0 L1114.4,921.0 L1113.4,921.0 L1112.4,921.0 L1111.4,921.0 L1110.4,921.0 L1109.4,921.1 L1108.4,921.1 L1107.4,921.1 L1106.4,921.2 L1105.4,921.2 L1104.4,921.2 L1103.4,921.3 L1102.4,921.3 L1101.4,921.3 L1100.4,921.4 L1099.4,921.4 L1098.4,921.5 L1097.4,921.5 L1096.4,921.6 L1095.4,921.6 L1094.4,921.7 L1093.4,921.7 L1092.4,921.8 L1091.4,921.8 L1090.4,921.9 L1089.4,922.0 L1088.4,922.0 L1087.4,922.1 L1086.4,922.2 L1085.4,922.2 L1084.4,922.3 L1083.4,922.3 L1082.4,922.4 L1081.4,922.5 L1080.4,922.5 L1079.4,922.6 L1078.4,922.7 L1077.4,922.7 L1076.4,922.8 L1075.4,922.9 L1074.4,922.9 L1073.4,923.0 L1072.4,923.1 L1071.4,923.1 L1070.4,923.2 L1069.4,923.3 L1068.4,923.3 L1067.4,923.4 L1066.4,923.4 L1065.4,923.5 L1064.4,923.5 L1063.4,923.6 L1062.4,923.7 L1061.4,923.7 L1060.4,923.8 L1059.4,923.8 L1058.4,923.9 L1057.4,924.0 L1056.4,924.1 L1055.4,924.2 L1054.4,924.4 L1053.4,924.6 L1052.4,924.8 L1051.4,925.1 L1050.4,925.4 L1049.4,925.7 L1048.4,926.1 L1047.4,926.6 L1046.4,927.1 L1045.4,927.6 L1044.4,928.3 L1043.4,929.0 L1042.4,929.8 L1041.4,930.6 L1040.4,931.5 L1039.4,932.5 L1038.4,933.5 L1037.4,934.5 L1036.4,935.5 L1035.4,936.5 L1034.4,937.4 L1033.4,938.3 L1032.4,939.1 L1031.4,939.8 L1030.4,940.4 L1029.4,940.9 L1028.4,941.2 L1027.4,941.4 L1026.4,941.4 L1025.4,941.2 L1024.4,940.7 L1023.4,940.1 Z"/></clipPath>
<path d="M1023.4,835.0 L1024.4,837.9 L1025.4,840.4 L1026.4,842.6 L1027.4,844.5 L1028.4,846.1 L1029.4,847.5 L1030.4,848.6 L1031.4,849.5 L1032.4,850.1 L1033.4,850.6 L1034.4,850.9 L1035.4,851.0 L1036.4,851.0 L1037.4,850.8 L1038.4,850.5 L1039.4,850.1 L1040.4,849.7 L1041.4,849.2 L1042.4,848.6 L1043.4,848.1 L1044.4,847.5 L1045.4,846.9 L1046.4,846.3 L1047.4,845.8 L1048.4,845.3 L1049.4,844.9 L1050.4,844.6 L1051.4,844.3 L1052.4,844.0 L1053.4,843.8 L1054.4,843.6 L1055.4,843.5 L1056.4,843.4 L1057.4,843.3 L1058.4,843.3 L1059.4,843.4 L1060.4,843.4 L1061.4,843.5 L1062.4,843.7 L1063.4,843.8 L1064.4,844.0 L1065.4,844.2 L1066.4,844.5 L1067.4,844.7 L1068.4,845.0 L1069.4,845.4 L1070.4,845.7 L1071.4,846.1 L1072.4,846.6 L1073.4,847.1 L1074.4,847.6 L1075.4,848.2 L1076.4,848.8 L1077.4,849.5 L1078.4,850.2 L1079.4,851.0 L1080.4,851.8 L1081.4,852.7 L1082.4,853.7 L1083.4,854.7 L1084.4,855.7 L1085.4,856.8 L1086.4,857.9 L1087.4,859.1 L1088.4,860.3 L1089.4,861.5 L1090.4,862.8 L1091.4,864.0 L1092.4,865.3 L1093.4,866.7 L1094.4,868.0 L1095.4,869.3 L1096.4,870.7 L1097.4,872.1 L1098.4,873.5 L1099.4,874.8 L1100.4,876.2 L1101.4,877.6 L1102.4,879.0 L1103.4,880.3 L1104.4,881.7 L1105.4,883.0 L1106.4,884.3 L1107.4,885.6 L1108.4,886.9 L1109.4,888.2 L1110.4,889.4 L1111.4,890.6 L1112.4,891.7 L1113.4,892.9 L1114.4,894.0 L1115.4,895.0 L1116.4,896.0 L1117.4,896.9 L1118.4,897.8 L1119.4,898.7 L1120.4,899.5 L1121.4,900.2 L1122.4,900.9 L1123.4,901.5 L1124.4,902.1 L1125.4,902.6 L1126.4,903.1 L1127.4,903.5 L1128.4,903.9 L1129.4,904.2 L1130.4,904.5 L1131.4,904.7 L1132.4,904.9 L1133.4,905.0 L1134.4,905.1 L1135.4,905.2 L1136.4,905.2 L1137.4,905.2 L1138.4,905.2 L1139.4,905.1 L1140.4,905.0 L1141.4,904.8 L1142.4,904.6 L1143.4,904.4 L1144.4,904.1 L1145.4,903.8 L1146.4,903.5 L1147.4,903.2 L1148.4,902.8 L1149.4,902.4 L1150.4,902.0 L1151.4,901.5 L1152.4,901.1 L1153.4,900.6 L1154.4,900.1 L1155.4,899.5 L1156.4,899.0 L1157.4,898.4 L1158.4,897.8 L1159.4,897.2 L1160.4,896.6 L1161.4,896.0 L1162.4,895.3 L1163.4,894.6 L1164.4,894.0 L1165.4,893.3 L1166.4,892.6 L1167.4,891.8 L1168.4,891.1 L1169.4,890.3 L1170.4,889.6 L1171.4,888.8 L1172.4,888.0 L1173.4,887.2 L1174.4,886.3 L1175.4,885.5 L1176.4,884.6 L1177.4,883.7 L1178.4,882.9 L1179.4,881.9 L1180.4,881.0 L1181.4,880.1 L1182.4,879.1 L1183.4,878.2 L1184.4,877.2 L1185.4,876.2 L1186.4,875.2 L1187.4,874.1 L1188.4,873.1 L1189.4,872.0 L1190.4,870.9 L1191.4,869.8 L1192.4,868.6 L1193.4,867.5 L1194.4,866.3 L1195.4,865.0 L1196.4,863.7 L1197.4,862.4 L1198.4,861.1 L1199.4,859.7 L1200.4,858.2 L1201.4,856.7 L1202.4,855.2 L1203.4,853.6 L1204.4,852.0 L1205.4,850.3 L1206.4,848.5 L1207.4,846.7 L1208.4,844.9 L1209.4,843.0 L1210.4,841.0 L1211.4,838.9 L1212.4,836.8 L1213.4,834.7 L1214.4,832.4 L1215.4,830.1 L1216.4,827.7 L1217.4,825.2 L1218.4,822.7 L1219.4,820.0 L1220.4,817.3 L1221.4,814.5 L1222.4,811.6 L1223.4,808.6 L1224.4,805.6 L1225.4,802.4 L1226.4,799.2 L1227.4,795.8 L1228.4,792.4 L1229.4,788.8 L1230.4,785.2 L1231.4,781.4 L1232.4,777.6 L1233.4,773.7 L1234.4,769.6 L1235.4,765.5 L1236.4,761.3 L1237.4,757.0 L1238.4,752.7 L1239.4,748.2 L1240.4,743.7 L1241.4,739.1 L1242.4,734.4 L1243.4,729.6 L1244.4,724.8 L1245.4,719.9 L1246.4,715.0 L1247.4,710.0 L1248.4,704.9 L1249.4,699.7 L1250.4,694.5 L1251.4,689.3 L1252.4,684.0 L1253.4,678.6 L1254.4,673.2 L1255.4,667.8 L1256.4,662.3 L1257.4,656.8 L1258.4,651.3 L1259.4,645.8 L1260.4,640.2 L1261.4,634.7 L1262.4,629.1 L1263.4,623.6 L1264.4,618.1 L1265.4,612.6 L1266.4,607.1 L1267.4,601.7 L1268.4,596.3 L1269.4,591.0 L1270.4,585.7 L1271.4,580.5 L1272.4,575.4 L1273.4,570.4 L1274.4,565.4 L1275.4,560.5 L1276.4,555.8 L1277.4,551.1 L1278.4,546.5 L1279.4,542.1 L1280.4,537.8 L1281.4,533.6 L1282.4,529.5 L1283.4,525.6 L1284.4,521.8 L1285.4,518.1 L1286.4,514.5 L1287.4,511.0 L1288.4,507.6 L1289.4,504.3 L1290.4,501.1 L1291.4,497.9 L1292.4,494.9 L1293.4,491.9 L1294.4,489.0 L1295.4,486.2 L1296.4,483.4 L1297.4,480.7 L1298.4,478.0 L1299.4,475.4 L1300.4,472.8 L1301.4,470.3 L1302.4,467.8 L1303.4,465.3 L1304.4,462.8 L1305.4,460.4 L1306.4,458.0 L1307.4,455.6 L1308.4,453.2 L1309.4,450.8 L1310.4,448.5 L1311.4,446.2 L1312.4,443.9 L1313.4,441.7 L1314.4,439.4 L1315.4,437.2 L1316.4,435.1 L1317.4,432.9 L1318.4,430.8 L1319.4,428.7 L1320.4,426.7 L1321.4,424.6 L1322.4,422.7 L1323.4,420.7 L1324.4,418.8 L1325.4,416.9 L1326.4,415.0 L1327.4,413.2 L1328.4,411.4 L1329.4,409.6 L1330.4,407.9 L1331.4,406.3 L1332.4,404.6 L1333.4,403.0 L1334.4,401.5 L1335.4,399.9 L1336.4,398.5 L1337.4,397.0 L1338.4,395.6 L1339.4,394.3 L1340.4,393.0 L1341.4,391.7 L1342.4,390.5 L1343.4,389.3 L1344.4,388.2 L1345.4,387.1 L1346.4,386.0 L1347.4,385.0 L1348.4,384.1 L1349.4,383.2 L1350.4,382.3 L1351.4,381.4 L1352.4,380.6 L1353.4,379.8 L1354.4,379.1 L1355.4,378.3 L1356.4,377.6 L1357.4,376.9 L1358.4,376.3 L1359.4,375.6 L1360.4,375.0 L1361.4,374.4 L1362.4,373.8 L1363.4,373.2 L1364.4,372.6 L1365.4,372.0 L1366.4,371.4 L1367.4,370.9 L1368.4,370.3 L1369.4,369.7 L1370.4,369.1 L1371.4,368.5 L1372.4,367.9 L1373.4,367.3 L1374.4,366.7 L1375.4,366.1 L1376.4,365.4 L1377.4,364.8 L1378.4,364.1 L1379.4,363.4 L1380.4,362.7 L1381.4,361.9 L1382.4,361.2 L1383.4,360.4 L1384.4,359.5 L1385.4,358.7 L1386.4,357.9 L1387.4,357.0 L1388.4,356.2 L1389.4,355.3 L1390.4,354.4 L1391.4,353.5 L1392.4,352.6 L1393.4,351.7 L1394.4,350.8 L1395.4,349.9 L1396.4,349.0 L1397.4,348.1 L1398.4,347.2 L1399.4,346.3 L1400.4,345.5 L1401.4,344.6 L1402.4,343.8 L1403.4,342.9 L1404.4,342.1 L1405.4,341.3 L1406.4,340.6 L1407.4,339.8 L1408.4,339.1 L1409.4,338.4 L1410.4,337.7 L1411.4,337.1 L1412.4,336.4 L1413.4,335.8 L1414.4,335.3 L1415.4,334.7 L1416.4,334.2 L1417.4,333.8 L1418.4,333.3 L1419.4,332.9 L1420.4,332.5 L1421.4,332.2 L1422.4,331.8 L1423.4,331.5 L1424.4,331.3 L1425.4,331.0 L1426.4,330.8 L1427.4,330.7 L1428.4,330.5 L1429.4,330.4 L1430.4,330.3 L1431.4,330.3 L1432.4,330.3 L1433.4,330.3 L1434.4,330.4 L1435.4,330.4 L1436.4,330.6 L1437.4,330.7 L1438.4,330.9 L1439.4,331.1 L1440.4,331.4 L1441.4,331.7 L1442.4,332.0 L1443.4,332.3 L1444.4,332.7 L1445.4,333.1 L1446.4,333.6 L1447.4,334.1 L1448.4,334.6 L1449.4,335.2 L1450.4,335.8 L1451.4,336.4 L1452.4,337.1 L1453.4,337.8 L1454.4,338.5 L1455.4,339.3 L1456.4,340.1 L1457.4,341.0 L1458.4,341.9 L1459.4,342.8 L1460.4,343.8 L1461.4,344.8 L1462.4,345.8 L1463.4,346.9 L1464.4,348.0 L1465.4,349.1 L1466.4,350.3 L1467.4,351.5 L1468.4,352.7 L1469.4,353.9 L1470.4,355.2 L1471.4,356.5 L1472.4,357.9 L1473.4,359.2 L1474.4,360.6 L1475.4,362.0 L1476.4,363.4 L1477.4,364.9 L1478.4,366.4 L1479.4,367.9 L1480.4,369.4 L1481.4,370.9 L1482.4,372.5 L1483.4,374.0 L1484.4,375.6 L1485.4,377.2 L1486.4,378.9 L1487.4,380.5 L1488.4,382.2 L1489.4,383.8 L1490.4,385.5 L1491.4,387.2 L1492.4,388.9 L1493.4,390.6 L1494.4,392.4 L1495.4,394.1 L1496.4,395.8 L1497.4,397.6 L1498.4,399.3 L1499.4,401.1 L1500.4,402.9 L1501.4,404.7 L1502.4,406.5 L1503.4,408.3 L1504.4,410.1 L1505.4,411.9 L1506.4,413.7 L1507.4,415.5 L1508.4,417.3 L1509.4,419.2 L1510.4,421.0 L1511.4,422.8 L1512.4,424.7 L1513.4,426.5 L1514.4,428.4 L1515.4,430.2 L1516.4,432.0 L1517.4,433.9 L1518.4,435.7 L1519.4,437.6 L1520.4,439.4 L1521.4,441.3 L1522.4,443.1 L1523.4,445.0 L1524.4,446.8 L1525.4,448.6 L1526.4,450.5 L1527.4,452.3 L1528.4,454.1 L1529.4,455.9 L1530.4,457.8 L1531.4,459.6 L1532.4,461.4 L1533.4,463.2 L1534.4,465.0 L1535.4,466.8 L1536.4,468.6 L1537.4,470.3 L1538.4,472.1 L1539.4,473.9 L1540.4,475.6 L1541.4,477.3 L1542.4,479.1 L1543.4,480.8 L1544.4,482.5 L1545.4,484.2 L1546.4,485.9 L1547.4,487.6 L1548.4,489.2 L1549.4,490.9 L1550.4,492.5 L1551.4,494.2 L1552.4,495.8 L1553.4,497.4 L1554.4,499.0 L1555.4,500.6 L1556.4,502.1 L1557.4,503.7 L1558.4,505.2 L1559.4,506.7 L1560.4,508.2 L1561.4,509.7 L1562.4,511.2 L1563.4,512.6 L1564.4,514.1 L1565.4,515.5 L1566.4,516.9 L1567.4,518.3 L1568.4,519.7 L1569.4,521.0 L1570.4,522.4 L1571.4,523.7 L1572.4,525.0 L1573.4,526.3 L1574.4,527.5 L1575.4,528.8 L1576.4,530.0 L1577.4,531.2 L1578.4,532.4 L1579.4,533.5 L1580.4,534.7 L1581.4,535.8 L1582.4,536.9 L1583.4,537.9 L1584.4,539.0 L1585.4,540.0 L1586.4,541.0 L1587.4,542.0 L1588.4,543.0 L1589.4,543.9 L1590.4,544.8 L1591.4,545.7 L1592.4,546.6 L1593.4,547.4 L1594.4,548.2 L1595.4,549.1 L1596.4,549.9 L1597.4,550.7 L1598.4,551.5 L1599.4,552.4 L1600.4,553.2 L1601.4,554.1 L1602.4,554.9 L1603.4,555.8 L1604.4,556.7 L1605.4,557.7 L1606.4,558.6 L1607.4,559.6 L1608.4,560.7 L1609.4,561.8 L1610.4,562.9 L1611.4,564.0 L1612.4,565.2 L1613.4,566.4 L1614.4,567.7 L1615.4,568.9 L1616.4,570.2 L1617.4,571.5 L1618.4,572.8 L1619.4,574.1 L1620.4,575.4 L1621.4,576.6 L1622.4,577.9 L1623.4,579.2 L1624.4,580.5 L1625.4,581.7 L1626.4,583.0 L1627.4,584.2 L1628.4,585.4 L1629.4,586.6 L1630.4,587.7 L1631.4,588.8 L1632.4,589.9 L1633.4,591.0 L1634.4,592.0 L1635.4,593.0 L1636.4,594.0 L1637.4,594.9 L1638.4,595.9 L1639.4,596.8 L1640.4,597.6 L1641.4,598.4 L1642.4,599.2 L1643.4,600.0 L1644.4,600.8 L1645.4,601.5 L1646.4,602.1 L1647.4,602.8 L1648.4,603.4 L1649.4,603.9 L1650.4,604.5 L1651.4,605.0 L1652.4,605.4 L1653.4,605.8 L1654.4,606.2 L1655.4,606.6 L1656.4,606.9 L1657.4,607.1 L1658.4,607.4 L1659.4,607.5 L1660.4,607.7 L1661.4,607.8 L1662.4,607.9 L1663.4,607.9 L1664.4,607.8 L1665.4,607.8 L1666.4,607.7 L1667.4,607.5 L1668.4,607.4 L1669.4,607.1 L1670.4,606.9 L1671.4,606.6 L1672.4,606.3 L1673.4,605.9 L1674.4,605.6 L1675.4,605.2 L1676.4,604.7 L1677.4,604.3 L1678.4,603.8 L1679.4,603.3 L1680.4,602.8 L1681.4,602.3 L1682.4,601.7 L1683.4,601.1 L1684.4,600.6 L1685.4,600.0 L1686.4,599.4 L1687.4,598.8 L1688.4,598.1 L1689.4,597.5 L1690.4,596.9 L1691.4,596.2 L1692.4,595.6 L1693.4,594.9 L1694.4,594.3 L1695.4,593.6 L1696.4,593.0 L1697.4,592.4 L1698.4,591.7 L1699.4,591.1 L1700.4,590.5 L1701.4,589.9 L1702.4,589.3 L1703.4,588.7 L1703.5,588.6 L1703.5,704.8 L1703.4,704.7 L1702.4,704.4 L1701.4,704.1 L1700.4,703.9 L1699.4,703.7 L1698.4,703.6 L1697.4,703.5 L1696.4,703.6 L1695.4,703.6 L1694.4,703.7 L1693.4,703.9 L1692.4,704.1 L1691.4,704.3 L1690.4,704.6 L1689.4,704.9 L1688.4,705.2 L1687.4,705.6 L1686.4,706.0 L1685.4,706.4 L1684.4,706.8 L1683.4,707.3 L1682.4,707.8 L1681.4,708.2 L1680.4,708.7 L1679.4,709.2 L1678.4,709.7 L1677.4,710.2 L1676.4,710.7 L1675.4,711.2 L1674.4,711.7 L1673.4,712.2 L1672.4,712.7 L1671.4,713.1 L1670.4,713.5 L1669.4,713.9 L1668.4,714.3 L1667.4,714.7 L1666.4,715.0 L1665.4,715.3 L1664.4,715.5 L1663.4,715.8 L1662.4,715.9 L1661.4,716.1 L1660.4,716.1 L1659.4,716.2 L1658.4,716.2 L1657.4,716.1 L1656.4,716.0 L1655.4,715.9 L1654.4,715.7 L1653.4,715.5 L1652.4,715.3 L1651.4,715.0 L1650.4,714.7 L1649.4,714.3 L1648.4,713.9 L1647.4,713.5 L1646.4,713.0 L1645.4,712.5 L1644.4,711.9 L1643.4,711.4 L1642.4,710.8 L1641.4,710.1 L1640.4,709.5 L1639.4,708.8 L1638.4,708.1 L1637.4,707.3 L1636.4,706.5 L1635.4,705.7 L1634.4,704.9 L1633.4,704.0 L1632.4,703.2 L1631.4,702.3 L1630.4,701.3 L1629.4,700.4 L1628.4,699.4 L1627.4,698.4 L1626.4,697.4 L1625.4,696.4 L1624.4,695.4 L1623.4,694.3 L1622.4,693.2 L1621.4,692.1 L1620.4,691.0 L1619.4,689.9 L1618.4,688.8 L1617.4,687.6 L1616.4,686.4 L1615.4,685.3 L1614.4,684.1 L1613.4,682.9 L1612.4,681.7 L1611.4,680.5 L1610.4,679.3 L1609.4,678.1 L1608.4,676.8 L1607.4,675.6 L1606.4,674.4 L1605.4,673.1 L1604.4,671.9 L1603.4,670.6 L1602.4,669.4 L1601.4,668.1 L1600.4,666.9 L1599.4,665.6 L1598.4,664.4 L1597.4,663.1 L1596.4,661.9 L1595.4,660.7 L1594.4,659.4 L1593.4,658.2 L1592.4,657.0 L1591.4,655.8 L1590.4,654.6 L1589.4,653.4 L1588.4,652.2 L1587.4,651.0 L1586.4,649.8 L1585.4,648.6 L1584.4,647.5 L1583.4,646.3 L1582.4,645.2 L1581.4,644.0 L1580.4,642.9 L1579.4,641.8 L1578.4,640.6 L1577.4,639.5 L1576.4,638.4 L1575.4,637.3 L1574.4,636.2 L1573.4,635.2 L1572.4,634.1 L1571.4,633.0 L1570.4,632.0 L1569.4,630.9 L1568.4,629.9 L1567.4,628.9 L1566.4,627.9 L1565.4,626.8 L1564.4,625.8 L1563.4,624.8 L1562.4,623.9 L1561.4,622.9 L1560.4,621.9 L1559.4,621.0 L1558.4,620.0 L1557.4,619.1 L1556.4,618.2 L1555.4,617.2 L1554.4,616.3 L1553.4,615.4 L1552.4,614.5 L1551.4,613.7 L1550.4,612.8 L1549.4,611.9 L1548.4,611.1 L1547.4,610.2 L1546.4,609.4 L1545.4,608.6 L1544.4,607.8 L1543.4,607.0 L1542.4,606.2 L1541.4,605.4 L1540.4,604.6 L1539.4,603.9 L1538.4,603.1 L1537.4,602.4 L1536.4,601.7 L1535.4,601.0 L1534.4,600.2 L1533.4,599.5 L1532.4,598.8 L1531.4,598.1 L1530.4,597.4 L1529.4,596.6 L1528.4,595.9 L1527.4,595.2 L1526.4,594.4 L1525.4,593.6 L1524.4,592.8 L1523.4,592.0 L1522.4,591.1 L1521.4,590.3 L1520.4,589.4 L1519.4,588.4 L1518.4,587.5 L1517.4,586.5 L1516.4,585.5 L1515.4,584.4 L1514.4,583.3 L1513.4,582.1 L1512.4,580.9 L1511.4,579.7 L1510.4,578.4 L1509.4,577.0 L1508.4,575.6 L1507.4,574.1 L1506.4,572.6 L1505.4,571.0 L1504.4,569.4 L1503.4,567.7 L1502.4,565.9 L1501.4,564.2 L1500.4,562.4 L1499.4,560.6 L1498.4,558.8 L1497.4,557.0 L1496.4,555.2 L1495.4,553.4 L1494.4,551.6 L1493.4,549.8 L1492.4,548.1 L1491.4,546.4 L1490.4,544.8 L1489.4,543.2 L1488.4,541.7 L1487.4,540.2 L1486.4,538.9 L1485.4,537.6 L1484.4,536.3 L1483.4,535.2 L1482.4,534.2 L1481.4,533.3 L1480.4,532.5 L1479.4,531.8 L1478.4,531.1 L1477.4,530.5 L1476.4,529.8 L1475.4,529.2 L1474.4,528.5 L1473.4,527.8 L1472.4,527.0 L1471.4,526.1 L1470.4,525.1 L1469.4,523.9 L1468.4,522.6 L1467.4,521.3 L1466.4,519.8 L1465.4,518.3 L1464.4,516.8 L1463.4,515.3 L1462.4,513.8 L1461.4,512.4 L1460.4,511.1 L1459.4,509.9 L1458.4,508.7 L1457.4,507.7 L1456.4,506.8 L1455.4,506.0 L1454.4,505.3 L1453.4,504.7 L1452.4,504.2 L1451.4,503.7 L1450.4,503.3 L1449.4,503.0 L1448.4,502.7 L1447.4,502.5 L1446.4,502.4 L1445.4,502.3 L1444.4,502.2 L1443.4,502.2 L1442.4,502.2 L1441.4,502.3 L1440.4,502.4 L1439.4,502.5 L1438.4,502.6 L1437.4,502.8 L1436.4,503.0 L1435.4,503.2 L1434.4,503.4 L1433.4,503.7 L1432.4,504.0 L1431.4,504.3 L1430.4,504.7 L1429.4,505.0 L1428.4,505.4 L1427.4,505.8 L1426.4,506.3 L1425.4,506.7 L1424.4,507.2 L1423.4,507.7 L1422.4,508.2 L1421.4,508.8 L1420.4,509.3 L1419.4,509.9 L1418.4,510.5 L1417.4,511.1 L1416.4,511.8 L1415.4,512.4 L1414.4,513.1 L1413.4,513.8 L1412.4,514.5 L1411.4,515.2 L1410.4,516.0 L1409.4,516.7 L1408.4,517.5 L1407.4,518.3 L1406.4,519.1 L1405.4,519.9 L1404.4,520.7 L1403.4,521.5 L1402.4,522.4 L1401.4,523.2 L1400.4,524.1 L1399.4,525.0 L1398.4,525.9 L1397.4,526.8 L1396.4,527.7 L1395.4,528.6 L1394.4,529.6 L1393.4,530.5 L1392.4,531.5 L1391.4,532.4 L1390.4,533.4 L1389.4,534.4 L1388.4,535.4 L1387.4,536.4 L1386.4,537.3 L1385.4,538.3 L1384.4,539.3 L1383.4,540.3 L1382.4,541.3 L1381.4,542.4 L1380.4,543.4 L1379.4,544.4 L1378.4,545.4 L1377.4,546.4 L1376.4,547.4 L1375.4,548.4 L1374.4,549.4 L1373.4,550.4 L1372.4,551.4 L1371.4,552.4 L1370.4,553.3 L1369.4,554.3 L1368.4,555.3 L1367.4,556.2 L1366.4,557.2 L1365.4,558.1 L1364.4,559.0 L1363.4,559.9 L1362.4,560.8 L1361.4,561.7 L1360.4,562.6 L1359.4,563.5 L1358.4,564.3 L1357.4,565.2 L1356.4,566.0 L1355.4,566.8 L1354.4,567.6 L1353.4,568.4 L1352.4,569.1 L1351.4,569.8 L1350.4,570.5 L1349.4,571.2 L1348.4,571.9 L1347.4,572.6 L1346.4,573.2 L1345.4,573.8 L1344.4,574.4 L1343.4,574.9 L1342.4,575.5 L1341.4,576.0 L1340.4,576.5 L1339.4,576.9 L1338.4,577.4 L1337.4,577.9 L1336.4,578.4 L1335.4,578.8 L1334.4,579.3 L1333.4,579.8 L1332.4,580.3 L1331.4,580.9 L1330.4,581.4 L1329.4,582.0 L1328.4,582.6 L1327.4,583.3 L1326.4,584.0 L1325.4,584.8 L1324.4,585.6 L1323.4,586.4 L1322.4,587.3 L1321.4,588.3 L1320.4,589.4 L1319.4,590.5 L1318.4,591.6 L1317.4,592.8 L1316.4,594.1 L1315.4,595.4 L1314.4,596.8 L1313.4,598.3 L1312.4,599.7 L1311.4,601.3 L1310.4,602.8 L1309.4,604.4 L1308.4,606.1 L1307.4,607.7 L1306.4,609.5 L1305.4,611.2 L1304.4,613.0 L1303.4,614.8 L1302.4,616.6 L1301.4,618.5 L1300.4,620.3 L1299.4,622.2 L1298.4,624.1 L1297.4,626.1 L1296.4,628.1 L1295.4,630.1 L1294.4,632.1 L1293.4,634.2 L1292.4,636.4 L1291.4,638.6 L1290.4,640.8 L1289.4,643.2 L1288.4,645.6 L1287.4,648.0 L1286.4,650.6 L1285.4,653.2 L1284.4,656.0 L1283.4,658.8 L1282.4,661.7 L1281.4,664.6 L1280.4,667.7 L1279.4,670.8 L1278.4,673.9 L1277.4,677.2 L1276.4,680.5 L1275.4,683.8 L1274.4,687.2 L1273.4,690.6 L1272.4,694.1 L1271.4,697.6 L1270.4,701.2 L1269.4,704.8 L1268.4,708.4 L1267.4,712.0 L1266.4,715.7 L1265.4,719.4 L1264.4,723.1 L1263.4,726.8 L1262.4,730.5 L1261.4,734.2 L1260.4,738.0 L1259.4,741.7 L1258.4,745.4 L1257.4,749.2 L1256.4,752.9 L1255.4,756.6 L1254.4,760.3 L1253.4,764.0 L1252.4,767.7 L1251.4,771.3 L1250.4,775.0 L1249.4,778.6 L1248.4,782.3 L1247.4,785.9 L1246.4,789.5 L1245.4,793.1 L1244.4,796.6 L1243.4,800.2 L1242.4,803.7 L1241.4,807.3 L1240.4,810.8 L1239.4,814.2 L1238.4,817.7 L1237.4,821.2 L1236.4,824.6 L1235.4,828.0 L1234.4,831.4 L1233.4,834.7 L1232.4,838.1 L1231.4,841.4 L1230.4,844.7 L1229.4,848.0 L1228.4,851.2 L1227.4,854.4 L1226.4,857.6 L1225.4,860.8 L1224.4,863.8 L1223.4,866.9 L1222.4,869.7 L1221.4,872.5 L1220.4,875.1 L1219.4,877.5 L1218.4,879.8 L1217.4,881.8 L1216.4,883.7 L1215.4,885.4 L1214.4,887.0 L1213.4,888.5 L1212.4,889.9 L1211.4,891.2 L1210.4,892.5 L1209.4,893.7 L1208.4,894.9 L1207.4,896.1 L1206.4,897.3 L1205.4,898.5 L1204.4,899.7 L1203.4,900.9 L1202.4,902.0 L1201.4,903.1 L1200.4,904.1 L1199.4,905.1 L1198.4,906.1 L1197.4,907.0 L1196.4,907.9 L1195.4,908.8 L1194.4,909.7 L1193.4,910.5 L1192.4,911.2 L1191.4,912.0 L1190.4,912.7 L1189.4,913.4 L1188.4,914.0 L1187.4,914.7 L1186.4,915.3 L1185.4,915.8 L1184.4,916.4 L1183.4,916.9 L1182.4,917.4 L1181.4,917.8 L1180.4,918.3 L1179.4,918.7 L1178.4,919.1 L1177.4,919.4 L1176.4,919.8 L1175.4,920.1 L1174.4,920.4 L1173.4,920.7 L1172.4,920.9 L1171.4,921.2 L1170.4,921.4 L1169.4,921.6 L1168.4,921.8 L1167.4,922.0 L1166.4,922.1 L1165.4,922.2 L1164.4,922.4 L1163.4,922.5 L1162.4,922.6 L1161.4,922.6 L1160.4,922.7 L1159.4,922.7 L1158.4,922.8 L1157.4,922.8 L1156.4,922.8 L1155.4,922.8 L1154.4,922.8 L1153.4,922.8 L1152.4,922.8 L1151.4,922.8 L1150.4,922.7 L1149.4,922.7 L1148.4,922.6 L1147.4,922.6 L1146.4,922.5 L1145.4,922.5 L1144.4,922.4 L1143.4,922.3 L1142.4,922.2 L1141.4,922.2 L1140.4,922.1 L1139.4,922.0 L1138.4,921.9 L1137.4,921.8 L1136.4,921.8 L1135.4,921.7 L1134.4,921.6 L1133.4,921.6 L1132.4,921.5 L1131.4,921.4 L1130.4,921.4 L1129.4,921.3 L1128.4,921.3 L1127.4,921.2 L1126.4,921.2 L1125.4,921.1 L1124.4,921.1 L1123.4,921.1 L1122.4,921.0 L1121.4,921.0 L1120.4,921.0 L1119.4,921.0 L1118.4,921.0 L1117.4,921.0 L1116.4,921.0 L1115.4,921.0 L1114.4,921.0 L1113.4,921.0 L1112.4,921.0 L1111.4,921.0 L1110.4,921.0 L1109.4,921.1 L1108.4,921.1 L1107.4,921.1 L1106.4,921.2 L1105.4,921.2 L1104.4,921.2 L1103.4,921.3 L1102.4,921.3 L1101.4,921.3 L1100.4,921.4 L1099.4,921.4 L1098.4,921.5 L1097.4,921.5 L1096.4,921.6 L1095.4,921.6 L1094.4,921.7 L1093.4,921.7 L1092.4,921.8 L1091.4,921.8 L1090.4,921.9 L1089.4,922.0 L1088.4,922.0 L1087.4,922.1 L1086.4,922.2 L1085.4,922.2 L1084.4,922.3 L1083.4,922.3 L1082.4,922.4 L1081.4,922.5 L1080.4,922.5 L1079.4,922.6 L1078.4,922.7 L1077.4,922.7 L1076.4,922.8 L1075.4,922.9 L1074.4,922.9 L1073.4,923.0 L1072.4,923.1 L1071.4,923.1 L1070.4,923.2 L1069.4,923.3 L1068.4,923.3 L1067.4,923.4 L1066.4,923.4 L1065.4,923.5 L1064.4,923.5 L1063.4,923.6 L1062.4,923.7 L1061.4,923.7 L1060.4,923.8 L1059.4,923.8 L1058.4,923.9 L1057.4,924.0 L1056.4,924.1 L1055.4,924.2 L1054.4,924.4 L1053.4,924.6 L1052.4,924.8 L1051.4,925.1 L1050.4,925.4 L1049.4,925.7 L1048.4,926.1 L1047.4,926.6 L1046.4,927.1 L1045.4,927.6 L1044.4,928.3 L1043.4,929.0 L1042.4,929.8 L1041.4,930.6 L1040.4,931.5 L1039.4,932.5 L1038.4,933.5 L1037.4,934.5 L1036.4,935.5 L1035.4,936.5 L1034.4,937.4 L1033.4,938.3 L1032.4,939.1 L1031.4,939.8 L1030.4,940.4 L1029.4,940.9 L1028.4,941.2 L1027.4,941.4 L1026.4,941.4 L1025.4,941.2 L1024.4,940.7 L1023.4,940.1 Z" fill="url(#pbR)"/>
<path d="M1023.4,920.5 L1024.4,918.2 L1025.4,916.3 L1026.4,914.9 L1027.4,913.8 L1028.4,913.1 L1029.4,912.7 L1030.4,912.6 L1031.4,912.7 L1032.4,913.0 L1033.4,913.5 L1034.4,914.1 L1035.4,914.9 L1036.4,915.7 L1037.4,916.6 L1038.4,917.5 L1039.4,918.4 L1040.4,919.2 L1041.4,920.0 L1042.4,920.8 L1043.4,921.5 L1044.4,922.1 L1045.4,922.8 L1046.4,923.4 L1047.4,924.0 L1048.4,924.6 L1049.4,925.1 L1050.4,925.6 L1051.4,926.1 L1052.4,926.6 L1053.4,927.0 L1054.4,927.5 L1055.4,927.9 L1056.4,928.3 L1057.4,928.7 L1058.4,929.1 L1059.4,929.5 L1060.4,929.8 L1061.4,930.1 L1062.4,930.5 L1063.4,930.8 L1064.4,931.0 L1065.4,931.3 L1066.4,931.6 L1067.4,931.8 L1068.4,932.0 L1069.4,932.3 L1070.4,932.5 L1071.4,932.6 L1072.4,932.8 L1073.4,933.0 L1074.4,933.1 L1075.4,933.3 L1076.4,933.4 L1077.4,933.5 L1078.4,933.6 L1079.4,933.7 L1080.4,933.8 L1081.4,933.8 L1082.4,933.9 L1083.4,933.9 L1084.4,933.9 L1085.4,934.0 L1086.4,934.0 L1087.4,934.0 L1088.4,934.0 L1089.4,933.9 L1090.4,933.9 L1091.4,933.9 L1092.4,933.8 L1093.4,933.7 L1094.4,933.7 L1095.4,933.6 L1096.4,933.5 L1097.4,933.4 L1098.4,933.3 L1099.4,933.2 L1100.4,933.0 L1101.4,932.9 L1102.4,932.8 L1103.4,932.6 L1104.4,932.5 L1105.4,932.3 L1106.4,932.1 L1107.4,932.0 L1108.4,931.8 L1109.4,931.6 L1110.4,931.4 L1111.4,931.2 L1112.4,931.0 L1113.4,930.8 L1114.4,930.6 L1115.4,930.4 L1116.4,930.2 L1117.4,930.0 L1118.4,929.8 L1119.4,929.6 L1120.4,929.4 L1121.4,929.2 L1122.4,929.0 L1123.4,928.8 L1124.4,928.6 L1125.4,928.4 L1126.4,928.2 L1127.4,928.0 L1128.4,927.9 L1129.4,927.7 L1130.4,927.5 L1131.4,927.4 L1132.4,927.2 L1133.4,927.1 L1134.4,926.9 L1135.4,926.8 L1136.4,926.7 L1137.4,926.6 L1138.4,926.5 L1139.4,926.4 L1140.4,926.3 L1141.4,926.2 L1142.4,926.2 L1143.4,926.1 L1144.4,926.1 L1145.4,926.1 L1146.4,926.1 L1147.4,926.1 L1148.4,926.1 L1149.4,926.2 L1150.4,926.2 L1151.4,926.3 L1152.4,926.4 L1153.4,926.5 L1154.4,926.6 L1155.4,926.8 L1156.4,927.0 L1157.4,927.1 L1158.4,927.3 L1159.4,927.6 L1160.4,927.8 L1161.4,928.1 L1162.4,928.4 L1163.4,928.7 L1164.4,929.0 L1165.4,929.4 L1166.4,929.8 L1167.4,930.2 L1168.4,930.6 L1169.4,931.1 L1170.4,931.5 L1171.4,932.1 L1172.4,932.6 L1173.4,933.2 L1174.4,933.8 L1175.4,934.6 L1176.4,935.3 L1177.4,936.2 L1178.4,937.2 L1179.4,938.2 L1180.4,939.4 L1181.4,940.7 L1182.4,942.0 L1183.4,943.4 L1184.4,944.8 L1185.4,946.2 L1186.4,947.5 L1187.4,948.8 L1188.4,949.9 L1189.4,951.1 L1190.4,952.1 L1191.4,953.1 L1192.4,954.1 L1193.4,955.0 L1194.4,955.8 L1195.4,956.5 L1196.4,957.1 L1197.4,957.7 L1198.4,958.3 L1199.4,958.7 L1200.4,959.1 L1201.4,959.4 L1202.4,959.6 L1203.4,959.7 L1204.4,959.8 L1205.4,959.7 L1206.4,959.6 L1207.4,959.5 L1208.4,959.2 L1209.4,958.8 L1210.4,958.3 L1211.4,957.8 L1212.4,957.1 L1213.4,956.3 L1214.4,955.5 L1215.4,954.5 L1216.4,953.3 L1217.4,952.1 L1218.4,950.7 L1219.4,949.2 L1220.4,947.6 L1221.4,945.8 L1222.4,943.9 L1223.4,941.8 L1224.4,939.6 L1225.4,937.3 L1226.4,934.7 L1227.4,932.1 L1228.4,929.2 L1229.4,926.2 L1230.4,923.1 L1231.4,919.8 L1232.4,916.5 L1233.4,913.2 L1234.4,910.0 L1235.4,906.7 L1236.4,903.6 L1237.4,900.7 L1238.4,897.9 L1239.4,895.3 L1240.4,892.7 L1241.4,890.2 L1242.4,887.7 L1243.4,885.2 L1244.4,882.6 L1245.4,879.9 L1246.4,876.9 L1247.4,873.7 L1248.4,870.3 L1249.4,866.6 L1250.4,862.7 L1251.4,858.6 L1252.4,854.4 L1253.4,850.0 L1254.4,845.6 L1255.4,841.2 L1256.4,836.7 L1257.4,832.3 L1258.4,827.9 L1259.4,823.7 L1260.4,819.6 L1261.4,815.6 L1262.4,811.8 L1263.4,808.1 L1264.4,804.4 L1265.4,800.8 L1266.4,797.3 L1267.4,793.7 L1268.4,790.1 L1269.4,786.5 L1270.4,782.8 L1271.4,779.0 L1272.4,775.1 L1273.4,771.1 L1274.4,766.9 L1275.4,762.5 L1276.4,758.0 L1277.4,753.3 L1278.4,748.6 L1279.4,743.9 L1280.4,739.1 L1281.4,734.4 L1282.4,729.6 L1283.4,725.0 L1284.4,720.5 L1285.4,716.1 L1286.4,711.8 L1287.4,707.7 L1288.4,703.8 L1289.4,700.0 L1290.4,696.2 L1291.4,692.7 L1292.4,689.2 L1293.4,685.8 L1294.4,682.5 L1295.4,679.3 L1296.4,676.2 L1297.4,673.2 L1298.4,670.2 L1299.4,667.3 L1300.4,664.5 L1301.4,661.7 L1302.4,658.9 L1303.4,656.2 L1304.4,653.5 L1305.4,650.9 L1306.4,648.3 L1307.4,645.8 L1308.4,643.3 L1309.4,640.9 L1310.4,638.5 L1311.4,636.1 L1312.4,633.8 L1313.4,631.6 L1314.4,629.4 L1315.4,627.2 L1316.4,625.0 L1317.4,622.9 L1318.4,620.9 L1319.4,618.9 L1320.4,616.9 L1321.4,615.0 L1322.4,613.1 L1323.4,611.2 L1324.4,609.4 L1325.4,607.6 L1326.4,605.8 L1327.4,604.1 L1328.4,602.4 L1329.4,600.8 L1330.4,599.2 L1331.4,597.6 L1332.4,596.1 L1333.4,594.6 L1334.4,593.1 L1335.4,591.6 L1336.4,590.2 L1337.4,588.8 L1338.4,587.5 L1339.4,586.2 L1340.4,584.9 L1341.4,583.6 L1342.4,582.4 L1343.4,581.2 L1344.4,580.0 L1345.4,578.8 L1346.4,577.7 L1347.4,576.6 L1348.4,575.5 L1349.4,574.4 L1350.4,573.3 L1351.4,572.3 L1352.4,571.3 L1353.4,570.2 L1354.4,569.2 L1355.4,568.2 L1356.4,567.3 L1357.4,566.3 L1358.4,565.3 L1359.4,564.3 L1360.4,563.4 L1361.4,562.4 L1362.4,561.5 L1363.4,560.5 L1364.4,559.6 L1365.4,558.6 L1366.4,557.7 L1367.4,556.7 L1368.4,555.7 L1369.4,554.7 L1370.4,553.8 L1371.4,552.8 L1372.4,551.8 L1373.4,550.7 L1374.4,549.7 L1375.4,548.7 L1376.4,547.6 L1377.4,546.5 L1378.4,545.4 L1379.4,544.3 L1380.4,543.2 L1381.4,542.0 L1382.4,540.9 L1383.4,539.7 L1384.4,538.4 L1385.4,537.2 L1386.4,535.9 L1387.4,534.6 L1388.4,533.2 L1389.4,531.8 L1390.4,530.4 L1391.4,529.0 L1392.4,527.5 L1393.4,526.0 L1394.4,524.4 L1395.4,522.8 L1396.4,521.2 L1397.4,519.5 L1398.4,517.8 L1399.4,516.0 L1400.4,514.2 L1401.4,512.4 L1402.4,510.5 L1403.4,508.5 L1404.4,506.5 L1405.4,504.4 L1406.4,502.3 L1407.4,500.2 L1408.4,497.9 L1409.4,495.7 L1410.4,493.3 L1411.4,491.0 L1412.4,488.6 L1413.4,486.3 L1414.4,484.0 L1415.4,481.7 L1416.4,479.6 L1417.4,477.6 L1418.4,475.6 L1419.4,473.7 L1420.4,471.9 L1421.4,470.2 L1422.4,468.5 L1423.4,466.9 L1424.4,465.4 L1425.4,463.8 L1426.4,462.4 L1427.4,460.9 L1428.4,459.5 L1429.4,458.1 L1430.4,456.8 L1431.4,455.4 L1432.4,454.1 L1433.4,452.8 L1434.4,451.5 L1435.4,450.3 L1436.4,449.1 L1437.4,448.0 L1438.4,446.8 L1439.4,445.8 L1440.4,444.7 L1441.4,443.8 L1442.4,442.8 L1443.4,441.9 L1444.4,441.1 L1445.4,440.3 L1446.4,439.6 L1447.4,439.0 L1448.4,438.4 L1449.4,437.8 L1450.4,437.4 L1451.4,437.0 L1452.4,436.7 L1453.4,436.5 L1454.4,436.3 L1455.4,436.2 L1456.4,436.2 L1457.4,436.3 L1458.4,436.5 L1459.4,436.7 L1460.4,437.0 L1461.4,437.4 L1462.4,437.9 L1463.4,438.5 L1464.4,439.1 L1465.4,439.8 L1466.4,440.6 L1467.4,441.5 L1468.4,442.4 L1469.4,443.4 L1470.4,444.5 L1471.4,445.6 L1472.4,446.8 L1473.4,448.1 L1474.4,449.4 L1475.4,450.8 L1476.4,452.3 L1477.4,453.8 L1478.4,455.4 L1479.4,457.1 L1480.4,458.8 L1481.4,460.6 L1482.4,462.4 L1483.4,464.3 L1484.4,466.3 L1485.4,468.3 L1486.4,470.4 L1487.4,472.5 L1488.4,474.7 L1489.4,476.9 L1490.4,479.2 L1491.4,481.5 L1492.4,483.9 L1493.4,486.3 L1494.4,488.8 L1495.4,491.3 L1496.4,493.8 L1497.4,496.5 L1498.4,499.1 L1499.4,501.8 L1500.4,504.6 L1501.4,507.3 L1502.4,510.2 L1503.4,513.0 L1504.4,515.9 L1505.4,518.9 L1506.4,521.8 L1507.4,524.8 L1508.4,527.9 L1509.4,530.9 L1510.4,533.9 L1511.4,536.8 L1512.4,539.8 L1513.4,542.7 L1514.4,545.5 L1515.4,548.2 L1516.4,550.9 L1517.4,553.5 L1518.4,555.9 L1519.4,558.3 L1520.4,560.5 L1521.4,562.6 L1522.4,564.7 L1523.4,566.7 L1524.4,568.7 L1525.4,570.7 L1526.4,572.8 L1527.4,575.0 L1528.4,577.2 L1529.4,579.6 L1530.4,582.1 L1531.4,584.8 L1532.4,587.7 L1533.4,590.6 L1534.4,593.6 L1535.4,596.6 L1536.4,599.5 L1537.4,602.2 L1538.4,604.7 L1539.4,606.9 L1540.4,608.9 L1541.4,610.7 L1542.4,612.5 L1543.4,614.1 L1544.4,615.8 L1545.4,617.4 L1546.4,618.9 L1547.4,620.5 L1548.4,622.0 L1549.4,623.4 L1550.4,624.9 L1551.4,626.3 L1552.4,627.7 L1553.4,629.1 L1554.4,630.4 L1555.4,631.8 L1556.4,633.1 L1557.4,634.3 L1558.4,635.6 L1559.4,636.8 L1560.4,638.0 L1561.4,639.2 L1562.4,640.4 L1563.4,641.6 L1564.4,642.7 L1565.4,643.8 L1566.4,644.9 L1567.4,646.0 L1568.4,647.1 L1569.4,648.1 L1570.4,649.2 L1571.4,650.2 L1572.4,651.2 L1573.4,652.2 L1574.4,653.2 L1575.4,654.2 L1576.4,655.2 L1577.4,656.2 L1578.4,657.1 L1579.4,658.1 L1580.4,659.0 L1581.4,660.0 L1582.4,660.9 L1583.4,661.8 L1584.4,662.8 L1585.4,663.7 L1586.4,664.6 L1587.4,665.5 L1588.4,666.4 L1589.4,667.4 L1590.4,668.3 L1591.4,669.2 L1592.4,670.1 L1593.4,671.0 L1594.4,672.0 L1595.4,672.9 L1596.4,673.8 L1597.4,674.8 L1598.4,675.7 L1599.4,676.6 L1600.4,677.5 L1601.4,678.5 L1602.4,679.4 L1603.4,680.3 L1604.4,681.3 L1605.4,682.2 L1606.4,683.1 L1607.4,684.1 L1608.4,685.0 L1609.4,685.9 L1610.4,686.8 L1611.4,687.7 L1612.4,688.6 L1613.4,689.5 L1614.4,690.4 L1615.4,691.3 L1616.4,692.2 L1617.4,693.1 L1618.4,693.9 L1619.4,694.8 L1620.4,695.7 L1621.4,696.5 L1622.4,697.4 L1623.4,698.2 L1624.4,699.0 L1625.4,699.8 L1626.4,700.6 L1627.4,701.4 L1628.4,702.2 L1629.4,703.0 L1630.4,703.8 L1631.4,704.5 L1632.4,705.3 L1633.4,706.0 L1634.4,706.7 L1635.4,707.4 L1636.4,708.1 L1637.4,708.8 L1638.4,709.4 L1639.4,710.1 L1640.4,710.7 L1641.4,711.3 L1642.4,711.9 L1643.4,712.5 L1644.4,713.1 L1645.4,713.7 L1646.4,714.2 L1647.4,714.7 L1648.4,715.2 L1649.4,715.7 L1650.4,716.2 L1651.4,716.6 L1652.4,717.1 L1653.4,717.5 L1654.4,717.9 L1655.4,718.4 L1656.4,718.8 L1657.4,719.2 L1658.4,719.5 L1659.4,719.9 L1660.4,720.3 L1661.4,720.7 L1662.4,721.1 L1663.4,721.4 L1664.4,721.8 L1665.4,722.2 L1666.4,722.6 L1667.4,723.0 L1668.4,723.4 L1669.4,723.8 L1670.4,724.2 L1671.4,724.6 L1672.4,725.0 L1673.4,725.5 L1674.4,725.9 L1675.4,726.4 L1676.4,726.9 L1677.4,727.4 L1678.4,727.9 L1679.4,728.4 L1680.4,728.9 L1681.4,729.4 L1682.4,729.8 L1683.4,730.3 L1684.4,730.7 L1685.4,731.0 L1686.4,731.3 L1687.4,731.6 L1688.4,731.8 L1689.4,731.9 L1690.4,732.0 L1691.4,732.0 L1692.4,731.9 L1693.4,731.7 L1694.4,731.4 L1695.4,731.0 L1696.4,730.5 L1697.4,729.9 L1698.4,729.1 L1699.4,728.2 L1700.4,727.2 L1701.4,726.0 L1702.4,724.7 L1703.4,723.2 L1703.5,723.0 L1703.5,845.2 L1703.4,845.2 L1702.4,846.0 L1701.4,847.3 L1700.4,848.5 L1699.4,849.6 L1698.4,850.7 L1697.4,851.7 L1696.4,852.6 L1695.4,853.5 L1694.4,854.3 L1693.4,855.0 L1692.4,855.7 L1691.4,856.3 L1690.4,856.9 L1689.4,857.3 L1688.4,857.8 L1687.4,858.1 L1686.4,858.5 L1685.4,858.7 L1684.4,858.9 L1683.4,859.1 L1682.4,859.2 L1681.4,859.2 L1680.4,859.2 L1679.4,859.2 L1678.4,859.1 L1677.4,859.0 L1676.4,858.8 L1675.4,858.6 L1674.4,858.3 L1673.4,858.1 L1672.4,857.7 L1671.4,857.4 L1670.4,857.0 L1669.4,856.6 L1668.4,856.1 L1667.4,855.6 L1666.4,855.1 L1665.4,854.5 L1664.4,854.0 L1663.4,853.4 L1662.4,852.8 L1661.4,852.1 L1660.4,851.5 L1659.4,850.8 L1658.4,850.1 L1657.4,849.4 L1656.4,848.7 L1655.4,847.9 L1654.4,847.2 L1653.4,846.4 L1652.4,845.6 L1651.4,844.9 L1650.4,844.1 L1649.4,843.3 L1648.4,842.5 L1647.4,841.7 L1646.4,840.9 L1645.4,840.1 L1644.4,839.3 L1643.4,838.5 L1642.4,837.7 L1641.4,837.0 L1640.4,836.2 L1639.4,835.4 L1638.4,834.7 L1637.4,833.9 L1636.4,833.2 L1635.4,832.4 L1634.4,831.7 L1633.4,831.0 L1632.4,830.3 L1631.4,829.6 L1630.4,828.9 L1629.4,828.2 L1628.4,827.5 L1627.4,826.8 L1626.4,826.1 L1625.4,825.4 L1624.4,824.8 L1623.4,824.1 L1622.4,823.4 L1621.4,822.7 L1620.4,822.0 L1619.4,821.4 L1618.4,820.7 L1617.4,820.0 L1616.4,819.3 L1615.4,818.6 L1614.4,817.9 L1613.4,817.3 L1612.4,816.6 L1611.4,815.9 L1610.4,815.2 L1609.4,814.5 L1608.4,813.7 L1607.4,813.0 L1606.4,812.3 L1605.4,811.6 L1604.4,810.8 L1603.4,810.1 L1602.4,809.3 L1601.4,808.6 L1600.4,807.8 L1599.4,807.0 L1598.4,806.2 L1597.4,805.4 L1596.4,804.6 L1595.4,803.8 L1594.4,802.9 L1593.4,802.1 L1592.4,801.2 L1591.4,800.3 L1590.4,799.4 L1589.4,798.5 L1588.4,797.6 L1587.4,796.7 L1586.4,795.7 L1585.4,794.7 L1584.4,793.8 L1583.4,792.8 L1582.4,791.8 L1581.4,790.7 L1580.4,789.7 L1579.4,788.6 L1578.4,787.5 L1577.4,786.4 L1576.4,785.3 L1575.4,784.2 L1574.4,783.0 L1573.4,781.9 L1572.4,780.7 L1571.4,779.5 L1570.4,778.3 L1569.4,777.0 L1568.4,775.8 L1567.4,774.5 L1566.4,773.2 L1565.4,771.9 L1564.4,770.5 L1563.4,769.2 L1562.4,767.8 L1561.4,766.4 L1560.4,765.0 L1559.4,763.5 L1558.4,762.0 L1557.4,760.6 L1556.4,759.0 L1555.4,757.5 L1554.4,755.9 L1553.4,754.4 L1552.4,752.8 L1551.4,751.1 L1550.4,749.5 L1549.4,747.8 L1548.4,746.1 L1547.4,744.4 L1546.4,742.6 L1545.4,740.9 L1544.4,739.1 L1543.4,737.3 L1542.4,735.4 L1541.4,733.5 L1540.4,731.6 L1539.4,729.7 L1538.4,727.8 L1537.4,725.8 L1536.4,723.9 L1535.4,721.9 L1534.4,719.9 L1533.4,717.9 L1532.4,715.9 L1531.4,713.9 L1530.4,711.9 L1529.4,709.9 L1528.4,708.0 L1527.4,706.0 L1526.4,704.0 L1525.4,702.0 L1524.4,700.0 L1523.4,698.1 L1522.4,696.1 L1521.4,694.1 L1520.4,692.1 L1519.4,690.1 L1518.4,688.2 L1517.4,686.2 L1516.4,684.2 L1515.4,682.2 L1514.4,680.2 L1513.4,678.1 L1512.4,676.1 L1511.4,674.1 L1510.4,672.0 L1509.4,670.0 L1508.4,667.9 L1507.4,665.8 L1506.4,663.8 L1505.4,661.6 L1504.4,659.5 L1503.4,657.4 L1502.4,655.2 L1501.4,653.1 L1500.4,650.9 L1499.4,648.8 L1498.4,646.6 L1497.4,644.5 L1496.4,642.5 L1495.4,640.5 L1494.4,638.5 L1493.4,636.6 L1492.4,634.8 L1491.4,633.1 L1490.4,631.4 L1489.4,629.8 L1488.4,628.3 L1487.4,626.8 L1486.4,625.4 L1485.4,624.1 L1484.4,622.8 L1483.4,621.7 L1482.4,620.5 L1481.4,619.5 L1480.4,618.5 L1479.4,617.6 L1478.4,616.8 L1477.4,616.0 L1476.4,615.3 L1475.4,614.7 L1474.4,614.2 L1473.4,613.7 L1472.4,613.3 L1471.4,613.0 L1470.4,612.7 L1469.4,612.5 L1468.4,612.4 L1467.4,612.3 L1466.4,612.3 L1465.4,612.4 L1464.4,612.5 L1463.4,612.7 L1462.4,613.0 L1461.4,613.3 L1460.4,613.7 L1459.4,614.1 L1458.4,614.6 L1457.4,615.1 L1456.4,615.7 L1455.4,616.4 L1454.4,617.1 L1453.4,617.8 L1452.4,618.6 L1451.4,619.4 L1450.4,620.3 L1449.4,621.2 L1448.4,622.1 L1447.4,623.1 L1446.4,624.2 L1445.4,625.2 L1444.4,626.3 L1443.4,627.5 L1442.4,628.6 L1441.4,629.8 L1440.4,631.0 L1439.4,632.3 L1438.4,633.5 L1437.4,634.8 L1436.4,636.1 L1435.4,637.5 L1434.4,638.8 L1433.4,640.2 L1432.4,641.5 L1431.4,642.9 L1430.4,644.3 L1429.4,645.7 L1428.4,647.1 L1427.4,648.5 L1426.4,649.9 L1425.4,651.3 L1424.4,652.6 L1423.4,654.0 L1422.4,655.4 L1421.4,656.7 L1420.4,658.1 L1419.4,659.4 L1418.4,660.7 L1417.4,662.0 L1416.4,663.3 L1415.4,664.5 L1414.4,665.8 L1413.4,667.0 L1412.4,668.2 L1411.4,669.5 L1410.4,670.7 L1409.4,671.9 L1408.4,673.1 L1407.4,674.2 L1406.4,675.4 L1405.4,676.6 L1404.4,677.8 L1403.4,678.9 L1402.4,680.1 L1401.4,681.3 L1400.4,682.4 L1399.4,683.6 L1398.4,684.7 L1397.4,685.9 L1396.4,687.1 L1395.4,688.3 L1394.4,689.5 L1393.4,690.6 L1392.4,691.8 L1391.4,693.0 L1390.4,694.3 L1389.4,695.5 L1388.4,696.7 L1387.4,698.0 L1386.4,699.2 L1385.4,700.5 L1384.4,701.8 L1383.4,703.1 L1382.4,704.4 L1381.4,705.8 L1380.4,707.1 L1379.4,708.5 L1378.4,709.9 L1377.4,711.3 L1376.4,712.8 L1375.4,714.3 L1374.4,715.7 L1373.4,717.3 L1372.4,718.8 L1371.4,720.4 L1370.4,722.0 L1369.4,723.6 L1368.4,725.2 L1367.4,726.9 L1366.4,728.5 L1365.4,730.2 L1364.4,731.8 L1363.4,733.4 L1362.4,735.1 L1361.4,736.7 L1360.4,738.3 L1359.4,739.8 L1358.4,741.4 L1357.4,742.9 L1356.4,744.3 L1355.4,745.7 L1354.4,747.1 L1353.4,748.4 L1352.4,749.7 L1351.4,750.9 L1350.4,752.0 L1349.4,753.2 L1348.4,754.3 L1347.4,755.3 L1346.4,756.3 L1345.4,757.3 L1344.4,758.3 L1343.4,759.3 L1342.4,760.2 L1341.4,761.2 L1340.4,762.1 L1339.4,763.0 L1338.4,763.9 L1337.4,764.9 L1336.4,765.8 L1335.4,766.7 L1334.4,767.6 L1333.4,768.6 L1332.4,769.6 L1331.4,770.6 L1330.4,771.6 L1329.4,772.6 L1328.4,773.7 L1327.4,774.8 L1326.4,775.9 L1325.4,777.0 L1324.4,778.2 L1323.4,779.4 L1322.4,780.6 L1321.4,781.8 L1320.4,783.1 L1319.4,784.3 L1318.4,785.7 L1317.4,787.0 L1316.4,788.4 L1315.4,789.8 L1314.4,791.2 L1313.4,792.6 L1312.4,794.1 L1311.4,795.6 L1310.4,797.2 L1309.4,798.8 L1308.4,800.4 L1307.4,802.0 L1306.4,803.7 L1305.4,805.4 L1304.4,807.2 L1303.4,809.0 L1302.4,810.8 L1301.4,812.6 L1300.4,814.5 L1299.4,816.5 L1298.4,818.4 L1297.4,820.4 L1296.4,822.5 L1295.4,824.6 L1294.4,826.7 L1293.4,828.8 L1292.4,831.0 L1291.4,833.3 L1290.4,835.6 L1289.4,837.9 L1288.4,840.2 L1287.4,842.6 L1286.4,845.0 L1285.4,847.5 L1284.4,850.0 L1283.4,852.6 L1282.4,855.1 L1281.4,857.8 L1280.4,860.4 L1279.4,863.1 L1278.4,865.9 L1277.4,868.7 L1276.4,871.5 L1275.4,874.4 L1274.4,877.3 L1273.4,880.2 L1272.4,883.2 L1271.4,886.2 L1270.4,889.3 L1269.4,892.3 L1268.4,895.4 L1267.4,898.6 L1266.4,901.7 L1265.4,904.8 L1264.4,908.0 L1263.4,911.2 L1262.4,914.3 L1261.4,917.5 L1260.4,920.7 L1259.4,923.8 L1258.4,927.0 L1257.4,930.1 L1256.4,933.2 L1255.4,936.3 L1254.4,939.4 L1253.4,942.4 L1252.4,945.4 L1251.4,948.4 L1250.4,951.3 L1249.4,954.2 L1248.4,957.0 L1247.4,959.8 L1246.4,962.5 L1245.4,965.2 L1244.4,967.8 L1243.4,970.4 L1242.4,972.9 L1241.4,975.4 L1240.4,977.8 L1239.4,980.1 L1238.4,982.4 L1237.4,984.6 L1236.4,986.8 L1235.4,988.9 L1234.4,990.9 L1233.4,992.8 L1232.4,994.7 L1231.4,996.6 L1230.4,998.3 L1229.4,1000.0 L1228.4,1001.6 L1227.4,1003.1 L1226.4,1004.6 L1225.4,1006.0 L1224.4,1007.3 L1223.4,1008.5 L1222.4,1009.6 L1221.4,1010.7 L1220.4,1011.6 L1219.4,1012.5 L1218.4,1013.3 L1217.4,1014.1 L1216.4,1014.7 L1215.4,1015.2 L1214.4,1015.7 L1213.4,1016.1 L1212.4,1016.3 L1211.4,1016.5 L1210.4,1016.6 L1209.4,1016.6 L1208.4,1016.6 L1207.4,1016.4 L1206.4,1016.1 L1205.4,1015.8 L1204.4,1015.3 L1203.4,1014.8 L1202.4,1014.2 L1201.4,1013.5 L1200.4,1012.6 L1199.4,1011.7 L1198.4,1010.7 L1197.4,1009.6 L1196.4,1008.5 L1195.4,1007.2 L1194.4,1005.8 L1193.4,1004.4 L1192.4,1002.8 L1191.4,1001.2 L1190.4,999.6 L1189.4,997.9 L1188.4,996.2 L1187.4,994.4 L1186.4,992.6 L1185.4,990.7 L1184.4,988.9 L1183.4,987.0 L1182.4,985.2 L1181.4,983.3 L1180.4,981.4 L1179.4,979.6 L1178.4,977.8 L1177.4,976.0 L1176.4,974.2 L1175.4,972.5 L1174.4,970.8 L1173.4,969.1 L1172.4,967.4 L1171.4,965.8 L1170.4,964.2 L1169.4,962.7 L1168.4,961.2 L1167.4,959.7 L1166.4,958.3 L1165.4,956.9 L1164.4,955.5 L1163.4,954.2 L1162.4,953.0 L1161.4,951.8 L1160.4,950.6 L1159.4,949.5 L1158.4,948.5 L1157.4,947.5 L1156.4,946.6 L1155.4,945.7 L1154.4,944.9 L1153.4,944.1 L1152.4,943.4 L1151.4,942.8 L1150.4,942.3 L1149.4,941.8 L1148.4,941.4 L1147.4,941.1 L1146.4,940.8 L1145.4,940.6 L1144.4,940.5 L1143.4,940.4 L1142.4,940.4 L1141.4,940.5 L1140.4,940.7 L1139.4,940.8 L1138.4,941.1 L1137.4,941.4 L1136.4,941.8 L1135.4,942.2 L1134.4,942.6 L1133.4,943.1 L1132.4,943.7 L1131.4,944.2 L1130.4,944.9 L1129.4,945.5 L1128.4,946.2 L1127.4,947.0 L1126.4,947.7 L1125.4,948.5 L1124.4,949.4 L1123.4,950.2 L1122.4,951.1 L1121.4,952.0 L1120.4,952.9 L1119.4,953.8 L1118.4,954.8 L1117.4,955.7 L1116.4,956.7 L1115.4,957.7 L1114.4,958.7 L1113.4,959.6 L1112.4,960.6 L1111.4,961.6 L1110.4,962.6 L1109.4,963.6 L1108.4,964.6 L1107.4,965.6 L1106.4,966.5 L1105.4,967.5 L1104.4,968.4 L1103.4,969.4 L1102.4,970.3 L1101.4,971.2 L1100.4,972.0 L1099.4,972.9 L1098.4,973.7 L1097.4,974.5 L1096.4,975.3 L1095.4,976.0 L1094.4,976.7 L1093.4,977.3 L1092.4,978.0 L1091.4,978.5 L1090.4,979.1 L1089.4,979.6 L1088.4,980.0 L1087.4,980.4 L1086.4,980.7 L1085.4,981.0 L1084.4,981.3 L1083.4,981.5 L1082.4,981.6 L1081.4,981.6 L1080.4,981.7 L1079.4,981.6 L1078.4,981.5 L1077.4,981.4 L1076.4,981.2 L1075.4,981.0 L1074.4,980.7 L1073.4,980.5 L1072.4,980.1 L1071.4,979.8 L1070.4,979.4 L1069.4,979.0 L1068.4,978.6 L1067.4,978.2 L1066.4,977.8 L1065.4,977.3 L1064.4,976.9 L1063.4,976.4 L1062.4,976.0 L1061.4,975.5 L1060.4,975.1 L1059.4,974.6 L1058.4,974.2 L1057.4,973.8 L1056.4,973.4 L1055.4,973.0 L1054.4,972.7 L1053.4,972.3 L1052.4,972.0 L1051.4,971.8 L1050.4,971.5 L1049.4,971.4 L1048.4,971.2 L1047.4,971.1 L1046.4,971.1 L1045.4,971.0 L1044.4,971.1 L1043.4,971.2 L1042.4,971.4 L1041.4,971.6 L1040.4,971.9 L1039.4,972.2 L1038.4,972.7 L1037.4,973.2 L1036.4,973.7 L1035.4,974.2 L1034.4,974.8 L1033.4,975.4 L1032.4,976.0 L1031.4,976.6 L1030.4,977.2 L1029.4,977.8 L1028.4,978.3 L1027.4,978.8 L1026.4,979.2 L1025.4,979.6 L1024.4,979.9 L1023.4,980.1 Z" fill="url(#prR)"/>
<path d="M1023.4,920.5 L1024.4,918.2 L1025.4,916.3 L1026.4,914.9 L1027.4,913.8 L1028.4,913.1 L1029.4,912.7 L1030.4,912.6 L1031.4,912.7 L1032.4,913.0 L1033.4,913.5 L1034.4,914.1 L1035.4,914.9 L1036.4,915.7 L1037.4,916.6 L1038.4,917.5 L1039.4,918.4 L1040.4,919.2 L1041.4,920.0 L1042.4,920.8 L1043.4,921.5 L1044.4,922.1 L1045.4,922.8 L1046.4,923.4 L1047.4,924.0 L1048.4,924.6 L1049.4,925.1 L1050.4,925.6 L1051.4,926.1 L1052.4,926.6 L1053.4,927.0 L1054.4,927.5 L1055.4,927.9 L1056.4,928.3 L1057.4,928.7 L1058.4,929.1 L1059.4,929.5 L1060.4,929.8 L1061.4,930.1 L1062.4,930.5 L1063.4,930.8 L1064.4,931.0 L1065.4,931.3 L1066.4,931.6 L1067.4,931.8 L1068.4,932.0 L1069.4,932.3 L1070.4,932.5 L1071.4,932.6 L1072.4,932.8 L1073.4,933.0 L1074.4,933.1 L1075.4,933.3 L1076.4,933.4 L1077.4,933.5 L1078.4,933.6 L1079.4,933.7 L1080.4,933.8 L1081.4,933.8 L1082.4,933.9 L1083.4,933.9 L1084.4,933.9 L1085.4,934.0 L1086.4,934.0 L1087.4,934.0 L1088.4,934.0 L1089.4,933.9 L1090.4,933.9 L1091.4,933.9 L1092.4,933.8 L1093.4,933.7 L1094.4,933.7 L1095.4,933.6 L1096.4,933.5 L1097.4,933.4 L1098.4,933.3 L1099.4,933.2 L1100.4,933.0 L1101.4,932.9 L1102.4,932.8 L1103.4,932.6 L1104.4,932.5 L1105.4,932.3 L1106.4,932.1 L1107.4,932.0 L1108.4,931.8 L1109.4,931.6 L1110.4,931.4 L1111.4,931.2 L1112.4,931.0 L1113.4,930.8 L1114.4,930.6 L1115.4,930.4 L1116.4,930.2 L1117.4,930.0 L1118.4,929.8 L1119.4,929.6 L1120.4,929.4 L1121.4,929.2 L1122.4,929.0 L1123.4,928.8 L1124.4,928.6 L1125.4,928.4 L1126.4,928.2 L1127.4,928.0 L1128.4,927.9 L1129.4,927.7 L1130.4,927.5 L1131.4,927.4 L1132.4,927.2 L1133.4,927.1 L1134.4,926.9 L1135.4,926.8 L1136.4,926.7 L1137.4,926.6 L1138.4,926.5 L1139.4,926.4 L1140.4,926.3 L1141.4,926.2 L1142.4,926.2 L1143.4,926.1 L1144.4,926.1 L1145.4,926.1 L1146.4,926.1 L1147.4,926.1 L1148.4,926.1 L1149.4,926.2 L1150.4,926.2 L1151.4,926.3 L1152.4,926.4 L1153.4,926.5 L1154.4,926.6 L1155.4,926.8 L1156.4,927.0 L1157.4,927.1 L1158.4,927.3 L1159.4,927.6 L1160.4,927.8 L1161.4,928.1 L1162.4,928.4 L1163.4,928.7 L1164.4,929.0 L1165.4,929.4 L1166.4,929.8 L1167.4,930.2 L1168.4,930.6 L1169.4,931.1 L1170.4,931.5 L1171.4,932.1 L1172.4,932.6 L1173.4,933.2 L1174.4,933.8 L1175.4,934.6 L1176.4,935.3 L1177.4,936.2 L1178.4,937.2 L1179.4,938.2 L1180.4,939.4 L1181.4,940.7 L1182.4,942.0 L1183.4,943.4 L1184.4,944.8 L1185.4,946.2 L1186.4,947.5 L1187.4,948.8 L1188.4,949.9 L1189.4,951.1 L1190.4,952.1 L1191.4,953.1 L1192.4,954.1 L1193.4,955.0 L1194.4,955.8 L1195.4,956.5 L1196.4,957.1 L1197.4,957.7 L1198.4,958.3 L1199.4,958.7 L1200.4,959.1 L1201.4,959.4 L1202.4,959.6 L1203.4,959.7 L1204.4,959.8 L1205.4,959.7 L1206.4,959.6 L1207.4,959.5 L1208.4,959.2 L1209.4,958.8 L1210.4,958.3 L1211.4,957.8 L1212.4,957.1 L1213.4,956.3 L1214.4,955.5 L1215.4,954.5 L1216.4,953.3 L1217.4,952.1 L1218.4,950.7 L1219.4,949.2 L1220.4,947.6 L1221.4,945.8 L1222.4,943.9 L1223.4,941.8 L1224.4,939.6 L1225.4,937.3 L1226.4,934.7 L1227.4,932.1 L1228.4,929.2 L1229.4,926.2 L1230.4,923.1 L1231.4,919.8 L1232.4,916.5 L1233.4,913.2 L1234.4,910.0 L1235.4,906.7 L1236.4,903.6 L1237.4,900.7 L1238.4,897.9 L1239.4,895.3 L1240.4,892.7 L1241.4,890.2 L1242.4,887.7 L1243.4,885.2 L1244.4,882.6 L1245.4,879.9 L1246.4,876.9 L1247.4,873.7 L1248.4,870.3 L1249.4,866.6 L1250.4,862.7 L1251.4,858.6 L1252.4,854.4 L1253.4,850.0 L1254.4,845.6 L1255.4,841.2 L1256.4,836.7 L1257.4,832.3 L1258.4,827.9 L1259.4,823.7 L1260.4,819.6 L1261.4,815.6 L1262.4,811.8 L1263.4,808.1 L1264.4,804.4 L1265.4,800.8 L1266.4,797.3 L1267.4,793.7 L1268.4,790.1 L1269.4,786.5 L1270.4,782.8 L1271.4,779.0 L1272.4,775.1 L1273.4,771.1 L1274.4,766.9 L1275.4,762.5 L1276.4,758.0 L1277.4,753.3 L1278.4,748.6 L1279.4,743.9 L1280.4,739.1 L1281.4,734.4 L1282.4,729.6 L1283.4,725.0 L1284.4,720.5 L1285.4,716.1 L1286.4,711.8 L1287.4,707.7 L1288.4,703.8 L1289.4,700.0 L1290.4,696.2 L1291.4,692.7 L1292.4,689.2 L1293.4,685.8 L1294.4,682.5 L1295.4,679.3 L1296.4,676.2 L1297.4,673.2 L1298.4,670.2 L1299.4,667.3 L1300.4,664.5 L1301.4,661.7 L1302.4,658.9 L1303.4,656.2 L1304.4,653.5 L1305.4,650.9 L1306.4,648.3 L1307.4,645.8 L1308.4,643.3 L1309.4,640.9 L1310.4,638.5 L1311.4,636.1 L1312.4,633.8 L1313.4,631.6 L1314.4,629.4 L1315.4,627.2 L1316.4,625.0 L1317.4,622.9 L1318.4,620.9 L1319.4,618.9 L1320.4,616.9 L1321.4,615.0 L1322.4,613.1 L1323.4,611.2 L1324.4,609.4 L1325.4,607.6 L1326.4,605.8 L1327.4,604.1 L1328.4,602.4 L1329.4,600.8 L1330.4,599.2 L1331.4,597.6 L1332.4,596.1 L1333.4,594.6 L1334.4,593.1 L1335.4,591.6 L1336.4,590.2 L1337.4,588.8 L1338.4,587.5 L1339.4,586.2 L1340.4,584.9 L1341.4,583.6 L1342.4,582.4 L1343.4,581.2 L1344.4,580.0 L1345.4,578.8 L1346.4,577.7 L1347.4,576.6 L1348.4,575.5 L1349.4,574.4 L1350.4,573.3 L1351.4,572.3 L1352.4,571.3 L1353.4,570.2 L1354.4,569.2 L1355.4,568.2 L1356.4,567.3 L1357.4,566.3 L1358.4,565.3 L1359.4,564.3 L1360.4,563.4 L1361.4,562.4 L1362.4,561.5 L1363.4,560.5 L1364.4,559.6 L1365.4,558.6 L1366.4,557.7 L1367.4,556.7 L1368.4,555.7 L1369.4,554.7 L1370.4,553.8 L1371.4,552.8 L1372.4,551.8 L1373.4,550.7 L1374.4,549.7 L1375.4,548.7 L1376.4,547.6 L1377.4,546.5 L1378.4,545.4 L1379.4,544.3 L1380.4,543.2 L1381.4,542.0 L1382.4,540.9 L1383.4,539.7 L1384.4,538.4 L1385.4,537.2 L1386.4,535.9 L1387.4,534.6 L1388.4,533.2 L1389.4,531.8 L1390.4,530.4 L1391.4,529.0 L1392.4,527.5 L1393.4,526.0 L1394.4,524.4 L1395.4,522.8 L1396.4,521.2 L1397.4,519.5 L1398.4,517.8 L1399.4,516.0 L1400.4,514.2 L1401.4,512.4 L1402.4,510.5 L1403.4,508.5 L1404.4,506.5 L1405.4,504.4 L1406.4,502.3 L1407.4,500.2 L1408.4,497.9 L1409.4,495.7 L1410.4,493.3 L1411.4,491.0 L1412.4,488.6 L1413.4,486.3 L1414.4,484.0 L1415.4,481.7 L1416.4,479.6 L1417.4,477.6 L1418.4,475.6 L1419.4,473.7 L1420.4,471.9 L1421.4,470.2 L1422.4,468.5 L1423.4,466.9 L1424.4,465.4 L1425.4,463.8 L1426.4,462.4 L1427.4,460.9 L1428.4,459.5 L1429.4,458.1 L1430.4,456.8 L1431.4,455.4 L1432.4,454.1 L1433.4,452.8 L1434.4,451.5 L1435.4,450.3 L1436.4,449.1 L1437.4,448.0 L1438.4,446.8 L1439.4,445.8 L1440.4,444.7 L1441.4,443.8 L1442.4,442.8 L1443.4,441.9 L1444.4,441.1 L1445.4,440.3 L1446.4,439.6 L1447.4,439.0 L1448.4,438.4 L1449.4,437.8 L1450.4,437.4 L1451.4,437.0 L1452.4,436.7 L1453.4,436.5 L1454.4,436.3 L1455.4,436.2 L1456.4,436.2 L1457.4,436.3 L1458.4,436.5 L1459.4,436.7 L1460.4,437.0 L1461.4,437.4 L1462.4,437.9 L1463.4,438.5 L1464.4,439.1 L1465.4,439.8 L1466.4,440.6 L1467.4,441.5 L1468.4,442.4 L1469.4,443.4 L1470.4,444.5 L1471.4,445.6 L1472.4,446.8 L1473.4,448.1 L1474.4,449.4 L1475.4,450.8 L1476.4,452.3 L1477.4,453.8 L1478.4,455.4 L1479.4,457.1 L1480.4,458.8 L1481.4,460.6 L1482.4,462.4 L1483.4,464.3 L1484.4,466.3 L1485.4,468.3 L1486.4,470.4 L1487.4,472.5 L1488.4,474.7 L1489.4,476.9 L1490.4,479.2 L1491.4,481.5 L1492.4,483.9 L1493.4,486.3 L1494.4,488.8 L1495.4,491.3 L1496.4,493.8 L1497.4,496.5 L1498.4,499.1 L1499.4,501.8 L1500.4,504.6 L1501.4,507.3 L1502.4,510.2 L1503.4,513.0 L1504.4,515.9 L1505.4,518.9 L1506.4,521.8 L1507.4,524.8 L1508.4,527.9 L1509.4,530.9 L1510.4,533.9 L1511.4,536.8 L1512.4,539.8 L1513.4,542.7 L1514.4,545.5 L1515.4,548.2 L1516.4,550.9 L1517.4,553.5 L1518.4,555.9 L1519.4,558.3 L1520.4,560.5 L1521.4,562.6 L1522.4,564.7 L1523.4,566.7 L1524.4,568.7 L1525.4,570.7 L1526.4,572.8 L1527.4,575.0 L1528.4,577.2 L1529.4,579.6 L1530.4,582.1 L1531.4,584.8 L1532.4,587.7 L1533.4,590.6 L1534.4,593.6 L1535.4,596.6 L1536.4,599.5 L1537.4,602.2 L1538.4,604.7 L1539.4,606.9 L1540.4,608.9 L1541.4,610.7 L1542.4,612.5 L1543.4,614.1 L1544.4,615.8 L1545.4,617.4 L1546.4,618.9 L1547.4,620.5 L1548.4,622.0 L1549.4,623.4 L1550.4,624.9 L1551.4,626.3 L1552.4,627.7 L1553.4,629.1 L1554.4,630.4 L1555.4,631.8 L1556.4,633.1 L1557.4,634.3 L1558.4,635.6 L1559.4,636.8 L1560.4,638.0 L1561.4,639.2 L1562.4,640.4 L1563.4,641.6 L1564.4,642.7 L1565.4,643.8 L1566.4,644.9 L1567.4,646.0 L1568.4,647.1 L1569.4,648.1 L1570.4,649.2 L1571.4,650.2 L1572.4,651.2 L1573.4,652.2 L1574.4,653.2 L1575.4,654.2 L1576.4,655.2 L1577.4,656.2 L1578.4,657.1 L1579.4,658.1 L1580.4,659.0 L1581.4,660.0 L1582.4,660.9 L1583.4,661.8 L1584.4,662.8 L1585.4,663.7 L1586.4,664.6 L1587.4,665.5 L1588.4,666.4 L1589.4,667.4 L1590.4,668.3 L1591.4,669.2 L1592.4,670.1 L1593.4,671.0 L1594.4,672.0 L1595.4,672.9 L1596.4,673.8 L1597.4,674.8 L1598.4,675.7 L1599.4,676.6 L1600.4,677.5 L1601.4,678.5 L1602.4,679.4 L1603.4,680.3 L1604.4,681.3 L1605.4,682.2 L1606.4,683.1 L1607.4,684.1 L1608.4,685.0 L1609.4,685.9 L1610.4,686.8 L1611.4,687.7 L1612.4,688.6 L1613.4,689.5 L1614.4,690.4 L1615.4,691.3 L1616.4,692.2 L1617.4,693.1 L1618.4,693.9 L1619.4,694.8 L1620.4,695.7 L1621.4,696.5 L1622.4,697.4 L1623.4,698.2 L1624.4,699.0 L1625.4,699.8 L1626.4,700.6 L1627.4,701.4 L1628.4,702.2 L1629.4,703.0 L1630.4,703.8 L1631.4,704.5 L1632.4,705.3 L1633.4,706.0 L1634.4,706.7 L1635.4,707.4 L1636.4,708.1 L1637.4,708.8 L1638.4,709.4 L1639.4,710.1 L1640.4,710.7 L1641.4,711.3 L1642.4,711.9 L1643.4,712.5 L1644.4,713.1 L1645.4,713.7 L1646.4,714.2 L1647.4,714.7 L1648.4,715.2 L1649.4,715.7 L1650.4,716.2 L1651.4,716.6 L1652.4,717.1 L1653.4,717.5 L1654.4,717.9 L1655.4,718.4 L1656.4,718.8 L1657.4,719.2 L1658.4,719.5 L1659.4,719.9 L1660.4,720.3 L1661.4,720.7 L1662.4,721.1 L1663.4,721.4 L1664.4,721.8 L1665.4,722.2 L1666.4,722.6 L1667.4,723.0 L1668.4,723.4 L1669.4,723.8 L1670.4,724.2 L1671.4,724.6 L1672.4,725.0 L1673.4,725.5 L1674.4,725.9 L1675.4,726.4 L1676.4,726.9 L1677.4,727.4 L1678.4,727.9 L1679.4,728.4 L1680.4,728.9 L1681.4,729.4 L1682.4,729.8 L1683.4,730.3 L1684.4,730.7 L1685.4,731.0 L1686.4,731.3 L1687.4,731.6 L1688.4,731.8 L1689.4,731.9 L1690.4,732.0 L1691.4,732.0 L1692.4,731.9 L1693.4,731.7 L1694.4,731.4 L1695.4,731.0 L1696.4,730.5 L1697.4,729.9 L1698.4,729.1 L1699.4,728.2 L1700.4,727.2 L1701.4,726.0 L1702.4,724.7 L1703.4,723.2 L1703.5,723.0 L1703.5,845.2 L1703.4,845.2 L1702.4,846.0 L1701.4,847.3 L1700.4,848.5 L1699.4,849.6 L1698.4,850.7 L1697.4,851.7 L1696.4,852.6 L1695.4,853.5 L1694.4,854.3 L1693.4,855.0 L1692.4,855.7 L1691.4,856.3 L1690.4,856.9 L1689.4,857.3 L1688.4,857.8 L1687.4,858.1 L1686.4,858.5 L1685.4,858.7 L1684.4,858.9 L1683.4,859.1 L1682.4,859.2 L1681.4,859.2 L1680.4,859.2 L1679.4,859.2 L1678.4,859.1 L1677.4,859.0 L1676.4,858.8 L1675.4,858.6 L1674.4,858.3 L1673.4,858.1 L1672.4,857.7 L1671.4,857.4 L1670.4,857.0 L1669.4,856.6 L1668.4,856.1 L1667.4,855.6 L1666.4,855.1 L1665.4,854.5 L1664.4,854.0 L1663.4,853.4 L1662.4,852.8 L1661.4,852.1 L1660.4,851.5 L1659.4,850.8 L1658.4,850.1 L1657.4,849.4 L1656.4,848.7 L1655.4,847.9 L1654.4,847.2 L1653.4,846.4 L1652.4,845.6 L1651.4,844.9 L1650.4,844.1 L1649.4,843.3 L1648.4,842.5 L1647.4,841.7 L1646.4,840.9 L1645.4,840.1 L1644.4,839.3 L1643.4,838.5 L1642.4,837.7 L1641.4,837.0 L1640.4,836.2 L1639.4,835.4 L1638.4,834.7 L1637.4,833.9 L1636.4,833.2 L1635.4,832.4 L1634.4,831.7 L1633.4,831.0 L1632.4,830.3 L1631.4,829.6 L1630.4,828.9 L1629.4,828.2 L1628.4,827.5 L1627.4,826.8 L1626.4,826.1 L1625.4,825.4 L1624.4,824.8 L1623.4,824.1 L1622.4,823.4 L1621.4,822.7 L1620.4,822.0 L1619.4,821.4 L1618.4,820.7 L1617.4,820.0 L1616.4,819.3 L1615.4,818.6 L1614.4,817.9 L1613.4,817.3 L1612.4,816.6 L1611.4,815.9 L1610.4,815.2 L1609.4,814.5 L1608.4,813.7 L1607.4,813.0 L1606.4,812.3 L1605.4,811.6 L1604.4,810.8 L1603.4,810.1 L1602.4,809.3 L1601.4,808.6 L1600.4,807.8 L1599.4,807.0 L1598.4,806.2 L1597.4,805.4 L1596.4,804.6 L1595.4,803.8 L1594.4,802.9 L1593.4,802.1 L1592.4,801.2 L1591.4,800.3 L1590.4,799.4 L1589.4,798.5 L1588.4,797.6 L1587.4,796.7 L1586.4,795.7 L1585.4,794.7 L1584.4,793.8 L1583.4,792.8 L1582.4,791.8 L1581.4,790.7 L1580.4,789.7 L1579.4,788.6 L1578.4,787.5 L1577.4,786.4 L1576.4,785.3 L1575.4,784.2 L1574.4,783.0 L1573.4,781.9 L1572.4,780.7 L1571.4,779.5 L1570.4,778.3 L1569.4,777.0 L1568.4,775.8 L1567.4,774.5 L1566.4,773.2 L1565.4,771.9 L1564.4,770.5 L1563.4,769.2 L1562.4,767.8 L1561.4,766.4 L1560.4,765.0 L1559.4,763.5 L1558.4,762.0 L1557.4,760.6 L1556.4,759.0 L1555.4,757.5 L1554.4,755.9 L1553.4,754.4 L1552.4,752.8 L1551.4,751.1 L1550.4,749.5 L1549.4,747.8 L1548.4,746.1 L1547.4,744.4 L1546.4,742.6 L1545.4,740.9 L1544.4,739.1 L1543.4,737.3 L1542.4,735.4 L1541.4,733.5 L1540.4,731.6 L1539.4,729.7 L1538.4,727.8 L1537.4,725.8 L1536.4,723.9 L1535.4,721.9 L1534.4,719.9 L1533.4,717.9 L1532.4,715.9 L1531.4,713.9 L1530.4,711.9 L1529.4,709.9 L1528.4,708.0 L1527.4,706.0 L1526.4,704.0 L1525.4,702.0 L1524.4,700.0 L1523.4,698.1 L1522.4,696.1 L1521.4,694.1 L1520.4,692.1 L1519.4,690.1 L1518.4,688.2 L1517.4,686.2 L1516.4,684.2 L1515.4,682.2 L1514.4,680.2 L1513.4,678.1 L1512.4,676.1 L1511.4,674.1 L1510.4,672.0 L1509.4,670.0 L1508.4,667.9 L1507.4,665.8 L1506.4,663.8 L1505.4,661.6 L1504.4,659.5 L1503.4,657.4 L1502.4,655.2 L1501.4,653.1 L1500.4,650.9 L1499.4,648.8 L1498.4,646.6 L1497.4,644.5 L1496.4,642.5 L1495.4,640.5 L1494.4,638.5 L1493.4,636.6 L1492.4,634.8 L1491.4,633.1 L1490.4,631.4 L1489.4,629.8 L1488.4,628.3 L1487.4,626.8 L1486.4,625.4 L1485.4,624.1 L1484.4,622.8 L1483.4,621.7 L1482.4,620.5 L1481.4,619.5 L1480.4,618.5 L1479.4,617.6 L1478.4,616.8 L1477.4,616.0 L1476.4,615.3 L1475.4,614.7 L1474.4,614.2 L1473.4,613.7 L1472.4,613.3 L1471.4,613.0 L1470.4,612.7 L1469.4,612.5 L1468.4,612.4 L1467.4,612.3 L1466.4,612.3 L1465.4,612.4 L1464.4,612.5 L1463.4,612.7 L1462.4,613.0 L1461.4,613.3 L1460.4,613.7 L1459.4,614.1 L1458.4,614.6 L1457.4,615.1 L1456.4,615.7 L1455.4,616.4 L1454.4,617.1 L1453.4,617.8 L1452.4,618.6 L1451.4,619.4 L1450.4,620.3 L1449.4,621.2 L1448.4,622.1 L1447.4,623.1 L1446.4,624.2 L1445.4,625.2 L1444.4,626.3 L1443.4,627.5 L1442.4,628.6 L1441.4,629.8 L1440.4,631.0 L1439.4,632.3 L1438.4,633.5 L1437.4,634.8 L1436.4,636.1 L1435.4,637.5 L1434.4,638.8 L1433.4,640.2 L1432.4,641.5 L1431.4,642.9 L1430.4,644.3 L1429.4,645.7 L1428.4,647.1 L1427.4,648.5 L1426.4,649.9 L1425.4,651.3 L1424.4,652.6 L1423.4,654.0 L1422.4,655.4 L1421.4,656.7 L1420.4,658.1 L1419.4,659.4 L1418.4,660.7 L1417.4,662.0 L1416.4,663.3 L1415.4,664.5 L1414.4,665.8 L1413.4,667.0 L1412.4,668.2 L1411.4,669.5 L1410.4,670.7 L1409.4,671.9 L1408.4,673.1 L1407.4,674.2 L1406.4,675.4 L1405.4,676.6 L1404.4,677.8 L1403.4,678.9 L1402.4,680.1 L1401.4,681.3 L1400.4,682.4 L1399.4,683.6 L1398.4,684.7 L1397.4,685.9 L1396.4,687.1 L1395.4,688.3 L1394.4,689.5 L1393.4,690.6 L1392.4,691.8 L1391.4,693.0 L1390.4,694.3 L1389.4,695.5 L1388.4,696.7 L1387.4,698.0 L1386.4,699.2 L1385.4,700.5 L1384.4,701.8 L1383.4,703.1 L1382.4,704.4 L1381.4,705.8 L1380.4,707.1 L1379.4,708.5 L1378.4,709.9 L1377.4,711.3 L1376.4,712.8 L1375.4,714.3 L1374.4,715.7 L1373.4,717.3 L1372.4,718.8 L1371.4,720.4 L1370.4,722.0 L1369.4,723.6 L1368.4,725.2 L1367.4,726.9 L1366.4,728.5 L1365.4,730.2 L1364.4,731.8 L1363.4,733.4 L1362.4,735.1 L1361.4,736.7 L1360.4,738.3 L1359.4,739.8 L1358.4,741.4 L1357.4,742.9 L1356.4,744.3 L1355.4,745.7 L1354.4,747.1 L1353.4,748.4 L1352.4,749.7 L1351.4,750.9 L1350.4,752.0 L1349.4,753.2 L1348.4,754.3 L1347.4,755.3 L1346.4,756.3 L1345.4,757.3 L1344.4,758.3 L1343.4,759.3 L1342.4,760.2 L1341.4,761.2 L1340.4,762.1 L1339.4,763.0 L1338.4,763.9 L1337.4,764.9 L1336.4,765.8 L1335.4,766.7 L1334.4,767.6 L1333.4,768.6 L1332.4,769.6 L1331.4,770.6 L1330.4,771.6 L1329.4,772.6 L1328.4,773.7 L1327.4,774.8 L1326.4,775.9 L1325.4,777.0 L1324.4,778.2 L1323.4,779.4 L1322.4,780.6 L1321.4,781.8 L1320.4,783.1 L1319.4,784.3 L1318.4,785.7 L1317.4,787.0 L1316.4,788.4 L1315.4,789.8 L1314.4,791.2 L1313.4,792.6 L1312.4,794.1 L1311.4,795.6 L1310.4,797.2 L1309.4,798.8 L1308.4,800.4 L1307.4,802.0 L1306.4,803.7 L1305.4,805.4 L1304.4,807.2 L1303.4,809.0 L1302.4,810.8 L1301.4,812.6 L1300.4,814.5 L1299.4,816.5 L1298.4,818.4 L1297.4,820.4 L1296.4,822.5 L1295.4,824.6 L1294.4,826.7 L1293.4,828.8 L1292.4,831.0 L1291.4,833.3 L1290.4,835.6 L1289.4,837.9 L1288.4,840.2 L1287.4,842.6 L1286.4,845.0 L1285.4,847.5 L1284.4,850.0 L1283.4,852.6 L1282.4,855.1 L1281.4,857.8 L1280.4,860.4 L1279.4,863.1 L1278.4,865.9 L1277.4,868.7 L1276.4,871.5 L1275.4,874.4 L1274.4,877.3 L1273.4,880.2 L1272.4,883.2 L1271.4,886.2 L1270.4,889.3 L1269.4,892.3 L1268.4,895.4 L1267.4,898.6 L1266.4,901.7 L1265.4,904.8 L1264.4,908.0 L1263.4,911.2 L1262.4,914.3 L1261.4,917.5 L1260.4,920.7 L1259.4,923.8 L1258.4,927.0 L1257.4,930.1 L1256.4,933.2 L1255.4,936.3 L1254.4,939.4 L1253.4,942.4 L1252.4,945.4 L1251.4,948.4 L1250.4,951.3 L1249.4,954.2 L1248.4,957.0 L1247.4,959.8 L1246.4,962.5 L1245.4,965.2 L1244.4,967.8 L1243.4,970.4 L1242.4,972.9 L1241.4,975.4 L1240.4,977.8 L1239.4,980.1 L1238.4,982.4 L1237.4,984.6 L1236.4,986.8 L1235.4,988.9 L1234.4,990.9 L1233.4,992.8 L1232.4,994.7 L1231.4,996.6 L1230.4,998.3 L1229.4,1000.0 L1228.4,1001.6 L1227.4,1003.1 L1226.4,1004.6 L1225.4,1006.0 L1224.4,1007.3 L1223.4,1008.5 L1222.4,1009.6 L1221.4,1010.7 L1220.4,1011.6 L1219.4,1012.5 L1218.4,1013.3 L1217.4,1014.1 L1216.4,1014.7 L1215.4,1015.2 L1214.4,1015.7 L1213.4,1016.1 L1212.4,1016.3 L1211.4,1016.5 L1210.4,1016.6 L1209.4,1016.6 L1208.4,1016.6 L1207.4,1016.4 L1206.4,1016.1 L1205.4,1015.8 L1204.4,1015.3 L1203.4,1014.8 L1202.4,1014.2 L1201.4,1013.5 L1200.4,1012.6 L1199.4,1011.7 L1198.4,1010.7 L1197.4,1009.6 L1196.4,1008.5 L1195.4,1007.2 L1194.4,1005.8 L1193.4,1004.4 L1192.4,1002.8 L1191.4,1001.2 L1190.4,999.6 L1189.4,997.9 L1188.4,996.2 L1187.4,994.4 L1186.4,992.6 L1185.4,990.7 L1184.4,988.9 L1183.4,987.0 L1182.4,985.2 L1181.4,983.3 L1180.4,981.4 L1179.4,979.6 L1178.4,977.8 L1177.4,976.0 L1176.4,974.2 L1175.4,972.5 L1174.4,970.8 L1173.4,969.1 L1172.4,967.4 L1171.4,965.8 L1170.4,964.2 L1169.4,962.7 L1168.4,961.2 L1167.4,959.7 L1166.4,958.3 L1165.4,956.9 L1164.4,955.5 L1163.4,954.2 L1162.4,953.0 L1161.4,951.8 L1160.4,950.6 L1159.4,949.5 L1158.4,948.5 L1157.4,947.5 L1156.4,946.6 L1155.4,945.7 L1154.4,944.9 L1153.4,944.1 L1152.4,943.4 L1151.4,942.8 L1150.4,942.3 L1149.4,941.8 L1148.4,941.4 L1147.4,941.1 L1146.4,940.8 L1145.4,940.6 L1144.4,940.5 L1143.4,940.4 L1142.4,940.4 L1141.4,940.5 L1140.4,940.7 L1139.4,940.8 L1138.4,941.1 L1137.4,941.4 L1136.4,941.8 L1135.4,942.2 L1134.4,942.6 L1133.4,943.1 L1132.4,943.7 L1131.4,944.2 L1130.4,944.9 L1129.4,945.5 L1128.4,946.2 L1127.4,947.0 L1126.4,947.7 L1125.4,948.5 L1124.4,949.4 L1123.4,950.2 L1122.4,951.1 L1121.4,952.0 L1120.4,952.9 L1119.4,953.8 L1118.4,954.8 L1117.4,955.7 L1116.4,956.7 L1115.4,957.7 L1114.4,958.7 L1113.4,959.6 L1112.4,960.6 L1111.4,961.6 L1110.4,962.6 L1109.4,963.6 L1108.4,964.6 L1107.4,965.6 L1106.4,966.5 L1105.4,967.5 L1104.4,968.4 L1103.4,969.4 L1102.4,970.3 L1101.4,971.2 L1100.4,972.0 L1099.4,972.9 L1098.4,973.7 L1097.4,974.5 L1096.4,975.3 L1095.4,976.0 L1094.4,976.7 L1093.4,977.3 L1092.4,978.0 L1091.4,978.5 L1090.4,979.1 L1089.4,979.6 L1088.4,980.0 L1087.4,980.4 L1086.4,980.7 L1085.4,981.0 L1084.4,981.3 L1083.4,981.5 L1082.4,981.6 L1081.4,981.6 L1080.4,981.7 L1079.4,981.6 L1078.4,981.5 L1077.4,981.4 L1076.4,981.2 L1075.4,981.0 L1074.4,980.7 L1073.4,980.5 L1072.4,980.1 L1071.4,979.8 L1070.4,979.4 L1069.4,979.0 L1068.4,978.6 L1067.4,978.2 L1066.4,977.8 L1065.4,977.3 L1064.4,976.9 L1063.4,976.4 L1062.4,976.0 L1061.4,975.5 L1060.4,975.1 L1059.4,974.6 L1058.4,974.2 L1057.4,973.8 L1056.4,973.4 L1055.4,973.0 L1054.4,972.7 L1053.4,972.3 L1052.4,972.0 L1051.4,971.8 L1050.4,971.5 L1049.4,971.4 L1048.4,971.2 L1047.4,971.1 L1046.4,971.1 L1045.4,971.0 L1044.4,971.1 L1043.4,971.2 L1042.4,971.4 L1041.4,971.6 L1040.4,971.9 L1039.4,972.2 L1038.4,972.7 L1037.4,973.2 L1036.4,973.7 L1035.4,974.2 L1034.4,974.8 L1033.4,975.4 L1032.4,976.0 L1031.4,976.6 L1030.4,977.2 L1029.4,977.8 L1028.4,978.3 L1027.4,978.8 L1026.4,979.2 L1025.4,979.6 L1024.4,979.9 L1023.4,980.1 Z" fill="url(#ppR)" clip-path="url(#clipBR)"/>
<path d="M1023.4,885.1 L1024.4,887.4 L1025.4,889.4 L1026.4,891.0 L1027.4,892.3 L1028.4,893.3 L1029.4,894.0 L1030.4,894.5 L1031.4,894.8 L1032.4,894.8 L1033.4,894.7 L1034.4,894.4 L1035.4,894.0 L1036.4,893.5 L1037.4,892.9 L1038.4,892.2 L1039.4,891.5 L1040.4,890.8 L1041.4,890.0 L1042.4,889.3 L1043.4,888.7 L1044.4,888.1 L1045.4,887.5 L1046.4,886.9 L1047.4,886.4 L1048.4,885.9 L1049.4,885.5 L1050.4,885.1 L1051.4,884.7 L1052.4,884.4 L1053.4,884.1 L1054.4,883.9 L1055.4,883.6 L1056.4,883.4 L1057.4,883.3 L1058.4,883.1 L1059.4,883.0 L1060.4,883.0 L1061.4,882.9 L1062.4,882.9 L1063.4,882.9 L1064.4,883.0 L1065.4,883.0 L1066.4,883.1 L1067.4,883.2 L1068.4,883.4 L1069.4,883.5 L1070.4,883.7 L1071.4,883.9 L1072.4,884.2 L1073.4,884.4 L1074.4,884.7 L1075.4,885.0 L1076.4,885.3 L1077.4,885.7 L1078.4,886.0 L1079.4,886.4 L1080.4,886.8 L1081.4,887.2 L1082.4,887.7 L1083.4,888.1 L1084.4,888.6 L1085.4,889.1 L1086.4,889.5 L1087.4,890.0 L1088.4,890.6 L1089.4,891.1 L1090.4,891.6 L1091.4,892.2 L1092.4,892.7 L1093.4,893.3 L1094.4,893.9 L1095.4,894.5 L1096.4,895.1 L1097.4,895.6 L1098.4,896.2 L1099.4,896.8 L1100.4,897.5 L1101.4,898.1 L1102.4,898.7 L1103.4,899.3 L1104.4,899.9 L1105.4,900.5 L1106.4,901.1 L1107.4,901.7 L1108.4,902.2 L1109.4,902.8 L1110.4,903.4 L1111.4,904.0 L1112.4,904.5 L1113.4,905.1 L1114.4,905.6 L1115.4,906.2 L1116.4,906.7 L1117.4,907.2 L1118.4,907.7 L1119.4,908.1 L1120.4,908.6 L1121.4,909.0 L1122.4,909.5 L1123.4,909.9 L1124.4,910.3 L1125.4,910.6 L1126.4,911.0 L1127.4,911.3 L1128.4,911.6 L1129.4,911.9 L1130.4,912.1 L1131.4,912.3 L1132.4,912.5 L1133.4,912.7 L1134.4,912.9 L1135.4,913.0 L1136.4,913.1 L1137.4,913.1 L1138.4,913.2 L1139.4,913.2 L1140.4,913.2 L1141.4,913.1 L1142.4,913.1 L1143.4,913.0 L1144.4,912.9 L1145.4,912.8 L1146.4,912.6 L1147.4,912.5 L1148.4,912.3 L1149.4,912.1 L1150.4,911.9 L1151.4,911.6 L1152.4,911.4 L1153.4,911.1 L1154.4,910.8 L1155.4,910.5 L1156.4,910.2 L1157.4,909.9 L1158.4,909.6 L1159.4,909.2 L1160.4,908.9 L1161.4,908.5 L1162.4,908.1 L1163.4,907.7 L1164.4,907.3 L1165.4,906.9 L1166.4,906.5 L1167.4,906.0 L1168.4,905.6 L1169.4,905.1 L1170.4,904.7 L1171.4,904.2 L1172.4,903.7 L1173.4,903.2 L1174.4,902.6 L1175.4,902.1 L1176.4,901.5 L1177.4,900.9 L1178.4,900.3 L1179.4,899.7 L1180.4,899.0 L1181.4,898.4 L1182.4,897.6 L1183.4,896.9 L1184.4,896.1 L1185.4,895.4 L1186.4,894.5 L1187.4,893.7 L1188.4,892.8 L1189.4,891.9 L1190.4,890.9 L1191.4,889.9 L1192.4,888.9 L1193.4,887.8 L1194.4,886.7 L1195.4,885.6 L1196.4,884.4 L1197.4,883.2 L1198.4,881.9 L1199.4,880.6 L1200.4,879.3 L1201.4,877.9 L1202.4,876.4 L1203.4,874.9 L1204.4,873.4 L1205.4,871.8 L1206.4,870.2 L1207.4,868.5 L1208.4,866.7 L1209.4,864.9 L1210.4,863.0 L1211.4,861.1 L1212.4,859.2 L1213.4,857.1 L1214.4,855.0 L1215.4,852.9 L1216.4,850.7 L1217.4,848.4 L1218.4,846.1 L1219.4,843.6 L1220.4,841.2 L1221.4,838.6 L1222.4,836.0 L1223.4,833.3 L1224.4,830.6 L1225.4,827.8 L1226.4,824.8 L1227.4,821.8 L1228.4,818.8 L1229.4,815.6 L1230.4,812.3 L1231.4,809.0 L1232.4,805.5 L1233.4,802.0 L1234.4,798.4 L1235.4,794.6 L1236.4,790.8 L1237.4,786.8 L1238.4,782.8 L1239.4,778.6 L1240.4,774.4 L1241.4,770.0 L1242.4,765.5 L1243.4,760.9 L1244.4,756.2 L1245.4,751.4 L1246.4,746.6 L1247.4,741.8 L1248.4,737.0 L1249.4,732.1 L1250.4,727.3 L1251.4,722.6 L1252.4,717.9 L1253.4,713.3 L1254.4,708.8 L1255.4,704.3 L1256.4,700.0 L1257.4,695.7 L1258.4,691.6 L1259.4,687.4 L1260.4,683.4 L1261.4,679.4 L1262.4,675.5 L1263.4,671.6 L1264.4,667.7 L1265.4,663.8 L1266.4,660.0 L1267.4,656.2 L1268.4,652.4 L1269.4,648.7 L1270.4,644.9 L1271.4,641.1 L1272.4,637.3 L1273.4,633.5 L1274.4,629.8 L1275.4,626.0 L1276.4,622.3 L1277.4,618.6 L1278.4,614.9 L1279.4,611.2 L1280.4,607.6 L1281.4,603.9 L1282.4,600.4 L1283.4,596.8 L1284.4,593.3 L1285.4,589.9 L1286.4,586.4 L1287.4,583.1 L1288.4,579.8 L1289.4,576.5 L1290.4,573.3 L1291.4,570.2 L1292.4,567.1 L1293.4,564.1 L1294.4,561.2 L1295.4,558.3 L1296.4,555.5 L1297.4,552.8 L1298.4,550.1 L1299.4,547.6 L1300.4,545.1 L1301.4,542.6 L1302.4,540.2 L1303.4,537.9 L1304.4,535.7 L1305.4,533.5 L1306.4,531.3 L1307.4,529.3 L1308.4,527.2 L1309.4,525.3 L1310.4,523.4 L1311.4,521.5 L1312.4,519.7 L1313.4,517.9 L1314.4,516.2 L1315.4,514.6 L1316.4,513.0 L1317.4,511.4 L1318.4,509.9 L1319.4,508.4 L1320.4,507.0 L1321.4,505.6 L1322.4,504.2 L1323.4,502.9 L1324.4,501.6 L1325.4,500.3 L1326.4,499.1 L1327.4,497.9 L1328.4,496.8 L1329.4,495.6 L1330.4,494.5 L1331.4,493.4 L1332.4,492.4 L1333.4,491.4 L1334.4,490.4 L1335.4,489.4 L1336.4,488.4 L1337.4,487.5 L1338.4,486.5 L1339.4,485.6 L1340.4,484.7 L1341.4,483.8 L1342.4,483.0 L1343.4,482.1 L1344.4,481.2 L1345.4,480.4 L1346.4,479.6 L1347.4,478.7 L1348.4,477.9 L1349.4,477.1 L1350.4,476.3 L1351.4,475.5 L1352.4,474.7 L1353.4,473.9 L1354.4,473.1 L1355.4,472.4 L1356.4,471.6 L1357.4,470.8 L1358.4,470.1 L1359.4,469.3 L1360.4,468.6 L1361.4,467.8 L1362.4,467.1 L1363.4,466.3 L1364.4,465.6 L1365.4,464.9 L1366.4,464.1 L1367.4,463.4 L1368.4,462.7 L1369.4,461.9 L1370.4,461.2 L1371.4,460.5 L1372.4,459.7 L1373.4,459.0 L1374.4,458.3 L1375.4,457.5 L1376.4,456.8 L1377.4,456.1 L1378.4,455.3 L1379.4,454.6 L1380.4,453.8 L1381.4,453.1 L1382.4,452.3 L1383.4,451.6 L1384.4,450.8 L1385.4,450.0 L1386.4,449.3 L1387.4,448.5 L1388.4,447.7 L1389.4,446.9 L1390.4,446.1 L1391.4,445.3 L1392.4,444.5 L1393.4,443.7 L1394.4,442.9 L1395.4,442.0 L1396.4,441.2 L1397.4,440.4 L1398.4,439.5 L1399.4,438.6 L1400.4,437.8 L1401.4,436.9 L1402.4,436.1 L1403.4,435.2 L1404.4,434.3 L1405.4,433.5 L1406.4,432.6 L1407.4,431.8 L1408.4,431.0 L1409.4,430.1 L1410.4,429.3 L1411.4,428.5 L1412.4,427.7 L1413.4,426.9 L1414.4,426.2 L1415.4,425.4 L1416.4,424.7 L1417.4,424.0 L1418.4,423.3 L1419.4,422.6 L1420.4,422.0 L1421.4,421.3 L1422.4,420.7 L1423.4,420.1 L1424.4,419.6 L1425.4,419.1 L1426.4,418.6 L1427.4,418.1 L1428.4,417.7 L1429.4,417.3 L1430.4,416.9 L1431.4,416.6 L1432.4,416.3 L1433.4,416.1 L1434.4,415.8 L1435.4,415.7 L1436.4,415.5 L1437.4,415.5 L1438.4,415.4 L1439.4,415.4 L1440.4,415.5 L1441.4,415.6 L1442.4,415.7 L1443.4,415.9 L1444.4,416.2 L1445.4,416.5 L1446.4,416.8 L1447.4,417.2 L1448.4,417.7 L1449.4,418.2 L1450.4,418.8 L1451.4,419.4 L1452.4,420.1 L1453.4,420.8 L1454.4,421.6 L1455.4,422.4 L1456.4,423.2 L1457.4,424.1 L1458.4,425.1 L1459.4,426.0 L1460.4,427.1 L1461.4,428.1 L1462.4,429.2 L1463.4,430.3 L1464.4,431.5 L1465.4,432.6 L1466.4,433.9 L1467.4,435.1 L1468.4,436.3 L1469.4,437.6 L1470.4,438.9 L1471.4,440.3 L1472.4,441.6 L1473.4,443.0 L1474.4,444.4 L1475.4,445.8 L1476.4,447.2 L1477.4,448.6 L1478.4,450.1 L1479.4,451.5 L1480.4,453.0 L1481.4,454.5 L1482.4,456.0 L1483.4,457.4 L1484.4,459.0 L1485.4,460.5 L1486.4,462.0 L1487.4,463.6 L1488.4,465.2 L1489.4,466.9 L1490.4,468.5 L1491.4,470.3 L1492.4,472.0 L1493.4,473.8 L1494.4,475.7 L1495.4,477.5 L1496.4,479.4 L1497.4,481.1 L1498.4,482.9 L1499.4,484.7 L1500.4,486.4 L1501.4,488.0 L1502.4,489.7 L1503.4,491.3 L1504.4,492.9 L1505.4,494.5 L1506.4,496.1 L1507.4,497.6 L1508.4,499.1 L1509.4,500.6 L1510.4,502.1 L1511.4,503.6 L1512.4,505.0 L1513.4,506.4 L1514.4,507.8 L1515.4,509.2 L1516.4,510.6 L1517.4,511.9 L1518.4,513.3 L1519.4,514.6 L1520.4,516.0 L1521.4,517.3 L1522.4,518.6 L1523.4,519.9 L1524.4,521.2 L1525.4,522.5 L1526.4,523.8 L1527.4,525.0 L1528.4,526.3 L1529.4,527.6 L1530.4,528.9 L1531.4,530.1 L1532.4,531.4 L1533.4,532.6 L1534.4,533.9 L1535.4,535.1 L1536.4,536.4 L1537.4,537.6 L1538.4,538.9 L1539.4,540.1 L1540.4,541.3 L1541.4,542.6 L1542.4,543.8 L1543.4,545.0 L1544.4,546.2 L1545.4,547.5 L1546.4,548.7 L1547.4,549.9 L1548.4,551.1 L1549.4,552.3 L1550.4,553.5 L1551.4,554.7 L1552.4,555.9 L1553.4,557.2 L1554.4,558.4 L1555.4,559.6 L1556.4,560.8 L1557.4,562.0 L1558.4,563.1 L1559.4,564.3 L1560.4,565.5 L1561.4,566.7 L1562.4,567.9 L1563.4,569.1 L1564.4,570.3 L1565.4,571.5 L1566.4,572.7 L1567.4,573.9 L1568.4,575.1 L1569.4,576.2 L1570.4,577.4 L1571.4,578.6 L1572.4,579.8 L1573.4,581.0 L1574.4,582.2 L1575.4,583.4 L1576.4,584.5 L1577.4,585.7 L1578.4,586.9 L1579.4,588.1 L1580.4,589.3 L1581.4,590.5 L1582.4,591.7 L1583.4,592.9 L1584.4,594.0 L1585.4,595.2 L1586.4,596.4 L1587.4,597.6 L1588.4,598.8 L1589.4,600.0 L1590.4,601.2 L1591.4,602.4 L1592.4,603.6 L1593.4,604.8 L1594.4,606.0 L1595.4,607.2 L1596.4,608.4 L1597.4,609.6 L1598.4,610.8 L1599.4,612.0 L1600.4,613.2 L1601.4,614.3 L1602.4,615.5 L1603.4,616.7 L1604.4,617.9 L1605.4,619.0 L1606.4,620.2 L1607.4,621.3 L1608.4,622.5 L1609.4,623.6 L1610.4,624.7 L1611.4,625.9 L1612.4,627.0 L1613.4,628.1 L1614.4,629.2 L1615.4,630.3 L1616.4,631.3 L1617.4,632.4 L1618.4,633.4 L1619.4,634.5 L1620.4,635.5 L1621.4,636.5 L1622.4,637.5 L1623.4,638.5 L1624.4,639.4 L1625.4,640.4 L1626.4,641.3 L1627.4,642.2 L1628.4,643.1 L1629.4,644.0 L1630.4,644.9 L1631.4,645.7 L1632.4,646.6 L1633.4,647.4 L1634.4,648.2 L1635.4,648.9 L1636.4,649.7 L1637.4,650.4 L1638.4,651.1 L1639.4,651.8 L1640.4,652.5 L1641.4,653.1 L1642.4,653.7 L1643.4,654.3 L1644.4,654.9 L1645.4,655.4 L1646.4,655.9 L1647.4,656.4 L1648.4,656.9 L1649.4,657.3 L1650.4,657.7 L1651.4,658.1 L1652.4,658.5 L1653.4,658.8 L1654.4,659.1 L1655.4,659.4 L1656.4,659.6 L1657.4,659.8 L1658.4,660.0 L1659.4,660.1 L1660.4,660.2 L1661.4,660.3 L1662.4,660.4 L1663.4,660.4 L1664.4,660.3 L1665.4,660.3 L1666.4,660.2 L1667.4,660.1 L1668.4,659.9 L1669.4,659.8 L1670.4,659.6 L1671.4,659.3 L1672.4,659.1 L1673.4,658.8 L1674.4,658.5 L1675.4,658.2 L1676.4,657.9 L1677.4,657.5 L1678.4,657.1 L1679.4,656.7 L1680.4,656.4 L1681.4,655.9 L1682.4,655.5 L1683.4,655.1 L1684.4,654.6 L1685.4,654.2 L1686.4,653.7 L1687.4,653.3 L1688.4,652.8 L1689.4,652.3 L1690.4,651.9 L1691.4,651.4 L1692.4,650.9 L1693.4,650.5 L1694.4,650.0 L1695.4,649.5 L1696.4,649.1 L1697.4,648.6 L1698.4,648.2 L1699.4,647.8 L1700.4,647.4 L1701.4,647.0 L1702.4,646.6 L1703.4,646.2 L1703.5,646.2" fill="none" stroke="#4242b4" stroke-width="1.4" stroke-linejoin="round"/>
<path d="M1023.4,949.2 L1024.4,947.8 L1025.4,946.5 L1026.4,945.4 L1027.4,944.5 L1028.4,943.8 L1029.4,943.1 L1030.4,942.7 L1031.4,942.3 L1032.4,942.1 L1033.4,942.0 L1034.4,942.0 L1035.4,942.1 L1036.4,942.3 L1037.4,942.6 L1038.4,942.9 L1039.4,943.3 L1040.4,943.7 L1041.4,944.2 L1042.4,944.7 L1043.4,945.3 L1044.4,945.8 L1045.4,946.4 L1046.4,946.9 L1047.4,947.5 L1048.4,948.0 L1049.4,948.5 L1050.4,948.9 L1051.4,949.4 L1052.4,949.8 L1053.4,950.2 L1054.4,950.6 L1055.4,951.0 L1056.4,951.3 L1057.4,951.6 L1058.4,952.0 L1059.4,952.3 L1060.4,952.5 L1061.4,952.8 L1062.4,953.1 L1063.4,953.3 L1064.4,953.5 L1065.4,953.7 L1066.4,954.0 L1067.4,954.2 L1068.4,954.3 L1069.4,954.5 L1070.4,954.7 L1071.4,954.9 L1072.4,955.0 L1073.4,955.2 L1074.4,955.3 L1075.4,955.5 L1076.4,955.6 L1077.4,955.7 L1078.4,955.9 L1079.4,956.0 L1080.4,956.2 L1081.4,956.3 L1082.4,956.4 L1083.4,956.5 L1084.4,956.6 L1085.4,956.7 L1086.4,956.7 L1087.4,956.8 L1088.4,956.8 L1089.4,956.8 L1090.4,956.7 L1091.4,956.7 L1092.4,956.6 L1093.4,956.5 L1094.4,956.4 L1095.4,956.2 L1096.4,956.0 L1097.4,955.8 L1098.4,955.5 L1099.4,955.2 L1100.4,954.8 L1101.4,954.4 L1102.4,954.0 L1103.4,953.5 L1104.4,953.0 L1105.4,952.5 L1106.4,952.0 L1107.4,951.4 L1108.4,950.8 L1109.4,950.2 L1110.4,949.6 L1111.4,949.0 L1112.4,948.3 L1113.4,947.7 L1114.4,947.0 L1115.4,946.3 L1116.4,945.6 L1117.4,944.9 L1118.4,944.2 L1119.4,943.5 L1120.4,942.8 L1121.4,942.1 L1122.4,941.4 L1123.4,940.8 L1124.4,940.1 L1125.4,939.4 L1126.4,938.8 L1127.4,938.1 L1128.4,937.5 L1129.4,936.9 L1130.4,936.4 L1131.4,935.8 L1132.4,935.3 L1133.4,934.8 L1134.4,934.3 L1135.4,933.8 L1136.4,933.4 L1137.4,933.0 L1138.4,932.7 L1139.4,932.4 L1140.4,932.1 L1141.4,931.9 L1142.4,931.7 L1143.4,931.5 L1144.4,931.5 L1145.4,931.4 L1146.4,931.4 L1147.4,931.5 L1148.4,931.6 L1149.4,931.8 L1150.4,932.0 L1151.4,932.3 L1152.4,932.6 L1153.4,933.0 L1154.4,933.5 L1155.4,934.0 L1156.4,934.6 L1157.4,935.2 L1158.4,935.9 L1159.4,936.6 L1160.4,937.4 L1161.4,938.3 L1162.4,939.1 L1163.4,940.0 L1164.4,941.0 L1165.4,942.0 L1166.4,943.0 L1167.4,944.1 L1168.4,945.2 L1169.4,946.3 L1170.4,947.5 L1171.4,948.7 L1172.4,949.9 L1173.4,951.2 L1174.4,952.4 L1175.4,953.7 L1176.4,955.1 L1177.4,956.4 L1178.4,957.7 L1179.4,959.1 L1180.4,960.5 L1181.4,961.9 L1182.4,963.3 L1183.4,964.7 L1184.4,966.1 L1185.4,967.6 L1186.4,969.0 L1187.4,970.4 L1188.4,971.8 L1189.4,973.2 L1190.4,974.6 L1191.4,976.0 L1192.4,977.3 L1193.4,978.6 L1194.4,979.8 L1195.4,981.0 L1196.4,982.2 L1197.4,983.3 L1198.4,984.3 L1199.4,985.2 L1200.4,986.1 L1201.4,986.8 L1202.4,987.5 L1203.4,988.1 L1204.4,988.6 L1205.4,988.9 L1206.4,989.2 L1207.4,989.3 L1208.4,989.3 L1209.4,989.2 L1210.4,989.0 L1211.4,988.7 L1212.4,988.2 L1213.4,987.7 L1214.4,987.1 L1215.4,986.3 L1216.4,985.5 L1217.4,984.6 L1218.4,983.6 L1219.4,982.6 L1220.4,981.4 L1221.4,980.2 L1222.4,979.0 L1223.4,977.7 L1224.4,976.3 L1225.4,974.8 L1226.4,973.4 L1227.4,971.9 L1228.4,970.3 L1229.4,968.7 L1230.4,967.0 L1231.4,965.2 L1232.4,963.4 L1233.4,961.4 L1234.4,959.4 L1235.4,957.3 L1236.4,955.1 L1237.4,952.8 L1238.4,950.3 L1239.4,947.8 L1240.4,945.1 L1241.4,942.3 L1242.4,939.3 L1243.4,936.2 L1244.4,932.9 L1245.4,929.5 L1246.4,925.9 L1247.4,922.2 L1248.4,918.4 L1249.4,914.5 L1250.4,910.5 L1251.4,906.5 L1252.4,902.4 L1253.4,898.2 L1254.4,894.0 L1255.4,889.8 L1256.4,885.6 L1257.4,881.5 L1258.4,877.3 L1259.4,873.3 L1260.4,869.3 L1261.4,865.3 L1262.4,861.4 L1263.4,857.6 L1264.4,853.9 L1265.4,850.2 L1266.4,846.5 L1267.4,842.9 L1268.4,839.3 L1269.4,835.8 L1270.4,832.3 L1271.4,828.8 L1272.4,825.3 L1273.4,821.8 L1274.4,818.4 L1275.4,814.9 L1276.4,811.5 L1277.4,808.0 L1278.4,804.6 L1279.4,801.2 L1280.4,797.9 L1281.4,794.6 L1282.4,791.3 L1283.4,788.1 L1284.4,785.0 L1285.4,781.9 L1286.4,778.9 L1287.4,776.0 L1288.4,773.2 L1289.4,770.4 L1290.4,767.7 L1291.4,765.0 L1292.4,762.4 L1293.4,759.9 L1294.4,757.4 L1295.4,754.9 L1296.4,752.5 L1297.4,750.1 L1298.4,747.8 L1299.4,745.4 L1300.4,743.1 L1301.4,740.9 L1302.4,738.6 L1303.4,736.4 L1304.4,734.2 L1305.4,732.1 L1306.4,729.9 L1307.4,727.8 L1308.4,725.7 L1309.4,723.7 L1310.4,721.6 L1311.4,719.6 L1312.4,717.6 L1313.4,715.7 L1314.4,713.7 L1315.4,711.8 L1316.4,709.9 L1317.4,708.1 L1318.4,706.2 L1319.4,704.4 L1320.4,702.6 L1321.4,700.8 L1322.4,699.1 L1323.4,697.3 L1324.4,695.6 L1325.4,693.9 L1326.4,692.2 L1327.4,690.6 L1328.4,688.9 L1329.4,687.3 L1330.4,685.7 L1331.4,684.1 L1332.4,682.6 L1333.4,681.0 L1334.4,679.5 L1335.4,678.0 L1336.4,676.5 L1337.4,675.0 L1338.4,673.5 L1339.4,672.1 L1340.4,670.6 L1341.4,669.2 L1342.4,667.8 L1343.4,666.4 L1344.4,665.0 L1345.4,663.7 L1346.4,662.3 L1347.4,661.0 L1348.4,659.6 L1349.4,658.3 L1350.4,657.0 L1351.4,655.7 L1352.4,654.4 L1353.4,653.2 L1354.4,651.9 L1355.4,650.6 L1356.4,649.4 L1357.4,648.1 L1358.4,646.8 L1359.4,645.6 L1360.4,644.3 L1361.4,643.1 L1362.4,641.8 L1363.4,640.6 L1364.4,639.3 L1365.4,638.1 L1366.4,636.8 L1367.4,635.5 L1368.4,634.2 L1369.4,633.0 L1370.4,631.7 L1371.4,630.4 L1372.4,629.0 L1373.4,627.7 L1374.4,626.4 L1375.4,625.0 L1376.4,623.7 L1377.4,622.3 L1378.4,620.9 L1379.4,619.5 L1380.4,618.0 L1381.4,616.6 L1382.4,615.1 L1383.4,613.6 L1384.4,612.1 L1385.4,610.5 L1386.4,609.0 L1387.4,607.5 L1388.4,605.9 L1389.4,604.4 L1390.4,602.8 L1391.4,601.3 L1392.4,599.8 L1393.4,598.3 L1394.4,596.9 L1395.4,595.5 L1396.4,594.1 L1397.4,592.8 L1398.4,591.4 L1399.4,590.2 L1400.4,588.9 L1401.4,587.7 L1402.4,586.4 L1403.4,585.2 L1404.4,584.0 L1405.4,582.8 L1406.4,581.5 L1407.4,580.3 L1408.4,579.0 L1409.4,577.7 L1410.4,576.4 L1411.4,575.1 L1412.4,573.7 L1413.4,572.3 L1414.4,570.9 L1415.4,569.5 L1416.4,568.0 L1417.4,566.6 L1418.4,565.1 L1419.4,563.7 L1420.4,562.2 L1421.4,560.7 L1422.4,559.2 L1423.4,557.7 L1424.4,556.2 L1425.4,554.8 L1426.4,553.3 L1427.4,551.8 L1428.4,550.4 L1429.4,549.0 L1430.4,547.5 L1431.4,546.1 L1432.4,544.8 L1433.4,543.4 L1434.4,542.1 L1435.4,540.8 L1436.4,539.5 L1437.4,538.3 L1438.4,537.0 L1439.4,535.9 L1440.4,534.7 L1441.4,533.6 L1442.4,532.6 L1443.4,531.6 L1444.4,530.6 L1445.4,529.7 L1446.4,528.9 L1447.4,528.0 L1448.4,527.3 L1449.4,526.6 L1450.4,526.0 L1451.4,525.4 L1452.4,524.9 L1453.4,524.5 L1454.4,524.1 L1455.4,523.8 L1456.4,523.6 L1457.4,523.4 L1458.4,523.4 L1459.4,523.4 L1460.4,523.5 L1461.4,523.6 L1462.4,523.9 L1463.4,524.2 L1464.4,524.7 L1465.4,525.2 L1466.4,525.7 L1467.4,526.4 L1468.4,527.1 L1469.4,527.9 L1470.4,528.8 L1471.4,529.7 L1472.4,530.7 L1473.4,531.8 L1474.4,532.9 L1475.4,534.1 L1476.4,535.4 L1477.4,536.7 L1478.4,538.0 L1479.4,539.5 L1480.4,540.9 L1481.4,542.5 L1482.4,544.0 L1483.4,545.7 L1484.4,547.3 L1485.4,549.1 L1486.4,550.8 L1487.4,552.6 L1488.4,554.5 L1489.4,556.3 L1490.4,558.2 L1491.4,560.2 L1492.4,562.2 L1493.4,564.2 L1494.4,566.2 L1495.4,568.3 L1496.4,570.4 L1497.4,572.5 L1498.4,574.7 L1499.4,576.8 L1500.4,579.0 L1501.4,581.2 L1502.4,583.4 L1503.4,585.7 L1504.4,587.9 L1505.4,590.2 L1506.4,592.5 L1507.4,594.7 L1508.4,597.0 L1509.4,599.3 L1510.4,601.6 L1511.4,603.9 L1512.4,606.2 L1513.4,608.5 L1514.4,610.8 L1515.4,613.0 L1516.4,615.3 L1517.4,617.6 L1518.4,619.8 L1519.4,622.1 L1520.4,624.3 L1521.4,626.5 L1522.4,628.7 L1523.4,630.9 L1524.4,633.0 L1525.4,635.2 L1526.4,637.3 L1527.4,639.4 L1528.4,641.5 L1529.4,643.5 L1530.4,645.6 L1531.4,647.6 L1532.4,649.6 L1533.4,651.6 L1534.4,653.6 L1535.4,655.5 L1536.4,657.5 L1537.4,659.4 L1538.4,661.3 L1539.4,663.2 L1540.4,665.0 L1541.4,666.9 L1542.4,668.7 L1543.4,670.5 L1544.4,672.3 L1545.4,674.1 L1546.4,675.9 L1547.4,677.6 L1548.4,679.3 L1549.4,681.0 L1550.4,682.7 L1551.4,684.4 L1552.4,686.1 L1553.4,687.7 L1554.4,689.3 L1555.4,690.9 L1556.4,692.5 L1557.4,694.1 L1558.4,695.7 L1559.4,697.2 L1560.4,698.7 L1561.4,700.3 L1562.4,701.7 L1563.4,703.2 L1564.4,704.7 L1565.4,706.1 L1566.4,707.6 L1567.4,709.0 L1568.4,710.4 L1569.4,711.8 L1570.4,713.1 L1571.4,714.5 L1572.4,715.8 L1573.4,717.2 L1574.4,718.5 L1575.4,719.8 L1576.4,721.1 L1577.4,722.3 L1578.4,723.6 L1579.4,724.8 L1580.4,726.0 L1581.4,727.2 L1582.4,728.4 L1583.4,729.6 L1584.4,730.8 L1585.4,731.9 L1586.4,733.1 L1587.4,734.2 L1588.4,735.3 L1589.4,736.4 L1590.4,737.5 L1591.4,738.5 L1592.4,739.6 L1593.4,740.6 L1594.4,741.7 L1595.4,742.7 L1596.4,743.7 L1597.4,744.7 L1598.4,745.6 L1599.4,746.6 L1600.4,747.5 L1601.4,748.5 L1602.4,749.4 L1603.4,750.3 L1604.4,751.2 L1605.4,752.1 L1606.4,753.0 L1607.4,753.8 L1608.4,754.7 L1609.4,755.5 L1610.4,756.3 L1611.4,757.1 L1612.4,757.9 L1613.4,758.7 L1614.4,759.5 L1615.4,760.3 L1616.4,761.0 L1617.4,761.8 L1618.4,762.5 L1619.4,763.2 L1620.4,763.9 L1621.4,764.6 L1622.4,765.3 L1623.4,766.0 L1624.4,766.6 L1625.4,767.3 L1626.4,767.9 L1627.4,768.6 L1628.4,769.2 L1629.4,769.8 L1630.4,770.4 L1631.4,771.0 L1632.4,771.6 L1633.4,772.2 L1634.4,772.8 L1635.4,773.4 L1636.4,773.9 L1637.4,774.5 L1638.4,775.0 L1639.4,775.6 L1640.4,776.1 L1641.4,776.6 L1642.4,777.2 L1643.4,777.7 L1644.4,778.2 L1645.4,778.7 L1646.4,779.2 L1647.4,779.7 L1648.4,780.2 L1649.4,780.6 L1650.4,781.1 L1651.4,781.6 L1652.4,782.0 L1653.4,782.5 L1654.4,783.0 L1655.4,783.4 L1656.4,783.9 L1657.4,784.3 L1658.4,784.8 L1659.4,785.2 L1660.4,785.6 L1661.4,786.1 L1662.4,786.5 L1663.4,786.9 L1664.4,787.3 L1665.4,787.8 L1666.4,788.2 L1667.4,788.6 L1668.4,789.0 L1669.4,789.4 L1670.4,789.9 L1671.4,790.3 L1672.4,790.7 L1673.4,791.1 L1674.4,791.5 L1675.4,791.9 L1676.4,792.3 L1677.4,792.8 L1678.4,793.2 L1679.4,793.6 L1680.4,793.9 L1681.4,794.3 L1682.4,794.6 L1683.4,794.8 L1684.4,795.1 L1685.4,795.2 L1686.4,795.3 L1687.4,795.3 L1688.4,795.3 L1689.4,795.1 L1690.4,794.9 L1691.4,794.5 L1692.4,794.1 L1693.4,793.5 L1694.4,792.8 L1695.4,791.9 L1696.4,791.0 L1697.4,789.8 L1698.4,788.6 L1699.4,787.1 L1700.4,785.5 L1701.4,783.7 L1702.4,781.7 L1703.4,780.5 L1703.5,780.5" fill="none" stroke="#c85664" stroke-width="1.4" stroke-linejoin="round"/>

<g stroke="#8a8a8a" stroke-width="1.2" fill="none">
<path d="M1023.3,235.5 V1058.2 H1704.8"/>
<path d="M1023.3,235.5 h7 M1023.3,372.6 h7 M1023.3,509.7 h7 M1023.3,646.8 h7 M1023.3,784 h7 M1023.3,921.1 h7"/>
<path d="M1136.8,1058.2 v-7 M1250.4,1058.2 v-7 M1364,1058.2 v-7 M1477.6,1058.2 v-7 M1591.2,1058.2 v-7 M1704.8,1058.2 v-7"/>
</g>
<g class="tk" font-size="25.6" text-anchor="end">
<text x="1014" y="244.9">25</text>
<text x="1014" y="382">20</text>
<text x="1014" y="519.1">15</text>
<text x="1014" y="656.2">10</text>
<text x="1014" y="793.4">5</text>
<text x="1014" y="930.5">0</text>
<text x="1014" y="1067.4">-5</text>
</g>
<g class="tk" font-size="25.3" text-anchor="middle">
<text x="1022.5" y="1088.6">-200</text>
<text x="1136.8" y="1088.6">0</text>
<text x="1250.4" y="1088.6">200</text>
<text x="1364" y="1088.6">400</text>
<text x="1477.6" y="1088.6">600</text>
<text x="1591.2" y="1088.6">800</text>
<text x="1704.8" y="1088.6">1000</text>
</g>
<text class="lab" transform="translate(1363.8,1132.6) scale(1,1.03)" font-size="41.8" text-anchor="middle">Time (ms)</text>
<text class="lab" transform="translate(974,646.3) rotate(-90) scale(1,1.03)" font-size="41.7" text-anchor="middle">Pitch Corrective Magnitude (cents)</text>
<line x1="1136.5" y1="372" x2="1363.6" y2="372" stroke="#3a3a3a" stroke-width="1.2" marker-start="url(#ah)" marker-end="url(#ah)"/>
<text x="1256.6" y="354.3" font-size="25.3" font-weight="bold" fill="#404040" text-anchor="middle">Perturbation</text>
<line x1="1459.4" y1="937.3" x2="1496.5" y2="937.3" stroke="#6c6cc8" stroke-width="1.8"/>
<line x1="1459.4" y1="988.5" x2="1496.5" y2="988.5" stroke="#d86a78" stroke-width="1.8"/>
<text class="leg" x="1499" y="947.7" font-size="29.6">Baseline</text>
<text class="leg" x="1499" y="982.5" font-size="29.6">After Control</text>
<text class="leg" x="1499" y="1014.6" font-size="29.6">rTMS</text>
</svg>
</body></html>
